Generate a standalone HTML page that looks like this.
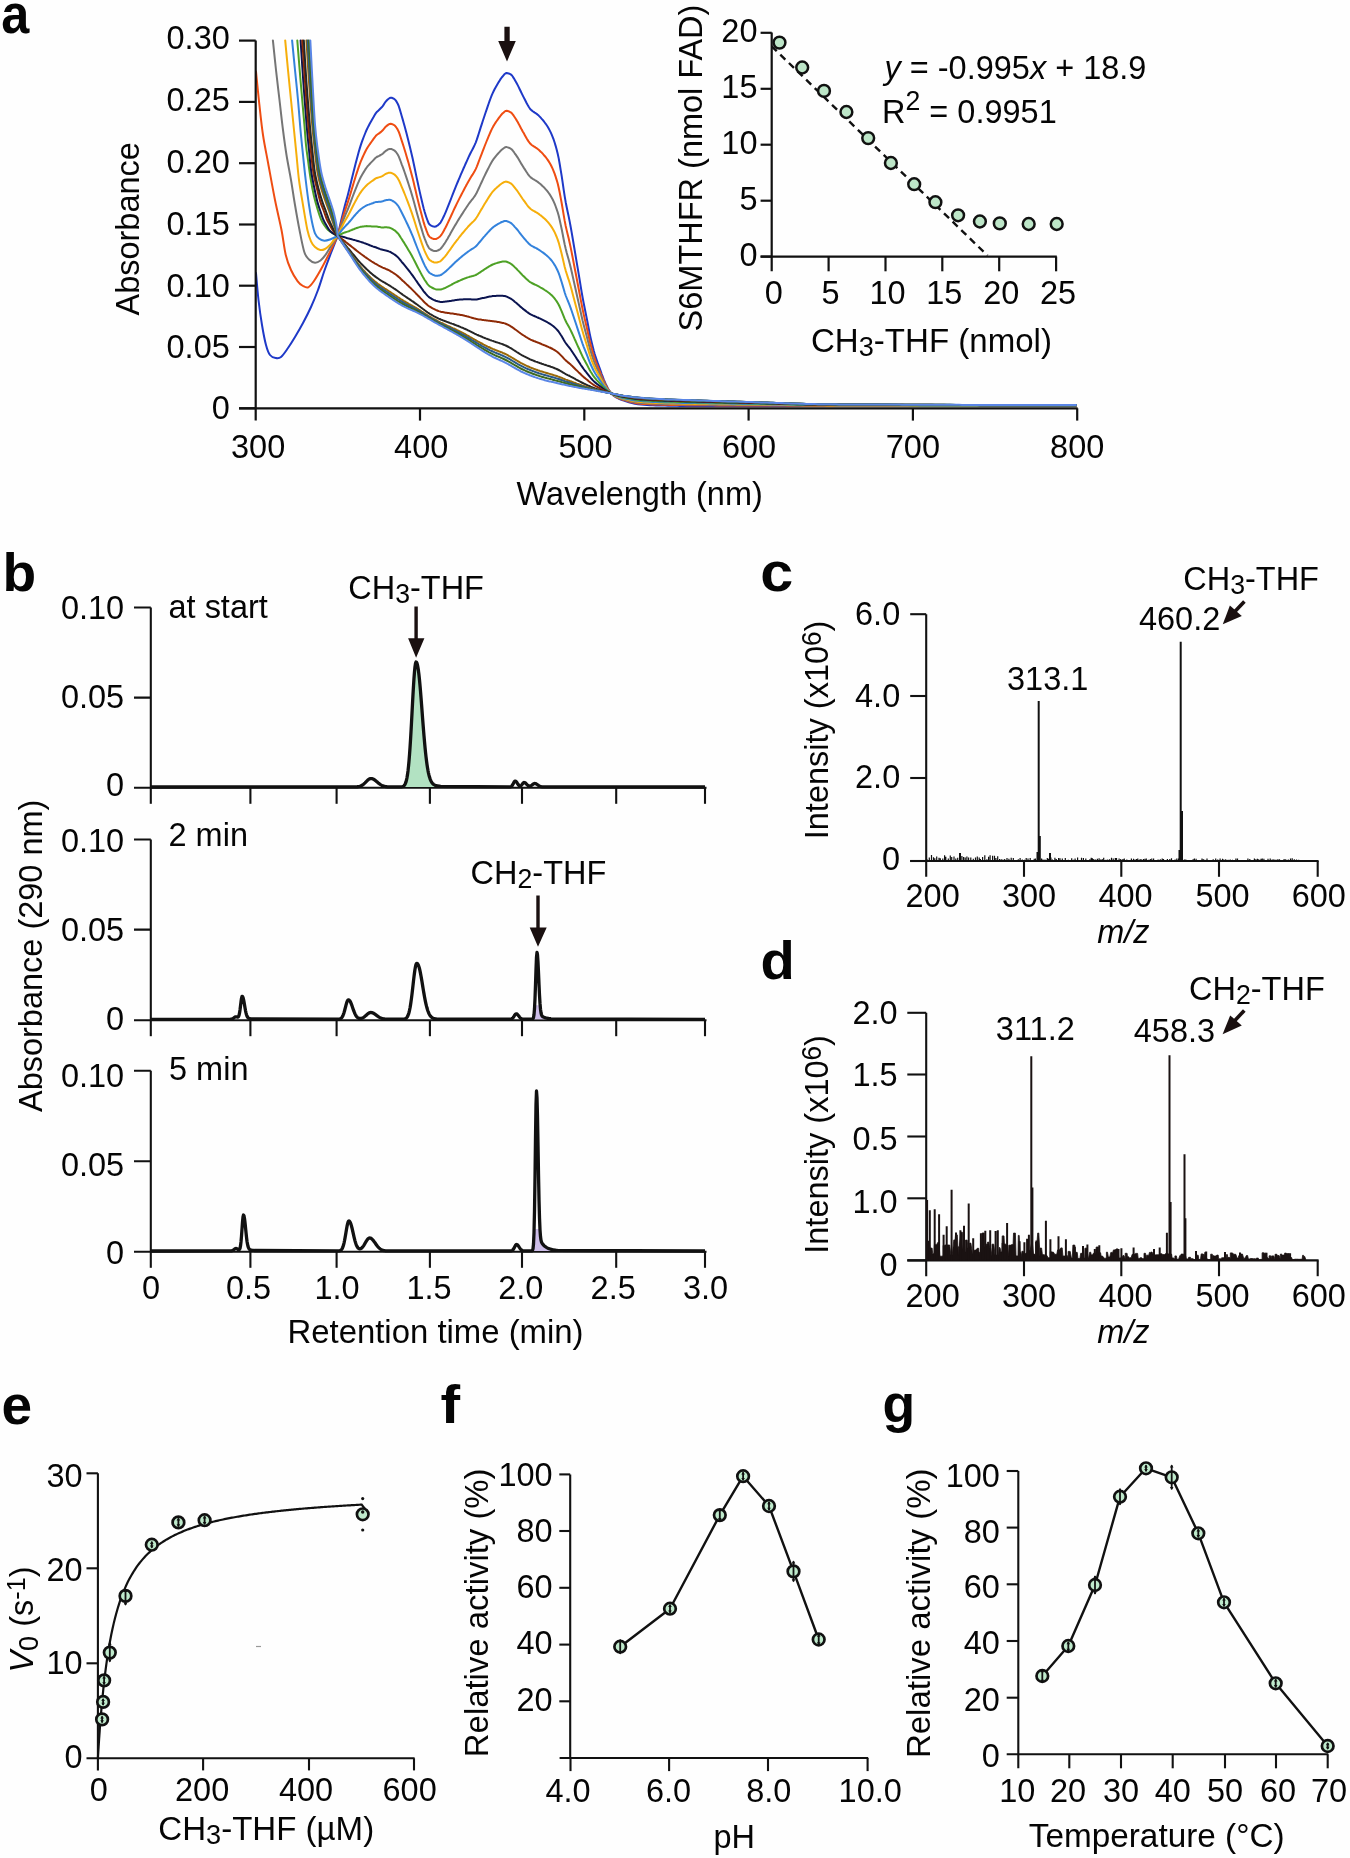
<!DOCTYPE html>
<html><head><meta charset="utf-8"><style>
html,body{margin:0;padding:0;background:#fff;}
svg{display:block;will-change:transform;}
text{font-family:"Liberation Sans",sans-serif;fill:#050505;}
</style></head><body>
<svg width="1350" height="1858" viewBox="0 0 1350 1858">
<rect width="1350" height="1858" fill="#fefefe"/>
<g fill="none" stroke-width="2" stroke-linejoin="round" stroke-linecap="round">
<path d="M256,273C256.42,277.5 257.5,291.33 258.5,300C259.5,308.67 260.75,317.5 262,325C263.25,332.5 264.67,340 266,345C267.33,350 268.38,352.83 270,355C271.62,357.17 273.87,357.67 275.7,358C277.53,358.33 278.95,358.67 281,357C283.05,355.33 285.67,351.33 288,348C290.33,344.67 292.5,341.17 295,337C297.5,332.83 300.33,328 303,323C305.67,318 308.5,312.5 311,307C313.5,301.5 315.78,296 318,290C320.22,284 322.13,277.17 324.3,271C326.47,264.83 328.77,258.83 331,253C333.23,247.17 336.58,238.83 337.7,236 L338.7,231.4 L339.7,226.9 L340.7,222.6 L341.7,218.3 L342.7,214.2 L343.7,210.2 L344.7,206.3 L345.7,202.6 L346.7,199.0 L347.7,195.4 L348.7,191.6 L349.7,187.6 L350.7,183.5 L351.7,179.3 L352.7,175.2 L353.7,171.2 L354.7,167.2 L355.7,163.2 L356.7,159.4 L357.7,155.7 L358.7,152.0 L359.7,148.6 L360.7,145.4 L361.7,142.4 L362.7,139.7 L363.7,137.0 L364.7,134.5 L365.7,132.0 L366.7,129.7 L367.7,127.6 L368.7,125.7 L369.7,123.8 L370.7,122.0 L371.7,120.2 L372.7,118.5 L373.7,116.8 L374.7,115.0 L375.7,113.4 L376.7,112.1 L377.7,111.2 L378.7,110.3 L379.7,109.3 L380.7,108.3 L381.7,107.3 L382.7,106.1 L383.7,104.6 L384.7,103.0 L385.7,101.6 L386.7,100.5 L387.7,99.5 L388.7,98.7 L389.7,98.0 L390.7,97.7 L391.7,97.8 L392.7,98.2 L393.7,98.7 L394.7,99.3 L395.7,100.4 L396.7,101.9 L397.7,103.7 L398.7,106.0 L399.7,109.1 L400.7,112.5 L401.7,116.0 L402.7,119.4 L403.7,122.9 L404.7,126.5 L405.7,130.3 L406.7,134.1 L407.7,138.0 L408.7,141.9 L409.7,146.0 L410.7,150.2 L411.7,154.4 L412.7,158.8 L413.7,163.5 L414.7,168.2 L415.7,173.1 L416.7,177.9 L417.7,182.5 L418.7,187.1 L419.7,191.6 L420.7,196.0 L421.7,200.2 L422.7,204.4 L423.7,208.4 L424.7,212.0 L425.7,215.2 L426.7,218.2 L427.7,221.0 L428.7,223.3 L429.7,224.6 L430.7,225.3 L431.7,225.9 L432.7,226.3 L433.7,226.6 L434.7,226.7 L435.7,226.5 L436.7,226.0 L437.7,225.4 L438.7,224.5 L439.7,223.6 L440.7,222.3 L441.7,220.6 L442.7,218.6 L443.7,216.5 L444.7,214.4 L445.7,212.1 L446.7,209.7 L447.7,207.2 L448.7,204.7 L449.7,202.1 L450.7,199.6 L451.7,197.0 L452.7,194.4 L453.7,191.8 L454.7,189.3 L455.7,186.9 L456.7,184.4 L457.7,182.0 L458.7,179.6 L459.7,177.3 L460.7,174.9 L461.7,172.6 L462.7,170.3 L463.7,168.0 L464.7,165.8 L465.7,163.5 L466.7,161.3 L467.7,159.1 L468.7,156.9 L469.7,154.8 L470.7,152.8 L471.7,150.9 L472.7,149.0 L473.7,147.0 L474.7,144.9 L475.7,142.6 L476.7,139.9 L477.7,136.9 L478.7,133.8 L479.7,130.6 L480.7,127.4 L481.7,124.4 L482.7,121.3 L483.7,118.3 L484.7,115.2 L485.7,112.2 L486.7,109.3 L487.7,106.4 L488.7,103.5 L489.7,100.7 L490.7,98.0 L491.7,95.4 L492.7,93.1 L493.7,91.0 L494.7,89.0 L495.7,87.2 L496.7,85.5 L497.7,83.8 L498.7,82.1 L499.7,80.5 L500.7,78.9 L501.7,77.5 L502.7,76.3 L503.7,75.1 L504.7,74.0 L505.7,73.3 L506.7,73.1 L507.7,73.3 L508.7,73.5 L509.7,73.9 L510.7,74.4 L511.7,75.2 L512.7,76.5 L513.7,78.1 L514.7,79.8 L515.7,81.5 L516.7,83.2 L517.7,85.1 L518.7,87.1 L519.7,89.2 L520.7,91.3 L521.7,93.4 L522.7,95.4 L523.7,97.4 L524.7,99.3 L525.7,101.3 L526.7,103.3 L527.7,105.1 L528.7,106.8 L529.7,108.3 L530.7,109.5 L531.7,110.4 L532.7,111.2 L533.7,111.9 L534.7,112.6 L535.7,113.2 L536.7,113.9 L537.7,114.7 L538.7,115.6 L539.7,116.6 L540.7,117.7 L541.7,118.8 L542.7,119.9 L543.7,121.2 L544.7,122.5 L545.7,123.8 L546.7,125.3 L547.7,126.8 L548.7,128.5 L549.7,130.4 L550.7,132.4 L551.7,134.6 L552.7,137.1 L553.7,139.7 L554.7,142.8 L555.7,146.1 L556.7,149.8 L557.7,153.8 L558.7,158.4 L559.7,164.0 L560.7,170.1 L561.7,176.2 L562.7,182.9 L563.7,189.8 L564.7,196.4 L565.7,202.2 L566.7,207.3 L567.7,212.0 L568.7,216.6 L569.7,221.6 L570.7,227.0 L571.7,232.6 L572.7,238.5 L573.7,244.5 L574.7,250.4 L575.7,256.3 L576.7,262.3 L577.7,268.2 L578.7,274.2 L579.7,280.2 L580.7,286.3 L581.7,292.3 L582.7,298.0 L583.7,303.3 L584.7,308.3 L585.7,313.2 L586.7,318.1 L587.7,323.2 L588.7,328.5 L589.7,333.6 L590.7,338.2 L591.7,342.5 L592.7,346.6 L593.7,350.5 L594.7,354.0 L595.7,357.2 L596.7,360.1 L597.7,362.9 L598.7,365.5 L599.7,368.3 L600.7,371.1 L601.7,374.0 L602.7,376.7 L603.7,379.3 L604.7,381.6 L605.7,383.9 L606.7,386.0 L607.7,388.0 L608.7,389.7 L609.7,391.2 L610.7,392.6 L611.7,393.8 L612.7,394.9 L613.7,395.8 L614.7,396.5 L615.7,397.1 L616.7,397.7 L617.7,398.2 L618.7,398.7 L619.7,399.1 L620.0,399.2 L623.0,400.4 L626.0,401.3 L629.0,402.2 L632.0,403.1 L635.0,403.8 L638.0,404.3 L641.0,404.6 L644.0,404.8 L647.0,405.0 L650.0,405.2 L653.0,405.3 L656.0,405.4 L659.0,405.5 L662.0,405.5 L665.0,405.6 L668.0,405.7 L671.0,405.7 L674.0,405.8 L677.0,405.8 L680.0,405.9 L683.0,405.9 L686.0,405.9 L689.0,406.0 L692.0,406.0 L695.0,406.0 L698.0,406.0 L701.0,406.0 L704.0,406.0 L707.0,406.0 L710.0,406.0 L713.0,406.0 L716.0,406.0 L719.0,406.0 L722.0,406.0 L725.0,406.0 L728.0,406.0 L731.0,406.0 L734.0,406.0 L737.0,406.0 L740.0,406.0 L743.0,406.0 L746.0,406.0 L749.0,406.0 L752.0,406.0 L755.0,406.0 L758.0,406.0 L761.0,406.0 L764.0,406.0 L767.0,406.0 L770.0,406.0 L773.0,406.0 L776.0,406.0 L779.0,406.0 L782.0,406.0 L785.0,406.0 L788.0,406.0 L791.0,406.0 L794.0,406.0 L797.0,406.0 L800.0,406.0 L803.0,406.0 L806.0,406.0 L809.0,406.0 L812.0,406.0 L815.0,406.0 L818.0,406.0 L821.0,406.0 L824.0,406.0 L827.0,406.0 L830.0,406.0 L833.0,406.0 L836.0,406.0 L839.0,406.0 L842.0,406.0 L845.0,406.0 L848.0,406.0 L851.0,406.0 L854.0,406.0 L857.0,406.0 L860.0,406.0 L863.0,406.0 L866.0,406.0 L869.0,406.0 L872.0,406.0 L875.0,406.0 L878.0,406.0 L881.0,406.0 L884.0,406.0 L887.0,406.0 L890.0,406.0 L893.0,406.0 L896.0,406.0 L899.0,406.0 L902.0,406.0 L905.0,406.0 L908.0,406.0 L911.0,406.0 L914.0,406.0 L917.0,406.0 L920.0,406.0 L923.0,406.0 L926.0,406.0 L929.0,406.0 L932.0,406.0 L935.0,406.0 L938.0,406.0 L941.0,406.0 L944.0,406.0 L947.0,406.0 L950.0,406.0 L953.0,406.0 L956.0,406.0 L959.0,406.0 L962.0,406.0 L965.0,406.0 L968.0,406.0 L971.0,406.0 L974.0,406.0 L977.0,406.0 L980.0,406.0 L983.0,406.0 L986.0,406.0 L989.0,406.0 L992.0,406.0 L995.0,406.0 L998.0,406.0 L1001.0,406.0 L1004.0,406.0 L1007.0,406.0 L1010.0,406.0 L1013.0,406.0 L1016.0,406.0 L1019.0,406.0 L1022.0,406.0 L1025.0,406.0 L1028.0,406.0 L1031.0,406.0 L1034.0,406.0 L1037.0,406.0 L1040.0,406.0 L1043.0,406.0 L1046.0,406.0 L1049.0,406.0 L1052.0,406.0 L1055.0,406.0 L1058.0,406.0 L1061.0,406.0 L1064.0,406.0 L1067.0,406.0 L1070.0,406.0 L1073.0,406.0 L1076.0,406.0" stroke="#1e39c8"/>
<path d="M256,71.5C256.55,76.92 258.13,93.42 259.3,104C260.47,114.58 261.53,125.17 263,135C264.47,144.83 266.1,152.17 268.1,163C270.1,173.83 272.77,188.83 275,200C277.23,211.17 279.72,220.88 281.5,230C283.28,239.12 284.12,248.03 285.7,254.7C287.28,261.37 289,265.57 291,270C293,274.43 295.7,278.63 297.7,281.3C299.7,283.97 301.23,285 303,286C304.77,287 306.47,288.13 308.3,287.3C310.13,286.47 311.77,284.22 314,281C316.23,277.78 319.03,272.83 321.7,268C324.37,263.17 327.33,257.33 330,252C332.67,246.67 336.42,238.67 337.7,236 L338.7,232.2 L339.7,228.5 L340.7,224.9 L341.7,221.4 L342.7,218.0 L343.7,214.7 L344.7,211.6 L345.7,208.6 L346.7,205.6 L347.7,202.6 L348.7,199.5 L349.7,196.3 L350.7,192.9 L351.7,189.4 L352.7,186.1 L353.7,182.8 L354.7,179.5 L355.7,176.2 L356.7,173.1 L357.7,170.1 L358.7,167.1 L359.7,164.3 L360.7,161.7 L361.7,159.3 L362.7,157.0 L363.7,154.9 L364.7,152.8 L365.7,150.8 L366.7,148.9 L367.7,147.3 L368.7,145.8 L369.7,144.3 L370.7,142.9 L371.7,141.5 L372.7,140.1 L373.7,138.7 L374.7,137.3 L375.7,136.0 L376.7,135.0 L377.7,134.3 L378.7,133.6 L379.7,132.9 L380.7,132.1 L381.7,131.3 L382.7,130.3 L383.7,129.1 L384.7,127.9 L385.7,126.7 L386.7,125.9 L387.7,125.1 L388.7,124.4 L389.7,124.0 L390.7,123.8 L391.7,124.0 L392.7,124.4 L393.7,124.9 L394.7,125.5 L395.7,126.6 L396.7,128.0 L397.7,129.6 L398.7,131.7 L399.7,134.4 L400.7,137.5 L401.7,140.6 L402.7,143.6 L403.7,146.7 L404.7,150.0 L405.7,153.3 L406.7,156.7 L407.7,160.1 L408.7,163.6 L409.7,167.2 L410.7,170.9 L411.7,174.7 L412.7,178.6 L413.7,182.6 L414.7,186.9 L415.7,191.1 L416.7,195.4 L417.7,199.5 L418.7,203.5 L419.7,207.5 L420.7,211.3 L421.7,215.1 L422.7,218.8 L423.7,222.4 L424.7,225.6 L425.7,228.4 L426.7,231.2 L427.7,233.7 L428.7,235.7 L429.7,237.0 L430.7,237.6 L431.7,238.2 L432.7,238.6 L433.7,239.0 L434.7,239.1 L435.7,239.1 L436.7,238.7 L437.7,238.2 L438.7,237.5 L439.7,236.8 L440.7,235.7 L441.7,234.3 L442.7,232.7 L443.7,230.9 L444.7,229.1 L445.7,227.2 L446.7,225.2 L447.7,223.1 L448.7,221.0 L449.7,218.8 L450.7,216.7 L451.7,214.5 L452.7,212.3 L453.7,210.1 L454.7,208.0 L455.7,206.0 L456.7,203.9 L457.7,201.9 L458.7,199.9 L459.7,197.9 L460.7,196.0 L461.7,194.0 L462.7,192.1 L463.7,190.2 L464.7,188.3 L465.7,186.4 L466.7,184.6 L467.7,182.7 L468.7,180.9 L469.7,179.2 L470.7,177.5 L471.7,175.9 L472.7,174.4 L473.7,172.8 L474.7,171.0 L475.7,169.1 L476.7,166.8 L477.7,164.3 L478.7,161.7 L479.7,159.0 L480.7,156.3 L481.7,153.8 L482.7,151.2 L483.7,148.6 L484.7,146.0 L485.7,143.5 L486.7,141.0 L487.7,138.6 L488.7,136.2 L489.7,133.8 L490.7,131.5 L491.7,129.4 L492.7,127.4 L493.7,125.6 L494.7,124.0 L495.7,122.4 L496.7,121.0 L497.7,119.6 L498.7,118.2 L499.7,116.8 L500.7,115.5 L501.7,114.3 L502.7,113.3 L503.7,112.4 L504.7,111.5 L505.7,110.9 L506.7,110.8 L507.7,111.0 L508.7,111.4 L509.7,111.8 L510.7,112.3 L511.7,113.1 L512.7,114.3 L513.7,115.7 L514.7,117.2 L515.7,118.8 L516.7,120.4 L517.7,122.1 L518.7,123.9 L519.7,125.8 L520.7,127.7 L521.7,129.6 L522.7,131.4 L523.7,133.1 L524.7,134.9 L525.7,136.7 L526.7,138.5 L527.7,140.1 L528.7,141.7 L529.7,143.0 L530.7,144.1 L531.7,145.0 L532.7,145.7 L533.7,146.3 L534.7,146.9 L535.7,147.6 L536.7,148.2 L537.7,149.0 L538.7,149.8 L539.7,150.7 L540.7,151.7 L541.7,152.6 L542.7,153.7 L543.7,154.8 L544.7,156.0 L545.7,157.2 L546.7,158.5 L547.7,159.9 L548.7,161.4 L549.7,163.0 L550.7,164.8 L551.7,166.8 L552.7,168.9 L553.7,171.3 L554.7,173.9 L555.7,176.9 L556.7,180.1 L557.7,183.6 L558.7,187.7 L559.7,192.5 L560.7,197.9 L561.7,203.3 L562.7,209.1 L563.7,215.1 L564.7,220.9 L565.7,226.0 L566.7,230.4 L567.7,234.5 L568.7,238.6 L569.7,242.9 L570.7,247.6 L571.7,252.6 L572.7,257.8 L573.7,263.0 L574.7,268.2 L575.7,273.3 L576.7,278.5 L577.7,283.7 L578.7,289.0 L579.7,294.2 L580.7,299.6 L581.7,304.8 L582.7,309.8 L583.7,314.4 L584.7,318.7 L585.7,323.0 L586.7,327.3 L587.7,331.8 L588.7,336.4 L589.7,340.9 L590.7,344.9 L591.7,348.7 L592.7,352.3 L593.7,355.6 L594.7,358.7 L595.7,361.6 L596.7,364.1 L597.7,366.5 L598.7,368.9 L599.7,371.3 L600.7,373.8 L601.7,376.3 L602.7,378.7 L603.7,380.9 L604.7,383.0 L605.7,385.0 L606.7,386.9 L607.7,388.6 L608.7,390.1 L609.7,391.4 L610.7,392.7 L611.7,393.8 L612.7,394.7 L613.7,395.5 L614.7,396.2 L615.7,396.7 L616.7,397.3 L617.7,397.7 L618.7,398.2 L619.7,398.6 L620.0,398.7 L623.0,399.7 L626.0,400.6 L629.0,401.5 L632.0,402.2 L635.0,402.9 L638.0,403.4 L641.0,403.7 L644.0,403.9 L647.0,404.1 L650.0,404.3 L653.0,404.4 L656.0,404.5 L659.0,404.6 L662.0,404.7 L665.0,404.8 L668.0,404.8 L671.0,404.9 L674.0,405.0 L677.0,405.0 L680.0,405.1 L683.0,405.1 L686.0,405.2 L689.0,405.2 L692.0,405.2 L695.0,405.3 L698.0,405.3 L701.0,405.3 L704.0,405.3 L707.0,405.3 L710.0,405.3 L713.0,405.3 L716.0,405.4 L719.0,405.4 L722.0,405.4 L725.0,405.4 L728.0,405.4 L731.0,405.4 L734.0,405.4 L737.0,405.4 L740.0,405.4 L743.0,405.5 L746.0,405.5 L749.0,405.5 L752.0,405.5 L755.0,405.5 L758.0,405.5 L761.0,405.5 L764.0,405.5 L767.0,405.6 L770.0,405.6 L773.0,405.6 L776.0,405.6 L779.0,405.6 L782.0,405.6 L785.0,405.6 L788.0,405.7 L791.0,405.7 L794.0,405.7 L797.0,405.7 L800.0,405.7 L803.0,405.7 L806.0,405.7 L809.0,405.7 L812.0,405.7 L815.0,405.8 L818.0,405.8 L821.0,405.8 L824.0,405.8 L827.0,405.8 L830.0,405.8 L833.0,405.8 L836.0,405.8 L839.0,405.8 L842.0,405.8 L845.0,405.8 L848.0,405.8 L851.0,405.8 L854.0,405.8 L857.0,405.8 L860.0,405.8 L863.0,405.8 L866.0,405.8 L869.0,405.8 L872.0,405.8 L875.0,405.8 L878.0,405.8 L881.0,405.8 L884.0,405.8 L887.0,405.8 L890.0,405.8 L893.0,405.8 L896.0,405.8 L899.0,405.8 L902.0,405.8 L905.0,405.8 L908.0,405.8 L911.0,405.8 L914.0,405.8 L917.0,405.8 L920.0,405.8 L923.0,405.8 L926.0,405.8 L929.0,405.8 L932.0,405.8 L935.0,405.8 L938.0,405.8 L941.0,405.8 L944.0,405.8 L947.0,405.8 L950.0,405.8 L953.0,405.8 L956.0,405.8 L959.0,405.9 L962.0,405.9 L965.0,405.9 L968.0,405.9 L971.0,405.9 L974.0,405.9 L977.0,405.9 L980.0,405.9 L983.0,405.9 L986.0,405.9 L989.0,405.9 L992.0,405.9 L995.0,405.9 L998.0,405.9 L1001.0,405.9 L1004.0,405.9 L1007.0,405.9 L1010.0,405.9 L1013.0,405.9 L1016.0,405.9 L1019.0,405.9 L1022.0,405.9 L1025.0,405.9 L1028.0,405.9 L1031.0,405.9 L1034.0,405.9 L1037.0,405.9 L1040.0,405.9 L1043.0,405.9 L1046.0,405.9 L1049.0,405.9 L1052.0,405.9 L1055.0,405.9 L1058.0,405.9 L1061.0,405.9 L1064.0,405.9 L1067.0,405.9 L1070.0,405.9 L1073.0,405.9 L1076.0,405.9" stroke="#ef4d12"/>
<path d="M272.9,40.4C273.42,45.33 274.9,60.07 276,70C277.1,79.93 278.33,90 279.5,100C280.67,110 281.83,120.83 283,130C284.17,139.17 285.17,146.67 286.5,155C287.83,163.33 289.58,171.67 291,180C292.42,188.33 293.58,196.67 295,205C296.42,213.33 297.95,222.17 299.5,230C301.05,237.83 302.72,247.08 304.3,252C305.88,256.92 307.22,257.72 309,259.5C310.78,261.28 313.08,262.53 315,262.7C316.92,262.87 318.72,261.83 320.5,260.5C322.28,259.17 323.95,257.12 325.7,254.7C327.45,252.28 329,249.12 331,246C333,242.88 336.58,237.67 337.7,236 L338.7,233.0 L339.7,230.0 L340.7,227.2 L341.7,224.4 L342.7,221.7 L343.7,219.1 L344.7,216.6 L345.7,214.2 L346.7,211.9 L347.7,209.6 L348.7,207.2 L349.7,204.6 L350.7,201.9 L351.7,199.2 L352.7,196.5 L353.7,193.9 L354.7,191.3 L355.7,188.8 L356.7,186.3 L357.7,183.9 L358.7,181.6 L359.7,179.4 L360.7,177.3 L361.7,175.5 L362.7,173.7 L363.7,172.1 L364.7,170.5 L365.7,168.9 L366.7,167.5 L367.7,166.2 L368.7,165.1 L369.7,164.0 L370.7,162.9 L371.7,161.9 L372.7,160.9 L373.7,159.8 L374.7,158.7 L375.7,157.7 L376.7,157.0 L377.7,156.5 L378.7,156.1 L379.7,155.5 L380.7,155.0 L381.7,154.4 L382.7,153.7 L383.7,152.8 L384.7,151.8 L385.7,150.9 L386.7,150.3 L387.7,149.7 L388.7,149.2 L389.7,148.9 L390.7,148.9 L391.7,149.1 L392.7,149.6 L393.7,150.1 L394.7,150.7 L395.7,151.7 L396.7,153.0 L397.7,154.5 L398.7,156.4 L399.7,158.8 L400.7,161.5 L401.7,164.3 L402.7,166.9 L403.7,169.7 L404.7,172.5 L405.7,175.4 L406.7,178.4 L407.7,181.4 L408.7,184.5 L409.7,187.6 L410.7,190.8 L411.7,194.1 L412.7,197.5 L413.7,201.1 L414.7,204.8 L415.7,208.5 L416.7,212.2 L417.7,215.7 L418.7,219.3 L419.7,222.7 L420.7,226.1 L421.7,229.4 L422.7,232.7 L423.7,235.9 L424.7,238.7 L425.7,241.2 L426.7,243.6 L427.7,245.8 L428.7,247.6 L429.7,248.8 L430.7,249.5 L431.7,250.0 L432.7,250.5 L433.7,250.9 L434.7,251.1 L435.7,251.1 L436.7,250.9 L437.7,250.5 L438.7,250.0 L439.7,249.5 L440.7,248.7 L441.7,247.5 L442.7,246.2 L443.7,244.7 L444.7,243.3 L445.7,241.8 L446.7,240.1 L447.7,238.4 L448.7,236.6 L449.7,234.9 L450.7,233.1 L451.7,231.3 L452.7,229.5 L453.7,227.7 L454.7,226.0 L455.7,224.4 L456.7,222.7 L457.7,221.0 L458.7,219.4 L459.7,217.8 L460.7,216.2 L461.7,214.6 L462.7,213.1 L463.7,211.5 L464.7,210.0 L465.7,208.5 L466.7,207.0 L467.7,205.5 L468.7,204.0 L469.7,202.6 L470.7,201.3 L471.7,200.0 L472.7,198.8 L473.7,197.5 L474.7,196.1 L475.7,194.5 L476.7,192.7 L477.7,190.6 L478.7,188.5 L479.7,186.3 L480.7,184.1 L481.7,182.0 L482.7,179.9 L483.7,177.7 L484.7,175.6 L485.7,173.5 L486.7,171.5 L487.7,169.5 L488.7,167.6 L489.7,165.6 L490.7,163.7 L491.7,162.0 L492.7,160.3 L493.7,158.9 L494.7,157.6 L495.7,156.3 L496.7,155.1 L497.7,154.0 L498.7,152.9 L499.7,151.8 L500.7,150.7 L501.7,149.8 L502.7,149.0 L503.7,148.2 L504.7,147.5 L505.7,147.1 L506.7,147.1 L507.7,147.4 L508.7,147.7 L509.7,148.2 L510.7,148.7 L511.7,149.4 L512.7,150.5 L513.7,151.8 L514.7,153.3 L515.7,154.7 L516.7,156.1 L517.7,157.6 L518.7,159.3 L519.7,161.0 L520.7,162.7 L521.7,164.4 L522.7,166.0 L523.7,167.6 L524.7,169.1 L525.7,170.7 L526.7,172.3 L527.7,173.8 L528.7,175.2 L529.7,176.4 L530.7,177.4 L531.7,178.1 L532.7,178.8 L533.7,179.4 L534.7,180.0 L535.7,180.6 L536.7,181.2 L537.7,181.9 L538.7,182.7 L539.7,183.5 L540.7,184.3 L541.7,185.2 L542.7,186.2 L543.7,187.1 L544.7,188.2 L545.7,189.3 L546.7,190.4 L547.7,191.6 L548.7,193.0 L549.7,194.4 L550.7,196.0 L551.7,197.7 L552.7,199.5 L553.7,201.6 L554.7,203.9 L555.7,206.5 L556.7,209.3 L557.7,212.3 L558.7,215.8 L559.7,220.0 L560.7,224.6 L561.7,229.3 L562.7,234.3 L563.7,239.5 L564.7,244.5 L565.7,248.8 L566.7,252.7 L567.7,256.2 L568.7,259.7 L569.7,263.5 L570.7,267.5 L571.7,271.8 L572.7,276.3 L573.7,280.8 L574.7,285.2 L575.7,289.7 L576.7,294.2 L577.7,298.7 L578.7,303.1 L579.7,307.7 L580.7,312.3 L581.7,316.8 L582.7,321.1 L583.7,325.0 L584.7,328.8 L585.7,332.5 L586.7,336.2 L587.7,340.0 L588.7,344.0 L589.7,347.9 L590.7,351.4 L591.7,354.6 L592.7,357.7 L593.7,360.6 L594.7,363.3 L595.7,365.7 L596.7,367.9 L597.7,370.0 L598.7,372.1 L599.7,374.1 L600.7,376.3 L601.7,378.5 L602.7,380.6 L603.7,382.5 L604.7,384.3 L605.7,386.1 L606.7,387.7 L607.7,389.2 L608.7,390.5 L609.7,391.7 L610.7,392.8 L611.7,393.7 L612.7,394.6 L613.7,395.3 L614.7,395.9 L615.7,396.4 L616.7,396.9 L617.7,397.3 L618.7,397.7 L619.7,398.1 L620.0,398.2 L623.0,399.2 L626.0,400.0 L629.0,400.8 L632.0,401.5 L635.0,402.1 L638.0,402.6 L641.0,402.9 L644.0,403.1 L647.0,403.3 L650.0,403.5 L653.0,403.6 L656.0,403.7 L659.0,403.8 L662.0,403.9 L665.0,404.0 L668.0,404.1 L671.0,404.1 L674.0,404.2 L677.0,404.3 L680.0,404.3 L683.0,404.4 L686.0,404.4 L689.0,404.5 L692.0,404.5 L695.0,404.5 L698.0,404.6 L701.0,404.6 L704.0,404.6 L707.0,404.7 L710.0,404.7 L713.0,404.7 L716.0,404.7 L719.0,404.8 L722.0,404.8 L725.0,404.8 L728.0,404.8 L731.0,404.8 L734.0,404.9 L737.0,404.9 L740.0,404.9 L743.0,404.9 L746.0,405.0 L749.0,405.0 L752.0,405.0 L755.0,405.0 L758.0,405.0 L761.0,405.1 L764.0,405.1 L767.0,405.1 L770.0,405.2 L773.0,405.2 L776.0,405.2 L779.0,405.2 L782.0,405.3 L785.0,405.3 L788.0,405.3 L791.0,405.3 L794.0,405.4 L797.0,405.4 L800.0,405.4 L803.0,405.4 L806.0,405.5 L809.0,405.5 L812.0,405.5 L815.0,405.5 L818.0,405.5 L821.0,405.5 L824.0,405.6 L827.0,405.6 L830.0,405.6 L833.0,405.6 L836.0,405.6 L839.0,405.6 L842.0,405.6 L845.0,405.6 L848.0,405.6 L851.0,405.6 L854.0,405.6 L857.0,405.6 L860.0,405.6 L863.0,405.6 L866.0,405.6 L869.0,405.6 L872.0,405.6 L875.0,405.6 L878.0,405.6 L881.0,405.6 L884.0,405.6 L887.0,405.6 L890.0,405.6 L893.0,405.6 L896.0,405.7 L899.0,405.7 L902.0,405.7 L905.0,405.7 L908.0,405.7 L911.0,405.7 L914.0,405.7 L917.0,405.7 L920.0,405.7 L923.0,405.7 L926.0,405.7 L929.0,405.7 L932.0,405.7 L935.0,405.7 L938.0,405.7 L941.0,405.7 L944.0,405.7 L947.0,405.7 L950.0,405.7 L953.0,405.7 L956.0,405.7 L959.0,405.7 L962.0,405.7 L965.0,405.7 L968.0,405.7 L971.0,405.7 L974.0,405.7 L977.0,405.7 L980.0,405.7 L983.0,405.7 L986.0,405.7 L989.0,405.7 L992.0,405.7 L995.0,405.7 L998.0,405.7 L1001.0,405.7 L1004.0,405.7 L1007.0,405.7 L1010.0,405.7 L1013.0,405.7 L1016.0,405.7 L1019.0,405.7 L1022.0,405.7 L1025.0,405.7 L1028.0,405.7 L1031.0,405.7 L1034.0,405.7 L1037.0,405.7 L1040.0,405.7 L1043.0,405.7 L1046.0,405.7 L1049.0,405.7 L1052.0,405.7 L1055.0,405.7 L1058.0,405.7 L1061.0,405.7 L1064.0,405.7 L1067.0,405.7 L1070.0,405.7 L1073.0,405.7 L1076.0,405.7" stroke="#757575"/>
<path d="M285.2,40.4C285.67,45.33 287.03,60.07 288,70C288.97,79.93 290,90 291,100C292,110 293.08,120.83 294,130C294.92,139.17 295.67,146.67 296.5,155C297.33,163.33 297.92,171.67 299,180C300.08,188.33 301.6,196.67 303,205C304.4,213.33 306.07,223.95 307.4,230C308.73,236.05 309.73,238.47 311,241.3C312.27,244.13 313.45,245.55 315,247C316.55,248.45 318.63,249.67 320.3,250C321.97,250.33 323.43,249.78 325,249C326.57,248.22 328.2,246.8 329.7,245.3C331.2,243.8 332.67,241.55 334,240C335.33,238.45 337.08,236.67 337.7,236 L338.7,233.7 L339.7,231.4 L340.7,229.3 L341.7,227.2 L342.7,225.2 L343.7,223.2 L344.7,221.4 L345.7,219.6 L346.7,218.0 L347.7,216.2 L348.7,214.4 L349.7,212.5 L350.7,210.5 L351.7,208.5 L352.7,206.5 L353.7,204.5 L354.7,202.6 L355.7,200.7 L356.7,198.9 L357.7,197.1 L358.7,195.4 L359.7,193.7 L360.7,192.3 L361.7,190.9 L362.7,189.6 L363.7,188.4 L364.7,187.3 L365.7,186.2 L366.7,185.2 L367.7,184.3 L368.7,183.5 L369.7,182.8 L370.7,182.0 L371.7,181.3 L372.7,180.6 L373.7,179.9 L374.7,179.1 L375.7,178.4 L376.7,178.0 L377.7,177.7 L378.7,177.4 L379.7,177.1 L380.7,176.8 L381.7,176.4 L382.7,175.9 L383.7,175.2 L384.7,174.5 L385.7,173.9 L386.7,173.5 L387.7,173.1 L388.7,172.8 L389.7,172.7 L390.7,172.7 L391.7,173.1 L392.7,173.5 L393.7,174.1 L394.7,174.7 L395.7,175.7 L396.7,176.9 L397.7,178.2 L398.7,179.9 L399.7,182.0 L400.7,184.4 L401.7,186.8 L402.7,189.1 L403.7,191.5 L404.7,194.0 L405.7,196.5 L406.7,199.1 L407.7,201.7 L408.7,204.3 L409.7,207.0 L410.7,209.8 L411.7,212.7 L412.7,215.6 L413.7,218.6 L414.7,221.8 L415.7,225.0 L416.7,228.2 L417.7,231.3 L418.7,234.3 L419.7,237.3 L420.7,240.2 L421.7,243.1 L422.7,245.9 L423.7,248.7 L424.7,251.1 L425.7,253.3 L426.7,255.4 L427.7,257.4 L428.7,259.0 L429.7,260.1 L430.7,260.7 L431.7,261.3 L432.7,261.8 L433.7,262.2 L434.7,262.5 L435.7,262.6 L436.7,262.5 L437.7,262.2 L438.7,261.9 L439.7,261.6 L440.7,261.0 L441.7,260.1 L442.7,259.0 L443.7,257.9 L444.7,256.8 L445.7,255.6 L446.7,254.3 L447.7,252.9 L448.7,251.5 L449.7,250.2 L450.7,248.8 L451.7,247.3 L452.7,245.9 L453.7,244.5 L454.7,243.2 L455.7,241.9 L456.7,240.5 L457.7,239.3 L458.7,238.0 L459.7,236.7 L460.7,235.5 L461.7,234.2 L462.7,233.0 L463.7,231.8 L464.7,230.6 L465.7,229.4 L466.7,228.3 L467.7,227.2 L468.7,226.0 L469.7,225.0 L470.7,223.9 L471.7,223.0 L472.7,222.1 L473.7,221.1 L474.7,220.0 L475.7,218.8 L476.7,217.3 L477.7,215.7 L478.7,214.0 L479.7,212.3 L480.7,210.5 L481.7,208.9 L482.7,207.2 L483.7,205.5 L484.7,203.8 L485.7,202.2 L486.7,200.6 L487.7,199.0 L488.7,197.4 L489.7,195.9 L490.7,194.4 L491.7,193.0 L492.7,191.7 L493.7,190.6 L494.7,189.5 L495.7,188.6 L496.7,187.6 L497.7,186.8 L498.7,185.9 L499.7,185.0 L500.7,184.2 L501.7,183.5 L502.7,182.9 L503.7,182.3 L504.7,181.9 L505.7,181.6 L506.7,181.7 L507.7,182.0 L508.7,182.4 L509.7,182.8 L510.7,183.3 L511.7,184.1 L512.7,185.1 L513.7,186.3 L514.7,187.6 L515.7,188.9 L516.7,190.1 L517.7,191.5 L518.7,193.0 L519.7,194.5 L520.7,196.0 L521.7,197.5 L522.7,199.0 L523.7,200.3 L524.7,201.7 L525.7,203.1 L526.7,204.5 L527.7,205.8 L528.7,207.0 L529.7,208.1 L530.7,209.0 L531.7,209.7 L532.7,210.4 L533.7,210.9 L534.7,211.5 L535.7,212.0 L536.7,212.6 L537.7,213.2 L538.7,213.9 L539.7,214.7 L540.7,215.4 L541.7,216.2 L542.7,217.1 L543.7,217.9 L544.7,218.8 L545.7,219.8 L546.7,220.8 L547.7,221.9 L548.7,223.0 L549.7,224.3 L550.7,225.6 L551.7,227.1 L552.7,228.7 L553.7,230.5 L554.7,232.4 L555.7,234.6 L556.7,237.0 L557.7,239.6 L558.7,242.6 L559.7,246.2 L560.7,250.1 L561.7,254.0 L562.7,258.2 L563.7,262.6 L564.7,266.9 L565.7,270.6 L566.7,273.8 L567.7,276.9 L568.7,279.8 L569.7,283.0 L570.7,286.5 L571.7,290.1 L572.7,293.9 L573.7,297.7 L574.7,301.5 L575.7,305.3 L576.7,309.0 L577.7,312.8 L578.7,316.7 L579.7,320.5 L580.7,324.4 L581.7,328.2 L582.7,331.8 L583.7,335.2 L584.7,338.4 L585.7,341.5 L586.7,344.6 L587.7,347.9 L588.7,351.3 L589.7,354.6 L590.7,357.5 L591.7,360.3 L592.7,362.9 L593.7,365.4 L594.7,367.6 L595.7,369.7 L596.7,371.6 L597.7,373.4 L598.7,375.1 L599.7,376.9 L600.7,378.7 L601.7,380.6 L602.7,382.4 L603.7,384.1 L604.7,385.6 L605.7,387.1 L606.7,388.5 L607.7,389.8 L608.7,390.9 L609.7,391.9 L610.7,392.8 L611.7,393.7 L612.7,394.5 L613.7,395.1 L614.7,395.6 L615.7,396.1 L616.7,396.5 L617.7,396.9 L618.7,397.3 L619.7,397.6 L620.0,397.7 L623.0,398.6 L626.0,399.4 L629.0,400.1 L632.0,400.7 L635.0,401.3 L638.0,401.8 L641.0,402.1 L644.0,402.3 L647.0,402.5 L650.0,402.7 L653.0,402.8 L656.0,402.9 L659.0,403.1 L662.0,403.1 L665.0,403.2 L668.0,403.3 L671.0,403.4 L674.0,403.5 L677.0,403.5 L680.0,403.6 L683.0,403.7 L686.0,403.7 L689.0,403.8 L692.0,403.8 L695.0,403.9 L698.0,403.9 L701.0,404.0 L704.0,404.0 L707.0,404.0 L710.0,404.1 L713.0,404.1 L716.0,404.1 L719.0,404.2 L722.0,404.2 L725.0,404.2 L728.0,404.3 L731.0,404.3 L734.0,404.3 L737.0,404.4 L740.0,404.4 L743.0,404.4 L746.0,404.5 L749.0,404.5 L752.0,404.5 L755.0,404.6 L758.0,404.6 L761.0,404.6 L764.0,404.7 L767.0,404.7 L770.0,404.8 L773.0,404.8 L776.0,404.8 L779.0,404.9 L782.0,404.9 L785.0,405.0 L788.0,405.0 L791.0,405.0 L794.0,405.1 L797.0,405.1 L800.0,405.1 L803.0,405.2 L806.0,405.2 L809.0,405.2 L812.0,405.3 L815.0,405.3 L818.0,405.3 L821.0,405.3 L824.0,405.3 L827.0,405.4 L830.0,405.4 L833.0,405.4 L836.0,405.4 L839.0,405.4 L842.0,405.4 L845.0,405.4 L848.0,405.4 L851.0,405.4 L854.0,405.4 L857.0,405.4 L860.0,405.4 L863.0,405.4 L866.0,405.4 L869.0,405.4 L872.0,405.4 L875.0,405.5 L878.0,405.5 L881.0,405.5 L884.0,405.5 L887.0,405.5 L890.0,405.5 L893.0,405.5 L896.0,405.5 L899.0,405.5 L902.0,405.5 L905.0,405.5 L908.0,405.5 L911.0,405.5 L914.0,405.5 L917.0,405.5 L920.0,405.5 L923.0,405.5 L926.0,405.5 L929.0,405.5 L932.0,405.5 L935.0,405.5 L938.0,405.5 L941.0,405.6 L944.0,405.6 L947.0,405.6 L950.0,405.6 L953.0,405.6 L956.0,405.6 L959.0,405.6 L962.0,405.6 L965.0,405.6 L968.0,405.6 L971.0,405.6 L974.0,405.6 L977.0,405.6 L980.0,405.6 L983.0,405.6 L986.0,405.6 L989.0,405.6 L992.0,405.6 L995.0,405.6 L998.0,405.6 L1001.0,405.6 L1004.0,405.6 L1007.0,405.6 L1010.0,405.6 L1013.0,405.6 L1016.0,405.6 L1019.0,405.6 L1022.0,405.6 L1025.0,405.6 L1028.0,405.6 L1031.0,405.6 L1034.0,405.6 L1037.0,405.6 L1040.0,405.6 L1043.0,405.6 L1046.0,405.6 L1049.0,405.6 L1052.0,405.6 L1055.0,405.6 L1058.0,405.6 L1061.0,405.6 L1064.0,405.6 L1067.0,405.6 L1070.0,405.6 L1073.0,405.6 L1076.0,405.6" stroke="#f6ae0a"/>
<path d="M292.1,40.4C292.58,45.33 294.02,60.07 295,70C295.98,79.93 297.08,90 298,100C298.92,110 299.67,120.83 300.5,130C301.33,139.17 302.13,146.67 303,155C303.87,163.33 304.7,171.67 305.7,180C306.7,188.33 307.95,198 309,205C310.05,212 311,217.28 312,222C313,226.72 313.83,230.55 315,233.3C316.17,236.05 317.45,237.27 319,238.5C320.55,239.73 322.47,240.53 324.3,240.7C326.13,240.87 327.77,240.28 330,239.5C332.23,238.72 336.42,236.58 337.7,236 L338.7,234.5 L339.7,233.1 L340.7,231.7 L341.7,230.4 L342.7,229.2 L343.7,228.0 L344.7,226.9 L345.7,225.8 L346.7,224.8 L347.7,223.8 L348.7,222.7 L349.7,221.5 L350.7,220.3 L351.7,219.1 L352.7,217.8 L353.7,216.7 L354.7,215.5 L355.7,214.3 L356.7,213.2 L357.7,212.2 L358.7,211.1 L359.7,210.2 L360.7,209.3 L361.7,208.5 L362.7,207.8 L363.7,207.1 L364.7,206.5 L365.7,205.9 L366.7,205.4 L367.7,204.9 L368.7,204.6 L369.7,204.2 L370.7,203.9 L371.7,203.5 L372.7,203.2 L373.7,202.8 L374.7,202.4 L375.7,202.1 L376.7,201.9 L377.7,201.9 L378.7,201.8 L379.7,201.8 L380.7,201.7 L381.7,201.5 L382.7,201.3 L383.7,200.9 L384.7,200.5 L385.7,200.2 L386.7,200.0 L387.7,199.9 L388.7,199.8 L389.7,199.8 L390.7,200.0 L391.7,200.4 L392.7,201.0 L393.7,201.5 L394.7,202.2 L395.7,203.1 L396.7,204.1 L397.7,205.3 L398.7,206.8 L399.7,208.6 L400.7,210.5 L401.7,212.5 L402.7,214.5 L403.7,216.5 L404.7,218.5 L405.7,220.6 L406.7,222.7 L407.7,224.8 L408.7,227.0 L409.7,229.2 L410.7,231.5 L411.7,233.8 L412.7,236.2 L413.7,238.7 L414.7,241.3 L415.7,243.9 L416.7,246.5 L417.7,249.0 L418.7,251.5 L419.7,253.9 L420.7,256.3 L421.7,258.7 L422.7,261.0 L423.7,263.3 L424.7,265.4 L425.7,267.2 L426.7,269.0 L427.7,270.6 L428.7,272.0 L429.7,273.0 L430.7,273.6 L431.7,274.2 L432.7,274.7 L433.7,275.1 L434.7,275.5 L435.7,275.7 L436.7,275.7 L437.7,275.7 L438.7,275.5 L439.7,275.4 L440.7,275.0 L441.7,274.5 L442.7,273.8 L443.7,273.0 L444.7,272.2 L445.7,271.4 L446.7,270.5 L447.7,269.6 L448.7,268.6 L449.7,267.6 L450.7,266.7 L451.7,265.7 L452.7,264.7 L453.7,263.7 L454.7,262.8 L455.7,261.8 L456.7,260.9 L457.7,260.1 L458.7,259.2 L459.7,258.3 L460.7,257.5 L461.7,256.6 L462.7,255.8 L463.7,255.0 L464.7,254.2 L465.7,253.4 L466.7,252.7 L467.7,251.9 L468.7,251.2 L469.7,250.5 L470.7,249.8 L471.7,249.2 L472.7,248.6 L473.7,248.0 L474.7,247.3 L475.7,246.5 L476.7,245.5 L477.7,244.4 L478.7,243.2 L479.7,242.0 L480.7,240.8 L481.7,239.6 L482.7,238.4 L483.7,237.2 L484.7,236.1 L485.7,234.9 L486.7,233.8 L487.7,232.7 L488.7,231.6 L489.7,230.5 L490.7,229.4 L491.7,228.5 L492.7,227.6 L493.7,226.8 L494.7,226.1 L495.7,225.4 L496.7,224.8 L497.7,224.2 L498.7,223.6 L499.7,223.1 L500.7,222.5 L501.7,222.0 L502.7,221.7 L503.7,221.3 L504.7,221.1 L505.7,221.0 L506.7,221.1 L507.7,221.5 L508.7,221.9 L509.7,222.4 L510.7,222.9 L511.7,223.6 L512.7,224.6 L513.7,225.6 L514.7,226.8 L515.7,227.9 L516.7,229.0 L517.7,230.2 L518.7,231.5 L519.7,232.8 L520.7,234.1 L521.7,235.4 L522.7,236.6 L523.7,237.8 L524.7,239.0 L525.7,240.1 L526.7,241.3 L527.7,242.4 L528.7,243.5 L529.7,244.4 L530.7,245.2 L531.7,245.9 L532.7,246.4 L533.7,247.0 L534.7,247.5 L535.7,247.9 L536.7,248.5 L537.7,249.0 L538.7,249.7 L539.7,250.3 L540.7,251.0 L541.7,251.7 L542.7,252.4 L543.7,253.1 L544.7,253.9 L545.7,254.7 L546.7,255.5 L547.7,256.4 L548.7,257.4 L549.7,258.4 L550.7,259.5 L551.7,260.7 L552.7,262.0 L553.7,263.5 L554.7,265.1 L555.7,266.8 L556.7,268.7 L557.7,270.8 L558.7,273.2 L559.7,276.0 L560.7,279.1 L561.7,282.3 L562.7,285.6 L563.7,289.1 L564.7,292.5 L565.7,295.5 L566.7,298.0 L567.7,300.5 L568.7,302.8 L569.7,305.4 L570.7,308.1 L571.7,311.0 L572.7,314.0 L573.7,317.0 L574.7,320.0 L575.7,323.0 L576.7,326.0 L577.7,329.1 L578.7,332.1 L579.7,335.1 L580.7,338.2 L581.7,341.2 L582.7,344.1 L583.7,346.8 L584.7,349.3 L585.7,351.8 L586.7,354.3 L587.7,356.9 L588.7,359.6 L589.7,362.2 L590.7,364.5 L591.7,366.7 L592.7,368.8 L593.7,370.8 L594.7,372.6 L595.7,374.3 L596.7,375.8 L597.7,377.2 L598.7,378.6 L599.7,380.0 L600.7,381.5 L601.7,383.0 L602.7,384.4 L603.7,385.8 L604.7,387.0 L605.7,388.2 L606.7,389.4 L607.7,390.4 L608.7,391.4 L609.7,392.2 L610.7,392.9 L611.7,393.7 L612.7,394.3 L613.7,394.8 L614.7,395.3 L615.7,395.7 L616.7,396.1 L617.7,396.4 L618.7,396.8 L619.7,397.1 L620.0,397.2 L623.0,398.0 L626.0,398.7 L629.0,399.3 L632.0,399.9 L635.0,400.4 L638.0,400.8 L641.0,401.1 L644.0,401.4 L647.0,401.6 L650.0,401.8 L653.0,401.9 L656.0,402.1 L659.0,402.2 L662.0,402.3 L665.0,402.4 L668.0,402.5 L671.0,402.6 L674.0,402.6 L677.0,402.7 L680.0,402.8 L683.0,402.9 L686.0,402.9 L689.0,403.0 L692.0,403.0 L695.0,403.1 L698.0,403.2 L701.0,403.2 L704.0,403.3 L707.0,403.3 L710.0,403.4 L713.0,403.4 L716.0,403.5 L719.0,403.5 L722.0,403.5 L725.0,403.6 L728.0,403.6 L731.0,403.7 L734.0,403.7 L737.0,403.8 L740.0,403.8 L743.0,403.9 L746.0,403.9 L749.0,403.9 L752.0,404.0 L755.0,404.0 L758.0,404.1 L761.0,404.1 L764.0,404.2 L767.0,404.2 L770.0,404.3 L773.0,404.4 L776.0,404.4 L779.0,404.5 L782.0,404.5 L785.0,404.6 L788.0,404.6 L791.0,404.7 L794.0,404.7 L797.0,404.8 L800.0,404.8 L803.0,404.9 L806.0,404.9 L809.0,405.0 L812.0,405.0 L815.0,405.0 L818.0,405.1 L821.0,405.1 L824.0,405.1 L827.0,405.1 L830.0,405.1 L833.0,405.1 L836.0,405.2 L839.0,405.2 L842.0,405.2 L845.0,405.2 L848.0,405.2 L851.0,405.2 L854.0,405.2 L857.0,405.2 L860.0,405.2 L863.0,405.2 L866.0,405.2 L869.0,405.2 L872.0,405.2 L875.0,405.3 L878.0,405.3 L881.0,405.3 L884.0,405.3 L887.0,405.3 L890.0,405.3 L893.0,405.3 L896.0,405.3 L899.0,405.3 L902.0,405.3 L905.0,405.3 L908.0,405.3 L911.0,405.3 L914.0,405.3 L917.0,405.3 L920.0,405.4 L923.0,405.4 L926.0,405.4 L929.0,405.4 L932.0,405.4 L935.0,405.4 L938.0,405.4 L941.0,405.4 L944.0,405.4 L947.0,405.4 L950.0,405.4 L953.0,405.4 L956.0,405.4 L959.0,405.4 L962.0,405.4 L965.0,405.4 L968.0,405.4 L971.0,405.4 L974.0,405.4 L977.0,405.4 L980.0,405.4 L983.0,405.4 L986.0,405.4 L989.0,405.4 L992.0,405.5 L995.0,405.5 L998.0,405.5 L1001.0,405.5 L1004.0,405.5 L1007.0,405.5 L1010.0,405.5 L1013.0,405.5 L1016.0,405.5 L1019.0,405.5 L1022.0,405.5 L1025.0,405.5 L1028.0,405.5 L1031.0,405.5 L1034.0,405.5 L1037.0,405.5 L1040.0,405.5 L1043.0,405.5 L1046.0,405.5 L1049.0,405.5 L1052.0,405.5 L1055.0,405.5 L1058.0,405.5 L1061.0,405.5 L1064.0,405.5 L1067.0,405.5 L1070.0,405.5 L1073.0,405.5 L1076.0,405.5" stroke="#3382dc"/>
<path d="M297.3,40.4C297.83,47 299.32,65.95 300.5,80C301.68,94.05 303.48,113.87 304.4,124.7C305.32,135.53 305.4,139.08 306,145C306.6,150.92 307.25,154.7 308,160.2C308.75,165.7 309.52,172.08 310.5,178C311.48,183.92 312.73,190.53 313.9,195.7C315.07,200.87 316.32,205.07 317.5,209C318.68,212.93 319.83,216.55 321,219.3C322.17,222.05 323.32,223.72 324.5,225.5C325.68,227.28 326.68,228.67 328.1,230C329.52,231.33 331.4,232.5 333,233.5C334.6,234.5 336.92,235.58 337.7,236 L338.7,235.4 L339.7,234.8 L340.7,234.3 L341.7,233.8 L342.7,233.3 L343.7,232.9 L344.7,232.5 L345.7,232.2 L346.7,231.9 L347.7,231.6 L348.7,231.3 L349.7,230.8 L350.7,230.4 L351.7,230.0 L352.7,229.5 L353.7,229.2 L354.7,228.8 L355.7,228.4 L356.7,228.0 L357.7,227.7 L358.7,227.4 L359.7,227.1 L360.7,226.8 L361.7,226.7 L362.7,226.5 L363.7,226.4 L364.7,226.3 L365.7,226.2 L366.7,226.1 L367.7,226.2 L368.7,226.2 L369.7,226.3 L370.7,226.3 L371.7,226.4 L372.7,226.4 L373.7,226.4 L374.7,226.4 L375.7,226.4 L376.7,226.6 L377.7,226.8 L378.7,227.0 L379.7,227.1 L380.7,227.3 L381.7,227.4 L382.7,227.4 L383.7,227.4 L384.7,227.3 L385.7,227.2 L386.7,227.3 L387.7,227.4 L388.7,227.6 L389.7,227.8 L390.7,228.1 L391.7,228.6 L392.7,229.2 L393.7,229.8 L394.7,230.4 L395.7,231.2 L396.7,232.2 L397.7,233.2 L398.7,234.4 L399.7,235.9 L400.7,237.5 L401.7,239.0 L402.7,240.6 L403.7,242.1 L404.7,243.7 L405.7,245.4 L406.7,247.0 L407.7,248.7 L408.7,250.4 L409.7,252.1 L410.7,253.8 L411.7,255.6 L412.7,257.4 L413.7,259.4 L414.7,261.3 L415.7,263.3 L416.7,265.3 L417.7,267.2 L418.7,269.1 L419.7,271.0 L420.7,272.9 L421.7,274.8 L422.7,276.6 L423.7,278.3 L424.7,280.0 L425.7,281.4 L426.7,282.9 L427.7,284.3 L428.7,285.4 L429.7,286.3 L430.7,286.9 L431.7,287.5 L432.7,288.0 L433.7,288.5 L434.7,288.9 L435.7,289.2 L436.7,289.4 L437.7,289.5 L438.7,289.5 L439.7,289.6 L440.7,289.5 L441.7,289.2 L442.7,288.9 L443.7,288.5 L444.7,288.1 L445.7,287.7 L446.7,287.2 L447.7,286.7 L448.7,286.1 L449.7,285.6 L450.7,285.1 L451.7,284.5 L452.7,284.0 L453.7,283.4 L454.7,282.9 L455.7,282.4 L456.7,282.0 L457.7,281.5 L458.7,281.0 L459.7,280.6 L460.7,280.1 L461.7,279.7 L462.7,279.3 L463.7,278.9 L464.7,278.5 L465.7,278.1 L466.7,277.7 L467.7,277.4 L468.7,277.1 L469.7,276.7 L470.7,276.5 L471.7,276.2 L472.7,276.0 L473.7,275.7 L474.7,275.4 L475.7,275.0 L476.7,274.5 L477.7,273.9 L478.7,273.2 L479.7,272.6 L480.7,271.9 L481.7,271.2 L482.7,270.6 L483.7,269.9 L484.7,269.2 L485.7,268.6 L486.7,267.9 L487.7,267.3 L488.7,266.7 L489.7,266.1 L490.7,265.5 L491.7,265.0 L492.7,264.5 L493.7,264.1 L494.7,263.7 L495.7,263.4 L496.7,263.1 L497.7,262.8 L498.7,262.5 L499.7,262.2 L500.7,261.9 L501.7,261.7 L502.7,261.6 L503.7,261.5 L504.7,261.4 L505.7,261.5 L506.7,261.8 L507.7,262.2 L508.7,262.7 L509.7,263.2 L510.7,263.7 L511.7,264.4 L512.7,265.2 L513.7,266.1 L514.7,267.1 L515.7,268.1 L516.7,269.0 L517.7,270.1 L518.7,271.1 L519.7,272.2 L520.7,273.3 L521.7,274.3 L522.7,275.4 L523.7,276.3 L524.7,277.3 L525.7,278.3 L526.7,279.2 L527.7,280.1 L528.7,281.0 L529.7,281.8 L530.7,282.4 L531.7,283.0 L532.7,283.5 L533.7,284.0 L534.7,284.5 L535.7,284.9 L536.7,285.4 L537.7,285.9 L538.7,286.4 L539.7,287.0 L540.7,287.6 L541.7,288.1 L542.7,288.7 L543.7,289.3 L544.7,290.0 L545.7,290.6 L546.7,291.3 L547.7,292.0 L548.7,292.7 L549.7,293.5 L550.7,294.4 L551.7,295.3 L552.7,296.3 L553.7,297.4 L554.7,298.6 L555.7,300.0 L556.7,301.4 L557.7,303.0 L558.7,304.7 L559.7,306.8 L560.7,309.1 L561.7,311.4 L562.7,313.9 L563.7,316.4 L564.7,318.9 L565.7,321.0 L566.7,323.0 L567.7,324.7 L568.7,326.5 L569.7,328.4 L570.7,330.4 L571.7,332.5 L572.7,334.7 L573.7,336.9 L574.7,339.2 L575.7,341.3 L576.7,343.6 L577.7,345.8 L578.7,348.0 L579.7,350.2 L580.7,352.5 L581.7,354.7 L582.7,356.8 L583.7,358.7 L584.7,360.6 L585.7,362.4 L586.7,364.2 L587.7,366.1 L588.7,368.1 L589.7,370.0 L590.7,371.7 L591.7,373.3 L592.7,374.9 L593.7,376.3 L594.7,377.7 L595.7,378.9 L596.7,380.1 L597.7,381.1 L598.7,382.2 L599.7,383.3 L600.7,384.4 L601.7,385.5 L602.7,386.6 L603.7,387.6 L604.7,388.5 L605.7,389.4 L606.7,390.3 L607.7,391.1 L608.7,391.8 L609.7,392.4 L610.7,393.1 L611.7,393.6 L612.7,394.1 L613.7,394.6 L614.7,394.9 L615.7,395.3 L616.7,395.6 L617.7,395.9 L618.7,396.2 L619.7,396.5 L620.0,396.6 L623.0,397.3 L626.0,397.9 L629.0,398.5 L632.0,399.0 L635.0,399.5 L638.0,399.9 L641.0,400.2 L644.0,400.4 L647.0,400.6 L650.0,400.8 L653.0,401.0 L656.0,401.1 L659.0,401.3 L662.0,401.4 L665.0,401.5 L668.0,401.6 L671.0,401.7 L674.0,401.8 L677.0,401.9 L680.0,401.9 L683.0,402.0 L686.0,402.1 L689.0,402.2 L692.0,402.2 L695.0,402.3 L698.0,402.4 L701.0,402.4 L704.0,402.5 L707.0,402.6 L710.0,402.6 L713.0,402.7 L716.0,402.8 L719.0,402.8 L722.0,402.9 L725.0,402.9 L728.0,403.0 L731.0,403.0 L734.0,403.1 L737.0,403.2 L740.0,403.2 L743.0,403.3 L746.0,403.3 L749.0,403.4 L752.0,403.4 L755.0,403.5 L758.0,403.6 L761.0,403.6 L764.0,403.7 L767.0,403.8 L770.0,403.8 L773.0,403.9 L776.0,404.0 L779.0,404.0 L782.0,404.1 L785.0,404.2 L788.0,404.3 L791.0,404.3 L794.0,404.4 L797.0,404.5 L800.0,404.5 L803.0,404.6 L806.0,404.6 L809.0,404.7 L812.0,404.7 L815.0,404.8 L818.0,404.8 L821.0,404.8 L824.0,404.9 L827.0,404.9 L830.0,404.9 L833.0,404.9 L836.0,404.9 L839.0,404.9 L842.0,404.9 L845.0,405.0 L848.0,405.0 L851.0,405.0 L854.0,405.0 L857.0,405.0 L860.0,405.0 L863.0,405.0 L866.0,405.0 L869.0,405.0 L872.0,405.0 L875.0,405.1 L878.0,405.1 L881.0,405.1 L884.0,405.1 L887.0,405.1 L890.0,405.1 L893.0,405.1 L896.0,405.1 L899.0,405.1 L902.0,405.1 L905.0,405.1 L908.0,405.1 L911.0,405.2 L914.0,405.2 L917.0,405.2 L920.0,405.2 L923.0,405.2 L926.0,405.2 L929.0,405.2 L932.0,405.2 L935.0,405.2 L938.0,405.2 L941.0,405.2 L944.0,405.2 L947.0,405.2 L950.0,405.2 L953.0,405.2 L956.0,405.2 L959.0,405.3 L962.0,405.3 L965.0,405.3 L968.0,405.3 L971.0,405.3 L974.0,405.3 L977.0,405.3 L980.0,405.3 L983.0,405.3 L986.0,405.3 L989.0,405.3 L992.0,405.3 L995.0,405.3 L998.0,405.3 L1001.0,405.3 L1004.0,405.3 L1007.0,405.3 L1010.0,405.3 L1013.0,405.3 L1016.0,405.3 L1019.0,405.3 L1022.0,405.3 L1025.0,405.3 L1028.0,405.3 L1031.0,405.3 L1034.0,405.3 L1037.0,405.3 L1040.0,405.3 L1043.0,405.3 L1046.0,405.3 L1049.0,405.3 L1052.0,405.3 L1055.0,405.3 L1058.0,405.3 L1061.0,405.3 L1064.0,405.3 L1067.0,405.3 L1070.0,405.3 L1073.0,405.3 L1076.0,405.3" stroke="#4da125"/>
<path d="M300.6,40.4C301.03,47 302.2,65.95 303.2,80C304.2,94.05 305.63,113.03 306.6,124.7C307.57,136.37 308.22,142.12 309,150C309.78,157.88 310.42,165.67 311.3,172C312.18,178.33 313.3,183.07 314.3,188C315.3,192.93 316.3,197.77 317.3,201.6C318.3,205.43 319.32,208.05 320.3,211C321.28,213.95 322.12,216.8 323.2,219.3C324.28,221.8 325.62,224.02 326.8,226C327.98,227.98 328.48,229.53 330.3,231.2C332.12,232.87 336.47,235.2 337.7,236 L338.7,236.1 L339.7,236.2 L340.7,236.4 L341.7,236.6 L342.7,236.8 L343.7,237.1 L344.7,237.3 L345.7,237.6 L346.7,238.0 L347.7,238.3 L348.7,238.6 L349.7,238.8 L350.7,239.1 L351.7,239.3 L352.7,239.6 L353.7,239.9 L354.7,240.1 L355.7,240.4 L356.7,240.7 L357.7,241.0 L358.7,241.3 L359.7,241.6 L360.7,241.9 L361.7,242.2 L362.7,242.5 L363.7,242.9 L364.7,243.2 L365.7,243.6 L366.7,244.0 L367.7,244.4 L368.7,244.8 L369.7,245.2 L370.7,245.6 L371.7,246.0 L372.7,246.4 L373.7,246.7 L374.7,247.0 L375.7,247.3 L376.7,247.7 L377.7,248.1 L378.7,248.5 L379.7,248.9 L380.7,249.2 L381.7,249.6 L382.7,249.8 L383.7,250.1 L384.7,250.2 L385.7,250.4 L386.7,250.7 L387.7,251.0 L388.7,251.4 L389.7,251.7 L390.7,252.2 L391.7,252.8 L392.7,253.4 L393.7,254.0 L394.7,254.6 L395.7,255.4 L396.7,256.2 L397.7,257.1 L398.7,258.1 L399.7,259.3 L400.7,260.5 L401.7,261.8 L402.7,263.0 L403.7,264.2 L404.7,265.4 L405.7,266.6 L406.7,267.9 L407.7,269.1 L408.7,270.4 L409.7,271.7 L410.7,273.0 L411.7,274.3 L412.7,275.7 L413.7,277.1 L414.7,278.5 L415.7,280.0 L416.7,281.4 L417.7,282.9 L418.7,284.3 L419.7,285.7 L420.7,287.1 L421.7,288.5 L422.7,289.9 L423.7,291.3 L424.7,292.5 L425.7,293.7 L426.7,294.8 L427.7,295.9 L428.7,296.9 L429.7,297.6 L430.7,298.2 L431.7,298.8 L432.7,299.4 L433.7,299.9 L434.7,300.3 L435.7,300.7 L436.7,301.0 L437.7,301.3 L438.7,301.5 L439.7,301.8 L440.7,301.9 L441.7,301.9 L442.7,301.9 L443.7,301.8 L444.7,301.7 L445.7,301.6 L446.7,301.5 L447.7,301.3 L448.7,301.2 L449.7,301.0 L450.7,300.9 L451.7,300.7 L452.7,300.5 L453.7,300.4 L454.7,300.2 L455.7,300.1 L456.7,300.0 L457.7,299.8 L458.7,299.7 L459.7,299.6 L460.7,299.5 L461.7,299.5 L462.7,299.4 L463.7,299.3 L464.7,299.3 L465.7,299.3 L466.7,299.2 L467.7,299.2 L468.7,299.2 L469.7,299.2 L470.7,299.3 L471.7,299.4 L472.7,299.4 L473.7,299.5 L474.7,299.5 L475.7,299.5 L476.7,299.4 L477.7,299.2 L478.7,299.0 L479.7,298.8 L480.7,298.5 L481.7,298.3 L482.7,298.1 L483.7,297.9 L484.7,297.7 L485.7,297.5 L486.7,297.2 L487.7,297.0 L488.7,296.8 L489.7,296.6 L490.7,296.4 L491.7,296.3 L492.7,296.1 L493.7,296.0 L494.7,295.9 L495.7,295.9 L496.7,295.8 L497.7,295.8 L498.7,295.8 L499.7,295.7 L500.7,295.7 L501.7,295.7 L502.7,295.8 L503.7,295.9 L504.7,296.0 L505.7,296.3 L506.7,296.6 L507.7,297.1 L508.7,297.6 L509.7,298.1 L510.7,298.6 L511.7,299.3 L512.7,300.0 L513.7,300.8 L514.7,301.7 L515.7,302.5 L516.7,303.3 L517.7,304.2 L518.7,305.1 L519.7,306.0 L520.7,306.9 L521.7,307.7 L522.7,308.6 L523.7,309.4 L524.7,310.1 L525.7,310.9 L526.7,311.7 L527.7,312.4 L528.7,313.2 L529.7,313.8 L530.7,314.4 L531.7,314.9 L532.7,315.4 L533.7,315.8 L534.7,316.2 L535.7,316.6 L536.7,317.1 L537.7,317.5 L538.7,318.0 L539.7,318.4 L540.7,318.9 L541.7,319.4 L542.7,319.9 L543.7,320.4 L544.7,320.9 L545.7,321.4 L546.7,321.9 L547.7,322.5 L548.7,323.1 L549.7,323.7 L550.7,324.3 L551.7,325.0 L552.7,325.7 L553.7,326.5 L554.7,327.4 L555.7,328.4 L556.7,329.4 L557.7,330.5 L558.7,331.7 L559.7,333.2 L560.7,334.8 L561.7,336.3 L562.7,338.0 L563.7,339.8 L564.7,341.5 L565.7,343.0 L566.7,344.3 L567.7,345.6 L568.7,346.8 L569.7,348.1 L570.7,349.5 L571.7,351.0 L572.7,352.5 L573.7,354.0 L574.7,355.5 L575.7,357.0 L576.7,358.6 L577.7,360.1 L578.7,361.6 L579.7,363.1 L580.7,364.7 L581.7,366.2 L582.7,367.6 L583.7,369.0 L584.7,370.3 L585.7,371.5 L586.7,372.8 L587.7,374.1 L588.7,375.4 L589.7,376.7 L590.7,377.9 L591.7,379.0 L592.7,380.1 L593.7,381.1 L594.7,382.1 L595.7,382.9 L596.7,383.7 L597.7,384.5 L598.7,385.3 L599.7,386.0 L600.7,386.8 L601.7,387.6 L602.7,388.4 L603.7,389.1 L604.7,389.8 L605.7,390.4 L606.7,391.1 L607.7,391.7 L608.7,392.2 L609.7,392.7 L610.7,393.1 L611.7,393.6 L612.7,394.0 L613.7,394.4 L614.7,394.7 L615.7,395.0 L616.7,395.3 L617.7,395.5 L618.7,395.8 L619.7,396.0 L620.0,396.1 L623.0,396.8 L626.0,397.3 L629.0,397.8 L632.0,398.3 L635.0,398.7 L638.0,399.1 L641.0,399.4 L644.0,399.6 L647.0,399.8 L650.0,400.0 L653.0,400.2 L656.0,400.3 L659.0,400.5 L662.0,400.6 L665.0,400.7 L668.0,400.8 L671.0,400.9 L674.0,401.0 L677.0,401.1 L680.0,401.2 L683.0,401.3 L686.0,401.4 L689.0,401.5 L692.0,401.6 L695.0,401.6 L698.0,401.7 L701.0,401.8 L704.0,401.9 L707.0,401.9 L710.0,402.0 L713.0,402.1 L716.0,402.2 L719.0,402.2 L722.0,402.3 L725.0,402.4 L728.0,402.4 L731.0,402.5 L734.0,402.6 L737.0,402.6 L740.0,402.7 L743.0,402.8 L746.0,402.8 L749.0,402.9 L752.0,403.0 L755.0,403.0 L758.0,403.1 L761.0,403.2 L764.0,403.3 L767.0,403.4 L770.0,403.4 L773.0,403.5 L776.0,403.6 L779.0,403.7 L782.0,403.8 L785.0,403.9 L788.0,403.9 L791.0,404.0 L794.0,404.1 L797.0,404.2 L800.0,404.2 L803.0,404.3 L806.0,404.4 L809.0,404.4 L812.0,404.5 L815.0,404.5 L818.0,404.6 L821.0,404.6 L824.0,404.6 L827.0,404.7 L830.0,404.7 L833.0,404.7 L836.0,404.7 L839.0,404.7 L842.0,404.7 L845.0,404.8 L848.0,404.8 L851.0,404.8 L854.0,404.8 L857.0,404.8 L860.0,404.8 L863.0,404.8 L866.0,404.8 L869.0,404.9 L872.0,404.9 L875.0,404.9 L878.0,404.9 L881.0,404.9 L884.0,404.9 L887.0,404.9 L890.0,404.9 L893.0,404.9 L896.0,404.9 L899.0,405.0 L902.0,405.0 L905.0,405.0 L908.0,405.0 L911.0,405.0 L914.0,405.0 L917.0,405.0 L920.0,405.0 L923.0,405.0 L926.0,405.0 L929.0,405.0 L932.0,405.1 L935.0,405.1 L938.0,405.1 L941.0,405.1 L944.0,405.1 L947.0,405.1 L950.0,405.1 L953.0,405.1 L956.0,405.1 L959.0,405.1 L962.0,405.1 L965.0,405.1 L968.0,405.1 L971.0,405.1 L974.0,405.1 L977.0,405.1 L980.0,405.2 L983.0,405.2 L986.0,405.2 L989.0,405.2 L992.0,405.2 L995.0,405.2 L998.0,405.2 L1001.0,405.2 L1004.0,405.2 L1007.0,405.2 L1010.0,405.2 L1013.0,405.2 L1016.0,405.2 L1019.0,405.2 L1022.0,405.2 L1025.0,405.2 L1028.0,405.2 L1031.0,405.2 L1034.0,405.2 L1037.0,405.2 L1040.0,405.2 L1043.0,405.2 L1046.0,405.2 L1049.0,405.2 L1052.0,405.2 L1055.0,405.2 L1058.0,405.2 L1061.0,405.2 L1064.0,405.2 L1067.0,405.2 L1070.0,405.2 L1073.0,405.2 L1076.0,405.2" stroke="#0b1450"/>
<path d="M302.3,40.4C302.73,47 303.9,65.95 304.9,80C305.9,94.05 307.32,113.03 308.3,124.7C309.28,136.37 309.97,142.12 310.8,150C311.63,157.88 312.3,165.67 313.3,172C314.3,178.33 315.63,183.07 316.8,188C317.97,192.93 319.13,197.77 320.3,201.6C321.47,205.43 322.72,208.05 323.8,211C324.88,213.95 325.72,216.8 326.8,219.3C327.88,221.8 329.22,224.05 330.3,226C331.38,227.95 332.07,229.33 333.3,231C334.53,232.67 336.97,235.17 337.7,236 L338.7,236.7 L339.7,237.4 L340.7,238.1 L341.7,238.9 L342.7,239.6 L343.7,240.4 L344.7,241.1 L345.7,242.0 L346.7,242.8 L347.7,243.6 L348.7,244.4 L349.7,245.1 L350.7,245.9 L351.7,246.7 L352.7,247.5 L353.7,248.3 L354.7,249.1 L355.7,249.9 L356.7,250.7 L357.7,251.5 L358.7,252.3 L359.7,253.0 L360.7,253.8 L361.7,254.5 L362.7,255.2 L363.7,255.9 L364.7,256.7 L365.7,257.4 L366.7,258.1 L367.7,258.8 L368.7,259.5 L369.7,260.2 L370.7,260.8 L371.7,261.5 L372.7,262.1 L373.7,262.7 L374.7,263.3 L375.7,263.8 L376.7,264.4 L377.7,265.0 L378.7,265.6 L379.7,266.1 L380.7,266.6 L381.7,267.1 L382.7,267.6 L383.7,268.0 L384.7,268.4 L385.7,268.8 L386.7,269.3 L387.7,269.7 L388.7,270.2 L389.7,270.7 L390.7,271.3 L391.7,271.9 L392.7,272.5 L393.7,273.2 L394.7,273.8 L395.7,274.5 L396.7,275.3 L397.7,276.1 L398.7,276.9 L399.7,277.8 L400.7,278.8 L401.7,279.7 L402.7,280.7 L403.7,281.6 L404.7,282.5 L405.7,283.4 L406.7,284.4 L407.7,285.3 L408.7,286.2 L409.7,287.2 L410.7,288.1 L411.7,289.1 L412.7,290.1 L413.7,291.1 L414.7,292.1 L415.7,293.2 L416.7,294.2 L417.7,295.3 L418.7,296.3 L419.7,297.3 L420.7,298.4 L421.7,299.4 L422.7,300.4 L423.7,301.5 L424.7,302.5 L425.7,303.4 L426.7,304.3 L427.7,305.2 L428.7,306.0 L429.7,306.6 L430.7,307.2 L431.7,307.8 L432.7,308.4 L433.7,308.9 L434.7,309.4 L435.7,309.9 L436.7,310.3 L437.7,310.7 L438.7,311.1 L439.7,311.4 L440.7,311.7 L441.7,311.9 L442.7,312.1 L443.7,312.3 L444.7,312.5 L445.7,312.7 L446.7,312.8 L447.7,313.0 L448.7,313.1 L449.7,313.2 L450.7,313.4 L451.7,313.5 L452.7,313.6 L453.7,313.7 L454.7,313.9 L455.7,314.0 L456.7,314.2 L457.7,314.4 L458.7,314.5 L459.7,314.7 L460.7,314.9 L461.7,315.1 L462.7,315.3 L463.7,315.5 L464.7,315.8 L465.7,316.0 L466.7,316.3 L467.7,316.5 L468.7,316.8 L469.7,317.1 L470.7,317.4 L471.7,317.7 L472.7,318.0 L473.7,318.3 L474.7,318.6 L475.7,318.8 L476.7,319.1 L477.7,319.2 L478.7,319.4 L479.7,319.5 L480.7,319.6 L481.7,319.8 L482.7,319.9 L483.7,320.1 L484.7,320.2 L485.7,320.3 L486.7,320.4 L487.7,320.6 L488.7,320.7 L489.7,320.8 L490.7,320.9 L491.7,321.0 L492.7,321.2 L493.7,321.3 L494.7,321.5 L495.7,321.6 L496.7,321.8 L497.7,322.0 L498.7,322.1 L499.7,322.3 L500.7,322.5 L501.7,322.7 L502.7,322.9 L503.7,323.1 L504.7,323.4 L505.7,323.8 L506.7,324.2 L507.7,324.7 L508.7,325.2 L509.7,325.7 L510.7,326.3 L511.7,326.9 L512.7,327.6 L513.7,328.3 L514.7,329.1 L515.7,329.8 L516.7,330.5 L517.7,331.2 L518.7,332.0 L519.7,332.7 L520.7,333.5 L521.7,334.2 L522.7,334.9 L523.7,335.5 L524.7,336.1 L525.7,336.8 L526.7,337.4 L527.7,338.0 L528.7,338.6 L529.7,339.2 L530.7,339.7 L531.7,340.1 L532.7,340.5 L533.7,341.0 L534.7,341.3 L535.7,341.7 L536.7,342.1 L537.7,342.5 L538.7,342.9 L539.7,343.3 L540.7,343.7 L541.7,344.2 L542.7,344.6 L543.7,345.0 L544.7,345.4 L545.7,345.8 L546.7,346.2 L547.7,346.6 L548.7,347.1 L549.7,347.5 L550.7,348.0 L551.7,348.5 L552.7,349.0 L553.7,349.6 L554.7,350.2 L555.7,350.8 L556.7,351.5 L557.7,352.3 L558.7,353.1 L559.7,354.1 L560.7,355.1 L561.7,356.1 L562.7,357.2 L563.7,358.3 L564.7,359.4 L565.7,360.4 L566.7,361.2 L567.7,362.1 L568.7,362.9 L569.7,363.7 L570.7,364.6 L571.7,365.6 L572.7,366.5 L573.7,367.5 L574.7,368.5 L575.7,369.5 L576.7,370.4 L577.7,371.4 L578.7,372.4 L579.7,373.3 L580.7,374.3 L581.7,375.3 L582.7,376.2 L583.7,377.1 L584.7,377.9 L585.7,378.7 L586.7,379.5 L587.7,380.3 L588.7,381.2 L589.7,382.0 L590.7,382.8 L591.7,383.5 L592.7,384.2 L593.7,384.9 L594.7,385.5 L595.7,386.1 L596.7,386.7 L597.7,387.2 L598.7,387.7 L599.7,388.2 L600.7,388.8 L601.7,389.3 L602.7,389.8 L603.7,390.3 L604.7,390.8 L605.7,391.3 L606.7,391.7 L607.7,392.1 L608.7,392.5 L609.7,392.9 L610.7,393.2 L611.7,393.6 L612.7,393.9 L613.7,394.2 L614.7,394.4 L615.7,394.7 L616.7,395.0 L617.7,395.2 L618.7,395.4 L619.7,395.7 L620.0,395.7 L623.0,396.3 L626.0,396.8 L629.0,397.3 L632.0,397.7 L635.0,398.1 L638.0,398.4 L641.0,398.7 L644.0,399.0 L647.0,399.2 L650.0,399.4 L653.0,399.6 L656.0,399.7 L659.0,399.9 L662.0,400.0 L665.0,400.1 L668.0,400.2 L671.0,400.3 L674.0,400.5 L677.0,400.6 L680.0,400.6 L683.0,400.7 L686.0,400.8 L689.0,400.9 L692.0,401.0 L695.0,401.1 L698.0,401.2 L701.0,401.3 L704.0,401.4 L707.0,401.4 L710.0,401.5 L713.0,401.6 L716.0,401.7 L719.0,401.8 L722.0,401.8 L725.0,401.9 L728.0,402.0 L731.0,402.1 L734.0,402.1 L737.0,402.2 L740.0,402.3 L743.0,402.4 L746.0,402.4 L749.0,402.5 L752.0,402.6 L755.0,402.7 L758.0,402.8 L761.0,402.8 L764.0,402.9 L767.0,403.0 L770.0,403.1 L773.0,403.2 L776.0,403.3 L779.0,403.4 L782.0,403.5 L785.0,403.6 L788.0,403.7 L791.0,403.8 L794.0,403.9 L797.0,403.9 L800.0,404.0 L803.0,404.1 L806.0,404.2 L809.0,404.2 L812.0,404.3 L815.0,404.4 L818.0,404.4 L821.0,404.4 L824.0,404.5 L827.0,404.5 L830.0,404.5 L833.0,404.5 L836.0,404.6 L839.0,404.6 L842.0,404.6 L845.0,404.6 L848.0,404.6 L851.0,404.6 L854.0,404.6 L857.0,404.7 L860.0,404.7 L863.0,404.7 L866.0,404.7 L869.0,404.7 L872.0,404.7 L875.0,404.7 L878.0,404.8 L881.0,404.8 L884.0,404.8 L887.0,404.8 L890.0,404.8 L893.0,404.8 L896.0,404.8 L899.0,404.8 L902.0,404.8 L905.0,404.9 L908.0,404.9 L911.0,404.9 L914.0,404.9 L917.0,404.9 L920.0,404.9 L923.0,404.9 L926.0,404.9 L929.0,404.9 L932.0,404.9 L935.0,404.9 L938.0,405.0 L941.0,405.0 L944.0,405.0 L947.0,405.0 L950.0,405.0 L953.0,405.0 L956.0,405.0 L959.0,405.0 L962.0,405.0 L965.0,405.0 L968.0,405.0 L971.0,405.0 L974.0,405.0 L977.0,405.0 L980.0,405.0 L983.0,405.1 L986.0,405.1 L989.0,405.1 L992.0,405.1 L995.0,405.1 L998.0,405.1 L1001.0,405.1 L1004.0,405.1 L1007.0,405.1 L1010.0,405.1 L1013.0,405.1 L1016.0,405.1 L1019.0,405.1 L1022.0,405.1 L1025.0,405.1 L1028.0,405.1 L1031.0,405.1 L1034.0,405.1 L1037.0,405.1 L1040.0,405.1 L1043.0,405.1 L1046.0,405.1 L1049.0,405.1 L1052.0,405.1 L1055.0,405.1 L1058.0,405.1 L1061.0,405.1 L1064.0,405.1 L1067.0,405.1 L1070.0,405.1 L1073.0,405.1 L1076.0,405.1" stroke="#8e2a06"/>
<path d="M303.8,40.4C304.22,47 305.3,65.95 306.3,80C307.3,94.05 308.8,113.03 309.8,124.7C310.8,136.37 311.47,142.12 312.3,150C313.13,157.88 313.8,165.67 314.8,172C315.8,178.33 317.05,183.07 318.3,188C319.55,192.93 321.05,197.77 322.3,201.6C323.55,205.43 324.72,208.05 325.8,211C326.88,213.95 327.8,216.8 328.8,219.3C329.8,221.8 330.88,224.05 331.8,226C332.72,227.95 333.32,229.33 334.3,231C335.28,232.67 337.13,235.17 337.7,236 L338.7,237.1 L339.7,238.3 L340.7,239.5 L341.7,240.6 L342.7,241.8 L343.7,243.0 L344.7,244.2 L345.7,245.4 L346.7,246.6 L347.7,247.8 L348.7,248.9 L349.7,250.1 L350.7,251.3 L351.7,252.6 L352.7,253.8 L353.7,255.0 L354.7,256.2 L355.7,257.5 L356.7,258.6 L357.7,259.8 L358.7,261.0 L359.7,262.1 L360.7,263.2 L361.7,264.2 L362.7,265.2 L363.7,266.3 L364.7,267.2 L365.7,268.2 L366.7,269.2 L367.7,270.1 L368.7,271.1 L369.7,272.0 L370.7,272.9 L371.7,273.7 L372.7,274.6 L373.7,275.4 L374.7,276.1 L375.7,276.9 L376.7,277.6 L377.7,278.3 L378.7,279.0 L379.7,279.7 L380.7,280.4 L381.7,281.0 L382.7,281.6 L383.7,282.2 L384.7,282.7 L385.7,283.3 L386.7,283.9 L387.7,284.5 L388.7,285.1 L389.7,285.7 L390.7,286.3 L391.7,287.0 L392.7,287.6 L393.7,288.3 L394.7,288.9 L395.7,289.6 L396.7,290.3 L397.7,291.0 L398.7,291.7 L399.7,292.5 L400.7,293.2 L401.7,293.9 L402.7,294.7 L403.7,295.4 L404.7,296.0 L405.7,296.7 L406.7,297.4 L407.7,298.1 L408.7,298.7 L409.7,299.4 L410.7,300.1 L411.7,300.8 L412.7,301.4 L413.7,302.1 L414.7,302.9 L415.7,303.6 L416.7,304.3 L417.7,305.0 L418.7,305.8 L419.7,306.5 L420.7,307.3 L421.7,308.0 L422.7,308.8 L423.7,309.5 L424.7,310.3 L425.7,311.0 L426.7,311.7 L427.7,312.5 L428.7,313.1 L429.7,313.8 L430.7,314.3 L431.7,314.9 L432.7,315.5 L433.7,316.1 L434.7,316.6 L435.7,317.1 L436.7,317.6 L437.7,318.1 L438.7,318.6 L439.7,319.0 L440.7,319.5 L441.7,319.9 L442.7,320.3 L443.7,320.6 L444.7,321.0 L445.7,321.4 L446.7,321.8 L447.7,322.1 L448.7,322.5 L449.7,322.9 L450.7,323.2 L451.7,323.6 L452.7,323.9 L453.7,324.3 L454.7,324.7 L455.7,325.1 L456.7,325.5 L457.7,325.8 L458.7,326.2 L459.7,326.6 L460.7,327.1 L461.7,327.5 L462.7,327.9 L463.7,328.3 L464.7,328.8 L465.7,329.2 L466.7,329.7 L467.7,330.2 L468.7,330.6 L469.7,331.1 L470.7,331.6 L471.7,332.1 L472.7,332.6 L473.7,333.2 L474.7,333.7 L475.7,334.1 L476.7,334.6 L477.7,335.0 L478.7,335.5 L479.7,335.9 L480.7,336.3 L481.7,336.7 L482.7,337.2 L483.7,337.6 L484.7,338.0 L485.7,338.4 L486.7,338.7 L487.7,339.1 L488.7,339.5 L489.7,339.9 L490.7,340.2 L491.7,340.6 L492.7,340.9 L493.7,341.3 L494.7,341.6 L495.7,342.0 L496.7,342.3 L497.7,342.6 L498.7,342.9 L499.7,343.3 L500.7,343.6 L501.7,343.9 L502.7,344.3 L503.7,344.7 L504.7,345.1 L505.7,345.5 L506.7,346.0 L507.7,346.5 L508.7,347.0 L509.7,347.6 L510.7,348.1 L511.7,348.7 L512.7,349.4 L513.7,350.0 L514.7,350.7 L515.7,351.3 L516.7,352.0 L517.7,352.6 L518.7,353.2 L519.7,353.9 L520.7,354.5 L521.7,355.1 L522.7,355.6 L523.7,356.2 L524.7,356.7 L525.7,357.2 L526.7,357.7 L527.7,358.2 L528.7,358.7 L529.7,359.2 L530.7,359.6 L531.7,360.0 L532.7,360.4 L533.7,360.8 L534.7,361.2 L535.7,361.6 L536.7,361.9 L537.7,362.3 L538.7,362.6 L539.7,363.0 L540.7,363.3 L541.7,363.7 L542.7,364.0 L543.7,364.4 L544.7,364.7 L545.7,365.0 L546.7,365.4 L547.7,365.7 L548.7,366.0 L549.7,366.3 L550.7,366.7 L551.7,367.0 L552.7,367.4 L553.7,367.8 L554.7,368.2 L555.7,368.6 L556.7,369.0 L557.7,369.5 L558.7,370.0 L559.7,370.5 L560.7,371.1 L561.7,371.7 L562.7,372.3 L563.7,372.9 L564.7,373.5 L565.7,374.1 L566.7,374.6 L567.7,375.1 L568.7,375.5 L569.7,376.0 L570.7,376.6 L571.7,377.1 L572.7,377.6 L573.7,378.2 L574.7,378.7 L575.7,379.3 L576.7,379.8 L577.7,380.3 L578.7,380.9 L579.7,381.4 L580.7,382.0 L581.7,382.5 L582.7,383.0 L583.7,383.5 L584.7,383.9 L585.7,384.4 L586.7,384.8 L587.7,385.3 L588.7,385.8 L589.7,386.2 L590.7,386.7 L591.7,387.1 L592.7,387.5 L593.7,387.9 L594.7,388.3 L595.7,388.6 L596.7,389.0 L597.7,389.3 L598.7,389.6 L599.7,389.9 L600.7,390.3 L601.7,390.6 L602.7,391.0 L603.7,391.3 L604.7,391.6 L605.7,391.9 L606.7,392.2 L607.7,392.5 L608.7,392.8 L609.7,393.0 L610.7,393.3 L611.7,393.5 L612.7,393.8 L613.7,394.0 L614.7,394.3 L615.7,394.5 L616.7,394.7 L617.7,394.9 L618.7,395.2 L619.7,395.4 L620.0,395.4 L623.0,396.0 L626.0,396.4 L629.0,396.9 L632.0,397.2 L635.0,397.6 L638.0,397.9 L641.0,398.2 L644.0,398.5 L647.0,398.7 L650.0,398.9 L653.0,399.1 L656.0,399.2 L659.0,399.4 L662.0,399.5 L665.0,399.6 L668.0,399.8 L671.0,399.9 L674.0,400.0 L677.0,400.1 L680.0,400.2 L683.0,400.3 L686.0,400.4 L689.0,400.5 L692.0,400.6 L695.0,400.7 L698.0,400.8 L701.0,400.9 L704.0,401.0 L707.0,401.0 L710.0,401.1 L713.0,401.2 L716.0,401.3 L719.0,401.4 L722.0,401.5 L725.0,401.6 L728.0,401.6 L731.0,401.7 L734.0,401.8 L737.0,401.9 L740.0,402.0 L743.0,402.0 L746.0,402.1 L749.0,402.2 L752.0,402.3 L755.0,402.4 L758.0,402.5 L761.0,402.6 L764.0,402.7 L767.0,402.8 L770.0,402.9 L773.0,403.0 L776.0,403.1 L779.0,403.2 L782.0,403.3 L785.0,403.4 L788.0,403.5 L791.0,403.6 L794.0,403.7 L797.0,403.8 L800.0,403.8 L803.0,403.9 L806.0,404.0 L809.0,404.1 L812.0,404.1 L815.0,404.2 L818.0,404.3 L821.0,404.3 L824.0,404.3 L827.0,404.4 L830.0,404.4 L833.0,404.4 L836.0,404.4 L839.0,404.5 L842.0,404.5 L845.0,404.5 L848.0,404.5 L851.0,404.5 L854.0,404.5 L857.0,404.5 L860.0,404.6 L863.0,404.6 L866.0,404.6 L869.0,404.6 L872.0,404.6 L875.0,404.6 L878.0,404.6 L881.0,404.7 L884.0,404.7 L887.0,404.7 L890.0,404.7 L893.0,404.7 L896.0,404.7 L899.0,404.7 L902.0,404.7 L905.0,404.8 L908.0,404.8 L911.0,404.8 L914.0,404.8 L917.0,404.8 L920.0,404.8 L923.0,404.8 L926.0,404.8 L929.0,404.8 L932.0,404.8 L935.0,404.9 L938.0,404.9 L941.0,404.9 L944.0,404.9 L947.0,404.9 L950.0,404.9 L953.0,404.9 L956.0,404.9 L959.0,404.9 L962.0,404.9 L965.0,404.9 L968.0,404.9 L971.0,404.9 L974.0,405.0 L977.0,405.0 L980.0,405.0 L983.0,405.0 L986.0,405.0 L989.0,405.0 L992.0,405.0 L995.0,405.0 L998.0,405.0 L1001.0,405.0 L1004.0,405.0 L1007.0,405.0 L1010.0,405.0 L1013.0,405.0 L1016.0,405.0 L1019.0,405.0 L1022.0,405.0 L1025.0,405.0 L1028.0,405.0 L1031.0,405.0 L1034.0,405.0 L1037.0,405.0 L1040.0,405.0 L1043.0,405.0 L1046.0,405.1 L1049.0,405.1 L1052.0,405.1 L1055.0,405.1 L1058.0,405.1 L1061.0,405.1 L1064.0,405.1 L1067.0,405.1 L1070.0,405.1 L1073.0,405.1 L1076.0,405.1" stroke="#262626"/>
<path d="M306.46,40.4C306.86,47 307.92,65.95 308.88,80C309.84,94.05 311.22,113.03 312.2,124.7C313.18,136.37 313.89,142.12 314.76,150C315.63,157.88 316.38,165.67 317.44,172C318.5,178.33 319.75,183.07 321.12,188C322.49,192.93 324.34,197.77 325.66,201.6C326.98,205.43 328.03,208.05 329.06,211C330.09,213.95 331.02,216.8 331.86,219.3C332.7,221.8 333.46,224.05 334.12,226C334.78,227.95 335.24,229.33 335.84,231C336.44,232.67 337.39,235.17 337.7,236 L338.7,237.3 L339.7,238.7 L340.7,240.0 L341.7,241.3 L342.7,242.7 L343.7,244.0 L344.7,245.4 L345.7,246.7 L346.7,248.1 L347.7,249.4 L348.7,250.8 L349.7,252.1 L350.7,253.5 L351.7,254.9 L352.7,256.3 L353.7,257.7 L354.7,259.1 L355.7,260.5 L356.7,261.8 L357.7,263.2 L358.7,264.5 L359.7,265.7 L360.7,266.9 L361.7,268.1 L362.7,269.3 L363.7,270.4 L364.7,271.5 L365.7,272.6 L366.7,273.6 L367.7,274.7 L368.7,275.7 L369.7,276.7 L370.7,277.7 L371.7,278.6 L372.7,279.6 L373.7,280.4 L374.7,281.3 L375.7,282.1 L376.7,282.9 L377.7,283.7 L378.7,284.4 L379.7,285.1 L380.7,285.8 L381.7,286.5 L382.7,287.2 L383.7,287.8 L384.7,288.5 L385.7,289.1 L386.7,289.7 L387.7,290.4 L388.7,291.0 L389.7,291.7 L390.7,292.3 L391.7,293.0 L392.7,293.7 L393.7,294.3 L394.7,295.0 L395.7,295.7 L396.7,296.3 L397.7,297.0 L398.7,297.6 L399.7,298.3 L400.7,299.0 L401.7,299.6 L402.7,300.2 L403.7,300.9 L404.7,301.5 L405.7,302.0 L406.7,302.6 L407.7,303.2 L408.7,303.8 L409.7,304.3 L410.7,304.9 L411.7,305.4 L412.7,306.0 L413.7,306.6 L414.7,307.2 L415.7,307.7 L416.7,308.3 L417.7,308.9 L418.7,309.6 L419.7,310.2 L420.7,310.8 L421.7,311.5 L422.7,312.1 L423.7,312.8 L424.7,313.4 L425.7,314.1 L426.7,314.7 L427.7,315.4 L428.7,316.0 L429.7,316.6 L430.7,317.2 L431.7,317.8 L432.7,318.3 L433.7,318.9 L434.7,319.5 L435.7,320.0 L436.7,320.5 L437.7,321.0 L438.7,321.6 L439.7,322.1 L440.7,322.6 L441.7,323.0 L442.7,323.5 L443.7,324.0 L444.7,324.4 L445.7,324.9 L446.7,325.4 L447.7,325.8 L448.7,326.3 L449.7,326.7 L450.7,327.2 L451.7,327.6 L452.7,328.1 L453.7,328.5 L454.7,329.0 L455.7,329.5 L456.7,330.0 L457.7,330.4 L458.7,330.9 L459.7,331.4 L460.7,331.9 L461.7,332.4 L462.7,332.9 L463.7,333.4 L464.7,334.0 L465.7,334.5 L466.7,335.1 L467.7,335.6 L468.7,336.2 L469.7,336.8 L470.7,337.3 L471.7,337.9 L472.7,338.5 L473.7,339.1 L474.7,339.7 L475.7,340.2 L476.7,340.8 L477.7,341.4 L478.7,341.9 L479.7,342.4 L480.7,343.0 L481.7,343.5 L482.7,344.0 L483.7,344.6 L484.7,345.1 L485.7,345.6 L486.7,346.1 L487.7,346.6 L488.7,347.0 L489.7,347.5 L490.7,348.0 L491.7,348.4 L492.7,348.9 L493.7,349.3 L494.7,349.7 L495.7,350.1 L496.7,350.5 L497.7,350.9 L498.7,351.3 L499.7,351.6 L500.7,352.0 L501.7,352.4 L502.7,352.8 L503.7,353.3 L504.7,353.7 L505.7,354.2 L506.7,354.7 L507.7,355.2 L508.7,355.8 L509.7,356.3 L510.7,356.9 L511.7,357.5 L512.7,358.1 L513.7,358.7 L514.7,359.3 L515.7,359.9 L516.7,360.5 L517.7,361.1 L518.7,361.7 L519.7,362.3 L520.7,362.9 L521.7,363.4 L522.7,363.9 L523.7,364.4 L524.7,364.9 L525.7,365.4 L526.7,365.8 L527.7,366.3 L528.7,366.7 L529.7,367.2 L530.7,367.6 L531.7,368.0 L532.7,368.4 L533.7,368.8 L534.7,369.1 L535.7,369.5 L536.7,369.8 L537.7,370.2 L538.7,370.5 L539.7,370.9 L540.7,371.2 L541.7,371.5 L542.7,371.8 L543.7,372.1 L544.7,372.4 L545.7,372.7 L546.7,373.0 L547.7,373.3 L548.7,373.6 L549.7,373.9 L550.7,374.2 L551.7,374.5 L552.7,374.8 L553.7,375.1 L554.7,375.4 L555.7,375.7 L556.7,376.0 L557.7,376.4 L558.7,376.7 L559.7,377.1 L560.7,377.5 L561.7,377.9 L562.7,378.3 L563.7,378.8 L564.7,379.2 L565.7,379.6 L566.7,379.9 L567.7,380.3 L568.7,380.6 L569.7,381.0 L570.7,381.3 L571.7,381.7 L572.7,382.1 L573.7,382.5 L574.7,382.8 L575.7,383.2 L576.7,383.6 L577.7,383.9 L578.7,384.3 L579.7,384.7 L580.7,385.0 L581.7,385.4 L582.7,385.7 L583.7,386.0 L584.7,386.3 L585.7,386.7 L586.7,387.0 L587.7,387.3 L588.7,387.6 L589.7,387.9 L590.7,388.2 L591.7,388.5 L592.7,388.8 L593.7,389.1 L594.7,389.4 L595.7,389.6 L596.7,389.9 L597.7,390.1 L598.7,390.4 L599.7,390.6 L600.7,390.9 L601.7,391.2 L602.7,391.4 L603.7,391.7 L604.7,391.9 L605.7,392.1 L606.7,392.4 L607.7,392.6 L608.7,392.8 L609.7,393.1 L610.7,393.3 L611.7,393.5 L612.7,393.8 L613.7,394.0 L614.7,394.2 L615.7,394.4 L616.7,394.6 L617.7,394.8 L618.7,395.0 L619.7,395.2 L620.0,395.3 L623.0,395.8 L626.0,396.3 L629.0,396.7 L632.0,397.1 L635.0,397.4 L638.0,397.7 L641.0,398.0 L644.0,398.3 L647.0,398.5 L650.0,398.7 L653.0,398.9 L656.0,399.0 L659.0,399.2 L662.0,399.3 L665.0,399.5 L668.0,399.6 L671.0,399.7 L674.0,399.8 L677.0,399.9 L680.0,400.0 L683.0,400.1 L686.0,400.2 L689.0,400.3 L692.0,400.4 L695.0,400.5 L698.0,400.6 L701.0,400.7 L704.0,400.8 L707.0,400.9 L710.0,401.0 L713.0,401.1 L716.0,401.2 L719.0,401.3 L722.0,401.3 L725.0,401.4 L728.0,401.5 L731.0,401.6 L734.0,401.7 L737.0,401.8 L740.0,401.8 L743.0,401.9 L746.0,402.0 L749.0,402.1 L752.0,402.2 L755.0,402.3 L758.0,402.4 L761.0,402.5 L764.0,402.6 L767.0,402.7 L770.0,402.8 L773.0,402.9 L776.0,403.0 L779.0,403.1 L782.0,403.2 L785.0,403.3 L788.0,403.4 L791.0,403.5 L794.0,403.6 L797.0,403.7 L800.0,403.8 L803.0,403.9 L806.0,403.9 L809.0,404.0 L812.0,404.1 L815.0,404.2 L818.0,404.2 L821.0,404.3 L824.0,404.3 L827.0,404.3 L830.0,404.4 L833.0,404.4 L836.0,404.4 L839.0,404.4 L842.0,404.4 L845.0,404.4 L848.0,404.5 L851.0,404.5 L854.0,404.5 L857.0,404.5 L860.0,404.5 L863.0,404.5 L866.0,404.5 L869.0,404.6 L872.0,404.6 L875.0,404.6 L878.0,404.6 L881.0,404.6 L884.0,404.6 L887.0,404.6 L890.0,404.7 L893.0,404.7 L896.0,404.7 L899.0,404.7 L902.0,404.7 L905.0,404.7 L908.0,404.7 L911.0,404.7 L914.0,404.7 L917.0,404.8 L920.0,404.8 L923.0,404.8 L926.0,404.8 L929.0,404.8 L932.0,404.8 L935.0,404.8 L938.0,404.8 L941.0,404.8 L944.0,404.8 L947.0,404.9 L950.0,404.9 L953.0,404.9 L956.0,404.9 L959.0,404.9 L962.0,404.9 L965.0,404.9 L968.0,404.9 L971.0,404.9 L974.0,404.9 L977.0,404.9 L980.0,404.9 L983.0,404.9 L986.0,404.9 L989.0,405.0 L992.0,405.0 L995.0,405.0 L998.0,405.0 L1001.0,405.0 L1004.0,405.0 L1007.0,405.0 L1010.0,405.0 L1013.0,405.0 L1016.0,405.0 L1019.0,405.0 L1022.0,405.0 L1025.0,405.0 L1028.0,405.0 L1031.0,405.0 L1034.0,405.0 L1037.0,405.0 L1040.0,405.0 L1043.0,405.0 L1046.0,405.0 L1049.0,405.0 L1052.0,405.0 L1055.0,405.0 L1058.0,405.0 L1061.0,405.0 L1064.0,405.0 L1067.0,405.0 L1070.0,405.0 L1073.0,405.0 L1076.0,405.0" stroke="#9a6a08"/>
<path d="M307.66,40.4C308.05,47 309.08,65.95 309.98,80C310.88,94.05 312.12,113.03 313.08,124.7C314.03,136.37 314.79,142.12 315.71,150C316.63,157.88 317.48,165.67 318.62,172C319.75,178.33 321.1,183.07 322.52,188C323.94,192.93 325.8,197.77 327.11,201.6C328.42,205.43 329.41,208.05 330.38,211C331.36,213.95 332.18,216.8 332.94,219.3C333.69,221.8 334.34,224.05 334.9,226C335.45,227.95 335.8,229.33 336.26,231C336.73,232.67 337.46,235.17 337.7,236 L338.7,237.4 L339.7,238.8 L340.7,240.2 L341.7,241.6 L342.7,243.0 L343.7,244.4 L344.7,245.8 L345.7,247.2 L346.7,248.6 L347.7,250.0 L348.7,251.4 L349.7,252.8 L350.7,254.2 L351.7,255.7 L352.7,257.1 L353.7,258.6 L354.7,260.0 L355.7,261.5 L356.7,262.9 L357.7,264.3 L358.7,265.6 L359.7,266.9 L360.7,268.2 L361.7,269.4 L362.7,270.6 L363.7,271.8 L364.7,272.9 L365.7,274.0 L366.7,275.1 L367.7,276.2 L368.7,277.3 L369.7,278.3 L370.7,279.3 L371.7,280.3 L372.7,281.2 L373.7,282.1 L374.7,283.0 L375.7,283.8 L376.7,284.7 L377.7,285.4 L378.7,286.2 L379.7,287.0 L380.7,287.7 L381.7,288.4 L382.7,289.1 L383.7,289.7 L384.7,290.4 L385.7,291.0 L386.7,291.7 L387.7,292.4 L388.7,293.0 L389.7,293.7 L390.7,294.4 L391.7,295.0 L392.7,295.7 L393.7,296.4 L394.7,297.0 L395.7,297.7 L396.7,298.3 L397.7,299.0 L398.7,299.6 L399.7,300.3 L400.7,300.9 L401.7,301.5 L402.7,302.1 L403.7,302.7 L404.7,303.3 L405.7,303.8 L406.7,304.4 L407.7,304.9 L408.7,305.4 L409.7,305.9 L410.7,306.5 L411.7,307.0 L412.7,307.5 L413.7,308.0 L414.7,308.6 L415.7,309.1 L416.7,309.7 L417.7,310.2 L418.7,310.8 L419.7,311.4 L420.7,312.0 L421.7,312.6 L422.7,313.2 L423.7,313.8 L424.7,314.5 L425.7,315.1 L426.7,315.7 L427.7,316.3 L428.7,317.0 L429.7,317.6 L430.7,318.1 L431.7,318.7 L432.7,319.3 L433.7,319.9 L434.7,320.4 L435.7,321.0 L436.7,321.5 L437.7,322.0 L438.7,322.6 L439.7,323.1 L440.7,323.6 L441.7,324.1 L442.7,324.6 L443.7,325.1 L444.7,325.6 L445.7,326.1 L446.7,326.5 L447.7,327.0 L448.7,327.5 L449.7,328.0 L450.7,328.5 L451.7,329.0 L452.7,329.5 L453.7,330.0 L454.7,330.5 L455.7,331.0 L456.7,331.5 L457.7,332.0 L458.7,332.5 L459.7,333.0 L460.7,333.5 L461.7,334.1 L462.7,334.6 L463.7,335.2 L464.7,335.7 L465.7,336.3 L466.7,336.9 L467.7,337.5 L468.7,338.0 L469.7,338.6 L470.7,339.2 L471.7,339.9 L472.7,340.5 L473.7,341.1 L474.7,341.7 L475.7,342.3 L476.7,342.9 L477.7,343.5 L478.7,344.1 L479.7,344.6 L480.7,345.2 L481.7,345.8 L482.7,346.3 L483.7,346.9 L484.7,347.4 L485.7,348.0 L486.7,348.5 L487.7,349.0 L488.7,349.6 L489.7,350.1 L490.7,350.5 L491.7,351.0 L492.7,351.5 L493.7,351.9 L494.7,352.4 L495.7,352.8 L496.7,353.2 L497.7,353.6 L498.7,354.0 L499.7,354.4 L500.7,354.8 L501.7,355.3 L502.7,355.7 L503.7,356.1 L504.7,356.6 L505.7,357.1 L506.7,357.6 L507.7,358.1 L508.7,358.7 L509.7,359.2 L510.7,359.8 L511.7,360.4 L512.7,361.0 L513.7,361.6 L514.7,362.2 L515.7,362.8 L516.7,363.4 L517.7,364.0 L518.7,364.6 L519.7,365.1 L520.7,365.7 L521.7,366.2 L522.7,366.7 L523.7,367.2 L524.7,367.6 L525.7,368.1 L526.7,368.5 L527.7,369.0 L528.7,369.4 L529.7,369.8 L530.7,370.2 L531.7,370.6 L532.7,371.0 L533.7,371.4 L534.7,371.8 L535.7,372.1 L536.7,372.5 L537.7,372.8 L538.7,373.2 L539.7,373.5 L540.7,373.8 L541.7,374.1 L542.7,374.4 L543.7,374.7 L544.7,375.0 L545.7,375.3 L546.7,375.6 L547.7,375.8 L548.7,376.1 L549.7,376.4 L550.7,376.7 L551.7,376.9 L552.7,377.2 L553.7,377.5 L554.7,377.8 L555.7,378.1 L556.7,378.4 L557.7,378.7 L558.7,379.0 L559.7,379.3 L560.7,379.7 L561.7,380.0 L562.7,380.4 L563.7,380.7 L564.7,381.1 L565.7,381.4 L566.7,381.7 L567.7,382.0 L568.7,382.3 L569.7,382.6 L570.7,382.9 L571.7,383.2 L572.7,383.6 L573.7,383.9 L574.7,384.2 L575.7,384.5 L576.7,384.8 L577.7,385.1 L578.7,385.4 L579.7,385.7 L580.7,386.0 L581.7,386.3 L582.7,386.6 L583.7,386.9 L584.7,387.2 L585.7,387.4 L586.7,387.7 L587.7,387.9 L588.7,388.2 L589.7,388.5 L590.7,388.7 L591.7,389.0 L592.7,389.2 L593.7,389.5 L594.7,389.7 L595.7,390.0 L596.7,390.2 L597.7,390.4 L598.7,390.6 L599.7,390.9 L600.7,391.1 L601.7,391.3 L602.7,391.6 L603.7,391.8 L604.7,392.0 L605.7,392.2 L606.7,392.5 L607.7,392.7 L608.7,392.9 L609.7,393.1 L610.7,393.3 L611.7,393.5 L612.7,393.7 L613.7,394.0 L614.7,394.2 L615.7,394.4 L616.7,394.6 L617.7,394.8 L618.7,395.0 L619.7,395.2 L620.0,395.3 L623.0,395.8 L626.0,396.2 L629.0,396.6 L632.0,397.0 L635.0,397.3 L638.0,397.7 L641.0,398.0 L644.0,398.2 L647.0,398.4 L650.0,398.6 L653.0,398.8 L656.0,399.0 L659.0,399.1 L662.0,399.3 L665.0,399.4 L668.0,399.5 L671.0,399.6 L674.0,399.7 L677.0,399.9 L680.0,400.0 L683.0,400.1 L686.0,400.2 L689.0,400.3 L692.0,400.3 L695.0,400.4 L698.0,400.5 L701.0,400.6 L704.0,400.7 L707.0,400.8 L710.0,400.9 L713.0,401.0 L716.0,401.1 L719.0,401.2 L722.0,401.3 L725.0,401.4 L728.0,401.5 L731.0,401.5 L734.0,401.6 L737.0,401.7 L740.0,401.8 L743.0,401.9 L746.0,402.0 L749.0,402.1 L752.0,402.1 L755.0,402.2 L758.0,402.3 L761.0,402.4 L764.0,402.5 L767.0,402.6 L770.0,402.7 L773.0,402.8 L776.0,402.9 L779.0,403.1 L782.0,403.2 L785.0,403.3 L788.0,403.4 L791.0,403.5 L794.0,403.6 L797.0,403.7 L800.0,403.8 L803.0,403.8 L806.0,403.9 L809.0,404.0 L812.0,404.1 L815.0,404.1 L818.0,404.2 L821.0,404.2 L824.0,404.3 L827.0,404.3 L830.0,404.3 L833.0,404.4 L836.0,404.4 L839.0,404.4 L842.0,404.4 L845.0,404.4 L848.0,404.4 L851.0,404.5 L854.0,404.5 L857.0,404.5 L860.0,404.5 L863.0,404.5 L866.0,404.5 L869.0,404.5 L872.0,404.6 L875.0,404.6 L878.0,404.6 L881.0,404.6 L884.0,404.6 L887.0,404.6 L890.0,404.6 L893.0,404.7 L896.0,404.7 L899.0,404.7 L902.0,404.7 L905.0,404.7 L908.0,404.7 L911.0,404.7 L914.0,404.7 L917.0,404.7 L920.0,404.8 L923.0,404.8 L926.0,404.8 L929.0,404.8 L932.0,404.8 L935.0,404.8 L938.0,404.8 L941.0,404.8 L944.0,404.8 L947.0,404.8 L950.0,404.8 L953.0,404.9 L956.0,404.9 L959.0,404.9 L962.0,404.9 L965.0,404.9 L968.0,404.9 L971.0,404.9 L974.0,404.9 L977.0,404.9 L980.0,404.9 L983.0,404.9 L986.0,404.9 L989.0,404.9 L992.0,404.9 L995.0,405.0 L998.0,405.0 L1001.0,405.0 L1004.0,405.0 L1007.0,405.0 L1010.0,405.0 L1013.0,405.0 L1016.0,405.0 L1019.0,405.0 L1022.0,405.0 L1025.0,405.0 L1028.0,405.0 L1031.0,405.0 L1034.0,405.0 L1037.0,405.0 L1040.0,405.0 L1043.0,405.0 L1046.0,405.0 L1049.0,405.0 L1052.0,405.0 L1055.0,405.0 L1058.0,405.0 L1061.0,405.0 L1064.0,405.0 L1067.0,405.0 L1070.0,405.0 L1073.0,405.0 L1076.0,405.0" stroke="#2a5a8a"/>
<path d="M308.86,40.4C309.23,47 310.23,65.95 311.08,80C311.93,94.05 313.02,113.03 313.95,124.7C314.88,136.37 315.69,142.12 316.66,150C317.63,157.88 318.58,165.67 319.79,172C321,178.33 322.46,183.07 323.92,188C325.38,192.93 327.26,197.77 328.56,201.6C329.86,205.43 330.8,208.05 331.71,211C332.62,213.95 333.35,216.8 334.01,219.3C334.67,221.8 335.22,224.05 335.67,226C336.12,227.95 336.35,229.33 336.69,231C337.03,232.67 337.53,235.17 337.7,236 L338.7,237.5 L339.7,238.9 L340.7,240.4 L341.7,241.8 L342.7,243.3 L343.7,244.7 L344.7,246.2 L345.7,247.6 L346.7,249.1 L347.7,250.5 L348.7,252.0 L349.7,253.5 L350.7,255.0 L351.7,256.5 L352.7,258.0 L353.7,259.5 L354.7,261.0 L355.7,262.5 L356.7,263.9 L357.7,265.4 L358.7,266.8 L359.7,268.1 L360.7,269.4 L361.7,270.7 L362.7,271.9 L363.7,273.1 L364.7,274.3 L365.7,275.5 L366.7,276.6 L367.7,277.7 L368.7,278.8 L369.7,279.9 L370.7,280.9 L371.7,281.9 L372.7,282.9 L373.7,283.8 L374.7,284.7 L375.7,285.6 L376.7,286.4 L377.7,287.2 L378.7,288.0 L379.7,288.8 L380.7,289.5 L381.7,290.2 L382.7,290.9 L383.7,291.6 L384.7,292.3 L385.7,293.0 L386.7,293.6 L387.7,294.3 L388.7,295.0 L389.7,295.7 L390.7,296.4 L391.7,297.0 L392.7,297.7 L393.7,298.4 L394.7,299.0 L395.7,299.7 L396.7,300.3 L397.7,301.0 L398.7,301.6 L399.7,302.2 L400.7,302.8 L401.7,303.4 L402.7,304.0 L403.7,304.5 L404.7,305.1 L405.7,305.6 L406.7,306.1 L407.7,306.6 L408.7,307.1 L409.7,307.6 L410.7,308.1 L411.7,308.5 L412.7,309.0 L413.7,309.5 L414.7,310.0 L415.7,310.5 L416.7,311.0 L417.7,311.5 L418.7,312.1 L419.7,312.6 L420.7,313.2 L421.7,313.8 L422.7,314.3 L423.7,314.9 L424.7,315.5 L425.7,316.1 L426.7,316.7 L427.7,317.3 L428.7,317.9 L429.7,318.5 L430.7,319.1 L431.7,319.7 L432.7,320.2 L433.7,320.8 L434.7,321.4 L435.7,321.9 L436.7,322.5 L437.7,323.0 L438.7,323.6 L439.7,324.1 L440.7,324.6 L441.7,325.1 L442.7,325.7 L443.7,326.2 L444.7,326.7 L445.7,327.2 L446.7,327.7 L447.7,328.2 L448.7,328.8 L449.7,329.3 L450.7,329.8 L451.7,330.3 L452.7,330.8 L453.7,331.4 L454.7,331.9 L455.7,332.4 L456.7,333.0 L457.7,333.5 L458.7,334.0 L459.7,334.6 L460.7,335.1 L461.7,335.7 L462.7,336.3 L463.7,336.9 L464.7,337.5 L465.7,338.0 L466.7,338.7 L467.7,339.3 L468.7,339.9 L469.7,340.5 L470.7,341.1 L471.7,341.8 L472.7,342.4 L473.7,343.1 L474.7,343.7 L475.7,344.3 L476.7,345.0 L477.7,345.6 L478.7,346.2 L479.7,346.8 L480.7,347.4 L481.7,348.0 L482.7,348.6 L483.7,349.2 L484.7,349.8 L485.7,350.4 L486.7,351.0 L487.7,351.5 L488.7,352.1 L489.7,352.6 L490.7,353.1 L491.7,353.6 L492.7,354.1 L493.7,354.6 L494.7,355.1 L495.7,355.5 L496.7,356.0 L497.7,356.4 L498.7,356.8 L499.7,357.2 L500.7,357.7 L501.7,358.1 L502.7,358.5 L503.7,359.0 L504.7,359.5 L505.7,360.0 L506.7,360.5 L507.7,361.0 L508.7,361.6 L509.7,362.1 L510.7,362.7 L511.7,363.3 L512.7,363.9 L513.7,364.5 L514.7,365.1 L515.7,365.7 L516.7,366.2 L517.7,366.8 L518.7,367.4 L519.7,367.9 L520.7,368.5 L521.7,369.0 L522.7,369.5 L523.7,369.9 L524.7,370.4 L525.7,370.8 L526.7,371.3 L527.7,371.7 L528.7,372.1 L529.7,372.5 L530.7,372.9 L531.7,373.3 L532.7,373.7 L533.7,374.0 L534.7,374.4 L535.7,374.8 L536.7,375.1 L537.7,375.4 L538.7,375.8 L539.7,376.1 L540.7,376.4 L541.7,376.7 L542.7,377.0 L543.7,377.3 L544.7,377.6 L545.7,377.9 L546.7,378.1 L547.7,378.4 L548.7,378.6 L549.7,378.9 L550.7,379.1 L551.7,379.4 L552.7,379.7 L553.7,379.9 L554.7,380.2 L555.7,380.4 L556.7,380.7 L557.7,381.0 L558.7,381.2 L559.7,381.5 L560.7,381.8 L561.7,382.1 L562.7,382.4 L563.7,382.7 L564.7,382.9 L565.7,383.2 L566.7,383.5 L567.7,383.7 L568.7,384.0 L569.7,384.3 L570.7,384.5 L571.7,384.8 L572.7,385.0 L573.7,385.3 L574.7,385.6 L575.7,385.8 L576.7,386.1 L577.7,386.3 L578.7,386.6 L579.7,386.8 L580.7,387.0 L581.7,387.3 L582.7,387.5 L583.7,387.7 L584.7,388.0 L585.7,388.2 L586.7,388.4 L587.7,388.6 L588.7,388.8 L589.7,389.0 L590.7,389.2 L591.7,389.5 L592.7,389.7 L593.7,389.9 L594.7,390.1 L595.7,390.3 L596.7,390.5 L597.7,390.7 L598.7,390.9 L599.7,391.1 L600.7,391.3 L601.7,391.5 L602.7,391.7 L603.7,391.9 L604.7,392.1 L605.7,392.3 L606.7,392.5 L607.7,392.7 L608.7,392.9 L609.7,393.1 L610.7,393.3 L611.7,393.5 L612.7,393.7 L613.7,393.9 L614.7,394.2 L615.7,394.4 L616.7,394.6 L617.7,394.8 L618.7,395.0 L619.7,395.2 L620.0,395.2 L623.0,395.8 L626.0,396.2 L629.0,396.6 L632.0,396.9 L635.0,397.3 L638.0,397.6 L641.0,397.9 L644.0,398.1 L647.0,398.4 L650.0,398.6 L653.0,398.7 L656.0,398.9 L659.0,399.1 L662.0,399.2 L665.0,399.3 L668.0,399.5 L671.0,399.6 L674.0,399.7 L677.0,399.8 L680.0,399.9 L683.0,400.0 L686.0,400.1 L689.0,400.2 L692.0,400.3 L695.0,400.4 L698.0,400.5 L701.0,400.6 L704.0,400.7 L707.0,400.8 L710.0,400.9 L713.0,401.0 L716.0,401.1 L719.0,401.2 L722.0,401.2 L725.0,401.3 L728.0,401.4 L731.0,401.5 L734.0,401.6 L737.0,401.7 L740.0,401.8 L743.0,401.8 L746.0,401.9 L749.0,402.0 L752.0,402.1 L755.0,402.2 L758.0,402.3 L761.0,402.4 L764.0,402.5 L767.0,402.6 L770.0,402.7 L773.0,402.8 L776.0,402.9 L779.0,403.0 L782.0,403.1 L785.0,403.2 L788.0,403.3 L791.0,403.4 L794.0,403.5 L797.0,403.6 L800.0,403.7 L803.0,403.8 L806.0,403.9 L809.0,404.0 L812.0,404.1 L815.0,404.1 L818.0,404.2 L821.0,404.2 L824.0,404.3 L827.0,404.3 L830.0,404.3 L833.0,404.3 L836.0,404.4 L839.0,404.4 L842.0,404.4 L845.0,404.4 L848.0,404.4 L851.0,404.4 L854.0,404.5 L857.0,404.5 L860.0,404.5 L863.0,404.5 L866.0,404.5 L869.0,404.5 L872.0,404.5 L875.0,404.6 L878.0,404.6 L881.0,404.6 L884.0,404.6 L887.0,404.6 L890.0,404.6 L893.0,404.6 L896.0,404.6 L899.0,404.7 L902.0,404.7 L905.0,404.7 L908.0,404.7 L911.0,404.7 L914.0,404.7 L917.0,404.7 L920.0,404.7 L923.0,404.8 L926.0,404.8 L929.0,404.8 L932.0,404.8 L935.0,404.8 L938.0,404.8 L941.0,404.8 L944.0,404.8 L947.0,404.8 L950.0,404.8 L953.0,404.8 L956.0,404.9 L959.0,404.9 L962.0,404.9 L965.0,404.9 L968.0,404.9 L971.0,404.9 L974.0,404.9 L977.0,404.9 L980.0,404.9 L983.0,404.9 L986.0,404.9 L989.0,404.9 L992.0,404.9 L995.0,404.9 L998.0,404.9 L1001.0,404.9 L1004.0,405.0 L1007.0,405.0 L1010.0,405.0 L1013.0,405.0 L1016.0,405.0 L1019.0,405.0 L1022.0,405.0 L1025.0,405.0 L1028.0,405.0 L1031.0,405.0 L1034.0,405.0 L1037.0,405.0 L1040.0,405.0 L1043.0,405.0 L1046.0,405.0 L1049.0,405.0 L1052.0,405.0 L1055.0,405.0 L1058.0,405.0 L1061.0,405.0 L1064.0,405.0 L1067.0,405.0 L1070.0,405.0 L1073.0,405.0 L1076.0,405.0" stroke="#3e6a22"/>
<path d="M310.3,40.4C310.65,47 311.62,65.95 312.4,80C313.18,94.05 314.1,113.03 315,124.7C315.9,136.37 316.77,142.12 317.8,150C318.83,157.88 319.9,165.67 321.2,172C322.5,178.33 324.08,183.07 325.6,188C327.12,192.93 329.02,197.77 330.3,201.6C331.58,205.43 332.47,208.05 333.3,211C334.13,213.95 334.75,216.8 335.3,219.3C335.85,221.8 336.28,224.05 336.6,226C336.92,227.95 337.02,229.33 337.2,231C337.38,232.67 337.62,235.17 337.7,236 L338.7,237.5 L339.7,239.0 L340.7,240.5 L341.7,242.1 L342.7,243.6 L343.7,245.1 L344.7,246.6 L345.7,248.1 L346.7,249.6 L347.7,251.1 L348.7,252.6 L349.7,254.1 L350.7,255.7 L351.7,257.2 L352.7,258.8 L353.7,260.4 L354.7,261.9 L355.7,263.5 L356.7,265.0 L357.7,266.5 L358.7,267.9 L359.7,269.3 L360.7,270.7 L361.7,272.0 L362.7,273.3 L363.7,274.5 L364.7,275.7 L365.7,276.9 L366.7,278.1 L367.7,279.2 L368.7,280.4 L369.7,281.5 L370.7,282.5 L371.7,283.5 L372.7,284.5 L373.7,285.5 L374.7,286.4 L375.7,287.3 L376.7,288.2 L377.7,289.0 L378.7,289.8 L379.7,290.6 L380.7,291.3 L381.7,292.1 L382.7,292.8 L383.7,293.5 L384.7,294.2 L385.7,294.9 L386.7,295.6 L387.7,296.3 L388.7,297.0 L389.7,297.7 L390.7,298.4 L391.7,299.0 L392.7,299.7 L393.7,300.4 L394.7,301.0 L395.7,301.7 L396.7,302.3 L397.7,303.0 L398.7,303.6 L399.7,304.2 L400.7,304.7 L401.7,305.3 L402.7,305.8 L403.7,306.4 L404.7,306.9 L405.7,307.4 L406.7,307.8 L407.7,308.3 L408.7,308.8 L409.7,309.2 L410.7,309.7 L411.7,310.1 L412.7,310.5 L413.7,311.0 L414.7,311.4 L415.7,311.9 L416.7,312.4 L417.7,312.8 L418.7,313.3 L419.7,313.8 L420.7,314.4 L421.7,314.9 L422.7,315.4 L423.7,316.0 L424.7,316.6 L425.7,317.1 L426.7,317.7 L427.7,318.3 L428.7,318.9 L429.7,319.4 L430.7,320.0 L431.7,320.6 L432.7,321.2 L433.7,321.8 L434.7,322.3 L435.7,322.9 L436.7,323.4 L437.7,324.0 L438.7,324.6 L439.7,325.1 L440.7,325.7 L441.7,326.2 L442.7,326.7 L443.7,327.3 L444.7,327.8 L445.7,328.4 L446.7,328.9 L447.7,329.5 L448.7,330.0 L449.7,330.6 L450.7,331.1 L451.7,331.7 L452.7,332.2 L453.7,332.8 L454.7,333.3 L455.7,333.9 L456.7,334.5 L457.7,335.0 L458.7,335.6 L459.7,336.2 L460.7,336.8 L461.7,337.4 L462.7,338.0 L463.7,338.6 L464.7,339.2 L465.7,339.8 L466.7,340.4 L467.7,341.1 L468.7,341.7 L469.7,342.4 L470.7,343.0 L471.7,343.7 L472.7,344.4 L473.7,345.0 L474.7,345.7 L475.7,346.4 L476.7,347.0 L477.7,347.7 L478.7,348.3 L479.7,349.0 L480.7,349.6 L481.7,350.3 L482.7,350.9 L483.7,351.6 L484.7,352.2 L485.7,352.8 L486.7,353.4 L487.7,354.0 L488.7,354.6 L489.7,355.1 L490.7,355.7 L491.7,356.2 L492.7,356.8 L493.7,357.3 L494.7,357.8 L495.7,358.2 L496.7,358.7 L497.7,359.1 L498.7,359.6 L499.7,360.0 L500.7,360.5 L501.7,360.9 L502.7,361.4 L503.7,361.9 L504.7,362.4 L505.7,362.9 L506.7,363.4 L507.7,363.9 L508.7,364.5 L509.7,365.0 L510.7,365.6 L511.7,366.2 L512.7,366.8 L513.7,367.4 L514.7,368.0 L515.7,368.5 L516.7,369.1 L517.7,369.7 L518.7,370.2 L519.7,370.7 L520.7,371.3 L521.7,371.8 L522.7,372.2 L523.7,372.7 L524.7,373.1 L525.7,373.5 L526.7,374.0 L527.7,374.4 L528.7,374.8 L529.7,375.2 L530.7,375.6 L531.7,376.0 L532.7,376.3 L533.7,376.7 L534.7,377.1 L535.7,377.4 L536.7,377.7 L537.7,378.1 L538.7,378.4 L539.7,378.7 L540.7,379.0 L541.7,379.3 L542.7,379.6 L543.7,379.9 L544.7,380.2 L545.7,380.4 L546.7,380.7 L547.7,380.9 L548.7,381.2 L549.7,381.4 L550.7,381.6 L551.7,381.9 L552.7,382.1 L553.7,382.3 L554.7,382.6 L555.7,382.8 L556.7,383.0 L557.7,383.3 L558.7,383.5 L559.7,383.7 L560.7,383.9 L561.7,384.2 L562.7,384.4 L563.7,384.6 L564.7,384.8 L565.7,385.0 L566.7,385.3 L567.7,385.5 L568.7,385.7 L569.7,385.9 L570.7,386.1 L571.7,386.3 L572.7,386.5 L573.7,386.7 L574.7,386.9 L575.7,387.1 L576.7,387.3 L577.7,387.5 L578.7,387.7 L579.7,387.9 L580.7,388.1 L581.7,388.2 L582.7,388.4 L583.7,388.6 L584.7,388.8 L585.7,388.9 L586.7,389.1 L587.7,389.3 L588.7,389.4 L589.7,389.6 L590.7,389.8 L591.7,389.9 L592.7,390.1 L593.7,390.3 L594.7,390.4 L595.7,390.6 L596.7,390.8 L597.7,391.0 L598.7,391.2 L599.7,391.3 L600.7,391.5 L601.7,391.7 L602.7,391.9 L603.7,392.0 L604.7,392.2 L605.7,392.4 L606.7,392.6 L607.7,392.8 L608.7,392.9 L609.7,393.1 L610.7,393.3 L611.7,393.5 L612.7,393.7 L613.7,393.9 L614.7,394.1 L615.7,394.3 L616.7,394.5 L617.7,394.7 L618.7,394.9 L619.7,395.1 L620.0,395.2 L623.0,395.7 L626.0,396.1 L629.0,396.5 L632.0,396.9 L635.0,397.2 L638.0,397.5 L641.0,397.8 L644.0,398.1 L647.0,398.3 L650.0,398.5 L653.0,398.7 L656.0,398.8 L659.0,399.0 L662.0,399.1 L665.0,399.3 L668.0,399.4 L671.0,399.5 L674.0,399.6 L677.0,399.7 L680.0,399.8 L683.0,399.9 L686.0,400.0 L689.0,400.1 L692.0,400.2 L695.0,400.3 L698.0,400.4 L701.0,400.5 L704.0,400.6 L707.0,400.7 L710.0,400.8 L713.0,400.9 L716.0,401.0 L719.0,401.1 L722.0,401.2 L725.0,401.3 L728.0,401.4 L731.0,401.5 L734.0,401.5 L737.0,401.6 L740.0,401.7 L743.0,401.8 L746.0,401.9 L749.0,402.0 L752.0,402.1 L755.0,402.2 L758.0,402.3 L761.0,402.4 L764.0,402.5 L767.0,402.6 L770.0,402.7 L773.0,402.8 L776.0,402.9 L779.0,403.0 L782.0,403.1 L785.0,403.2 L788.0,403.3 L791.0,403.4 L794.0,403.5 L797.0,403.6 L800.0,403.7 L803.0,403.8 L806.0,403.9 L809.0,404.0 L812.0,404.0 L815.0,404.1 L818.0,404.2 L821.0,404.2 L824.0,404.2 L827.0,404.3 L830.0,404.3 L833.0,404.3 L836.0,404.3 L839.0,404.4 L842.0,404.4 L845.0,404.4 L848.0,404.4 L851.0,404.4 L854.0,404.4 L857.0,404.5 L860.0,404.5 L863.0,404.5 L866.0,404.5 L869.0,404.5 L872.0,404.5 L875.0,404.5 L878.0,404.6 L881.0,404.6 L884.0,404.6 L887.0,404.6 L890.0,404.6 L893.0,404.6 L896.0,404.6 L899.0,404.6 L902.0,404.7 L905.0,404.7 L908.0,404.7 L911.0,404.7 L914.0,404.7 L917.0,404.7 L920.0,404.7 L923.0,404.7 L926.0,404.8 L929.0,404.8 L932.0,404.8 L935.0,404.8 L938.0,404.8 L941.0,404.8 L944.0,404.8 L947.0,404.8 L950.0,404.8 L953.0,404.8 L956.0,404.8 L959.0,404.8 L962.0,404.9 L965.0,404.9 L968.0,404.9 L971.0,404.9 L974.0,404.9 L977.0,404.9 L980.0,404.9 L983.0,404.9 L986.0,404.9 L989.0,404.9 L992.0,404.9 L995.0,404.9 L998.0,404.9 L1001.0,404.9 L1004.0,404.9 L1007.0,404.9 L1010.0,405.0 L1013.0,405.0 L1016.0,405.0 L1019.0,405.0 L1022.0,405.0 L1025.0,405.0 L1028.0,405.0 L1031.0,405.0 L1034.0,405.0 L1037.0,405.0 L1040.0,405.0 L1043.0,405.0 L1046.0,405.0 L1049.0,405.0 L1052.0,405.0 L1055.0,405.0 L1058.0,405.0 L1061.0,405.0 L1064.0,405.0 L1067.0,405.0 L1070.0,405.0 L1073.0,405.0 L1076.0,405.0" stroke="#5a86e6"/>
</g>
<g stroke="#111" stroke-width="2.2" fill="none">
<path d="M255.7,40.4 V420.6 M239,408.3 H1077.6"/>
<path d="M239,408.3 H255.7"/>
<path d="M239,347.0 H255.7"/>
<path d="M239,285.7 H255.7"/>
<path d="M239,224.5 H255.7"/>
<path d="M239,163.2 H255.7"/>
<path d="M239,101.9 H255.7"/>
<path d="M239,40.6 H255.7"/>
<path d="M420.0,408.3 V420.6"/>
<path d="M584.3,408.3 V420.6"/>
<path d="M748.6,408.3 V420.6"/>
<path d="M912.9,408.3 V420.6"/>
<path d="M1077.2,408.3 V420.6"/>
</g>
<text transform="translate(229.8,419) scale(0.97,1)" font-size="33.5" text-anchor="end">0</text>
<text transform="translate(229.8,358.3) scale(0.97,1)" font-size="33.5" text-anchor="end">0.05</text>
<text transform="translate(229.8,296.6) scale(0.97,1)" font-size="33.5" text-anchor="end">0.10</text>
<text transform="translate(229.8,234.9) scale(0.97,1)" font-size="33.5" text-anchor="end">0.15</text>
<text transform="translate(229.8,173.2) scale(0.97,1)" font-size="33.5" text-anchor="end">0.20</text>
<text transform="translate(229.8,110.5) scale(0.97,1)" font-size="33.5" text-anchor="end">0.25</text>
<text transform="translate(229.8,48.7) scale(0.97,1)" font-size="33.5" text-anchor="end">0.30</text>
<text transform="translate(258.1,457.5) scale(0.97,1)" font-size="33.5" text-anchor="middle">300</text>
<text transform="translate(421.2,457.5) scale(0.97,1)" font-size="33.5" text-anchor="middle">400</text>
<text transform="translate(585.5,457.5) scale(0.97,1)" font-size="33.5" text-anchor="middle">500</text>
<text transform="translate(749,457.5) scale(0.97,1)" font-size="33.5" text-anchor="middle">600</text>
<text transform="translate(912.9,457.5) scale(0.97,1)" font-size="33.5" text-anchor="middle">700</text>
<text transform="translate(1077.2,457.5) scale(0.97,1)" font-size="33.5" text-anchor="middle">800</text>
<text transform="translate(639.7,504.5) scale(0.97,1)" font-size="33.5" text-anchor="middle">Wavelength (nm)</text>
<text transform="translate(139,228.8) rotate(-90) scale(0.97,1)" font-size="33.5" text-anchor="middle">Absorbance</text>
<path d="M504.4,26.8 H509.7 V41 H515.8 L507,61.4 L498.2,41 H504.4 Z" fill="#1a1010"/>
<text transform="translate(1.2,32.6) scale(0.9,1)" font-size="56" font-weight="bold">a</text>
<g stroke="#111" stroke-width="2.2" fill="none">
<path d="M771.7,32.5 V271.3 M760.6,256.6 H1056.8"/>
<path d="M760.6,256.6 H771.7"/>
<path d="M760.6,200.7 H771.7"/>
<path d="M760.6,144.7 H771.7"/>
<path d="M760.6,88.8 H771.7"/>
<path d="M760.6,32.8 H771.7"/>
<path d="M828.6,256.6 V271.3"/>
<path d="M885.5,256.6 V271.3"/>
<path d="M942.3,256.6 V271.3"/>
<path d="M999.2,256.6 V271.3"/>
<path d="M1056.1,256.6 V271.3"/>
</g>
<text transform="translate(757.5,265.6) scale(0.97,1)" font-size="33.5" text-anchor="end">0</text>
<text transform="translate(757.5,209.65) scale(0.97,1)" font-size="33.5" text-anchor="end">5</text>
<text transform="translate(757.5,153.7) scale(0.97,1)" font-size="33.5" text-anchor="end">10</text>
<text transform="translate(757.5,97.75) scale(0.97,1)" font-size="33.5" text-anchor="end">15</text>
<text transform="translate(757.5,41.8) scale(0.97,1)" font-size="33.5" text-anchor="end">20</text>
<text transform="translate(773.7,303.8) scale(0.97,1)" font-size="33.5" text-anchor="middle">0</text>
<text transform="translate(830.58,303.8) scale(0.97,1)" font-size="33.5" text-anchor="middle">5</text>
<text transform="translate(887.46,303.8) scale(0.97,1)" font-size="33.5" text-anchor="middle">10</text>
<text transform="translate(944.34,303.8) scale(0.97,1)" font-size="33.5" text-anchor="middle">15</text>
<text transform="translate(1001.22,303.8) scale(0.97,1)" font-size="33.5" text-anchor="middle">20</text>
<text transform="translate(1058.1,303.8) scale(0.97,1)" font-size="33.5" text-anchor="middle">25</text>
<path d="M771.7,46.3 L987.5,255.5" stroke="#111" stroke-width="2.4" stroke-dasharray="7,5" fill="none"/>
<circle cx="779.5" cy="42.6" r="5.9" fill="#bde6c8" stroke="#111" stroke-width="2.5"/>
<circle cx="802.2" cy="67.5" r="5.9" fill="#bde6c8" stroke="#111" stroke-width="2.5"/>
<circle cx="824" cy="90.9" r="5.9" fill="#bde6c8" stroke="#111" stroke-width="2.5"/>
<circle cx="846.4" cy="112" r="5.9" fill="#bde6c8" stroke="#111" stroke-width="2.5"/>
<circle cx="868.2" cy="138.1" r="5.9" fill="#bde6c8" stroke="#111" stroke-width="2.5"/>
<circle cx="890.9" cy="163" r="5.9" fill="#bde6c8" stroke="#111" stroke-width="2.5"/>
<circle cx="914.2" cy="184.2" r="5.9" fill="#bde6c8" stroke="#111" stroke-width="2.5"/>
<circle cx="935.4" cy="202.2" r="5.9" fill="#bde6c8" stroke="#111" stroke-width="2.5"/>
<circle cx="958.1" cy="215.3" r="5.9" fill="#bde6c8" stroke="#111" stroke-width="2.5"/>
<circle cx="979.9" cy="221.5" r="5.9" fill="#bde6c8" stroke="#111" stroke-width="2.5"/>
<circle cx="999.8" cy="223.4" r="5.9" fill="#bde6c8" stroke="#111" stroke-width="2.5"/>
<circle cx="1028.7" cy="224" r="5.9" fill="#bde6c8" stroke="#111" stroke-width="2.5"/>
<circle cx="1056.7" cy="224" r="5.9" fill="#bde6c8" stroke="#111" stroke-width="2.5"/>
<text transform="translate(811,352) scale(0.987,1)" font-size="33.5">CH<tspan font-size="27.5" dy="4">3</tspan><tspan dy="-4">-THF (nmol)</tspan></text>
<text transform="translate(702,168) rotate(-90) scale(0.97,1)" font-size="33.5" text-anchor="middle">S6MTHFR (nmol FAD)</text>
<text transform="translate(884.5,79.3) scale(0.97,1)" font-size="33.5"><tspan font-style="italic">y</tspan> = -0.995<tspan font-style="italic">x</tspan> + 18.9</text>
<text transform="translate(882,122.7) scale(0.97,1)" font-size="33.5">R<tspan font-size="27.5" dy="-13.1">2</tspan><tspan dy="13.1"> = 0.9951</tspan></text>
<text transform="translate(2.5,590.5) scale(1.03,1)" font-size="53.5" font-weight="bold">b</text>
<g stroke="#111" stroke-width="2.1" fill="none">
<path d="M150.8,607.5 V803.8"/>
<path d="M134,607.5 H150.8 M134,697.6 H150.8 M134,787.8 H706.5"/>
<path d="M250.4,787.8 V803.8"/>
<path d="M336.6,787.8 V803.8"/>
<path d="M429.9,787.8 V803.8"/>
<path d="M522.0,787.8 V803.8"/>
<path d="M616.2,787.8 V803.8"/>
<path d="M705.0,787.8 V803.8"/>
<path d="M150.8,839.5 V1036.2"/>
<path d="M134,839.5 H150.8 M134,929.6 H150.8 M134,1020.2 H706.5"/>
<path d="M250.4,1020.2 V1036.2"/>
<path d="M336.6,1020.2 V1036.2"/>
<path d="M429.9,1020.2 V1036.2"/>
<path d="M522.0,1020.2 V1036.2"/>
<path d="M616.2,1020.2 V1036.2"/>
<path d="M705.0,1020.2 V1036.2"/>
<path d="M150.8,1070.7 V1267.8"/>
<path d="M134,1070.7 H150.8 M134,1161.3 H150.8 M134,1251.8 H706.5"/>
<path d="M250.4,1251.8 V1267.8"/>
<path d="M336.6,1251.8 V1267.8"/>
<path d="M429.9,1251.8 V1267.8"/>
<path d="M522.0,1251.8 V1267.8"/>
<path d="M616.2,1251.8 V1267.8"/>
<path d="M705.0,1251.8 V1267.8"/>
</g>
<text transform="translate(124.2,619.3) scale(0.97,1)" font-size="33.5" text-anchor="end">0.10</text>
<text transform="translate(124.2,707.6) scale(0.97,1)" font-size="33.5" text-anchor="end">0.05</text>
<text transform="translate(124.2,795.6) scale(0.97,1)" font-size="33.5" text-anchor="end">0</text>
<text transform="translate(124.2,852.2) scale(0.97,1)" font-size="33.5" text-anchor="end">0.10</text>
<text transform="translate(124.2,941) scale(0.97,1)" font-size="33.5" text-anchor="end">0.05</text>
<text transform="translate(124.2,1029.7) scale(0.97,1)" font-size="33.5" text-anchor="end">0</text>
<text transform="translate(124.2,1087) scale(0.97,1)" font-size="33.5" text-anchor="end">0.10</text>
<text transform="translate(124.2,1176.1) scale(0.97,1)" font-size="33.5" text-anchor="end">0.05</text>
<text transform="translate(124.2,1264.1) scale(0.97,1)" font-size="33.5" text-anchor="end">0</text>
<text transform="translate(151,1299.2) scale(0.97,1)" font-size="33.5" text-anchor="middle">0</text>
<text transform="translate(248.5,1299.2) scale(0.97,1)" font-size="33.5" text-anchor="middle">0.5</text>
<text transform="translate(337,1299.2) scale(0.97,1)" font-size="33.5" text-anchor="middle">1.0</text>
<text transform="translate(429,1299.2) scale(0.97,1)" font-size="33.5" text-anchor="middle">1.5</text>
<text transform="translate(520.8,1299.2) scale(0.97,1)" font-size="33.5" text-anchor="middle">2.0</text>
<text transform="translate(613.2,1299.2) scale(0.97,1)" font-size="33.5" text-anchor="middle">2.5</text>
<text transform="translate(705.6,1299.2) scale(0.97,1)" font-size="33.5" text-anchor="middle">3.0</text>
<text transform="translate(435.5,1343.1) scale(0.982,1)" font-size="33.5" text-anchor="middle">Retention time (min)</text>
<text transform="translate(41.5,955.8) rotate(-90) scale(0.97,1)" font-size="33.5" text-anchor="middle">Absorbance (290 nm)</text>
<text transform="translate(168.5,617.5) scale(0.97,1)" font-size="33.5">at start</text>
<text transform="translate(168.5,846) scale(0.97,1)" font-size="33.5">2 min</text>
<text transform="translate(169,1079.5) scale(0.97,1)" font-size="33.5">5 min</text>
<path d="M404,787.0 L404.0,785.71 L404.5,785.13 L405.0,784.34 L405.5,783.27 L406.0,781.84 L406.5,779.98 L407.0,777.60 L407.5,774.61 L408.0,770.91 L408.5,766.44 L409.0,761.13 L409.5,754.96 L410.0,747.92 L410.5,740.09 L411.0,731.55 L411.5,722.47 L412.0,713.08 L412.5,703.63 L413.0,694.43 L413.5,685.80 L414.0,678.09 L414.5,671.61 L415.0,666.64 L415.5,663.40 L416.0,662.04 L416.5,662.25 L417.0,663.26 L417.5,665.08 L418.0,667.71 L418.5,671.10 L419.0,675.23 L419.5,680.02 L420.0,685.38 L420.5,691.21 L421.0,697.41 L421.5,703.85 L422.0,710.43 L422.5,717.03 L423.0,723.54 L423.5,729.88 L424.0,735.96 L424.5,741.72 L425.0,747.11 L425.5,752.09 L426.0,756.64 L426.5,760.76 L427.0,764.44 L427.5,767.71 L428.0,770.58 L428.5,773.07 L429.0,775.22 L429.5,777.06 L430.0,778.62 L430.5,779.94 L431.0,781.04 L431.5,781.96 L432.0,782.73 L432.5,783.35 L433.0,783.87 L433.5,784.29 L434.0,784.64 L434.5,784.93 L435.0,785.17 L435.5,785.36 L436.0,785.53 L436.5,785.66 L437.0,785.78 L437.5,785.88 L438.0,785.97 L438.5,786.05 L439.0,786.11 L439.5,786.17 L440.0,786.23 L440.5,786.28 L441.0,786.33 L441.5,786.37 L442.0,786.41 L442.5,786.44 L443.0,786.48 L443.5,786.51 L444.0,786.54 L444.5,786.57 L445.0,786.60 L445,787.0 Z" fill="#b2e2c2" stroke="none"/>
<path d="M151.0,787.00 L357.0,786.81 L357.5,786.76 L358.0,786.70 L358.5,786.61 L359.0,786.51 L359.5,786.38 L360.0,786.23 L360.5,786.05 L361.0,785.84 L361.5,785.59 L362.0,785.31 L362.5,784.99 L363.0,784.63 L363.5,784.23 L364.0,783.80 L364.5,783.34 L365.0,782.86 L365.5,782.35 L366.0,781.84 L366.5,781.33 L367.0,780.82 L367.5,780.34 L368.0,779.90 L368.5,779.50 L369.0,779.15 L369.5,778.87 L370.0,778.67 L370.5,778.54 L371.5,778.53 L372.0,778.62 L372.5,778.76 L373.0,778.96 L373.5,779.21 L374.0,779.50 L374.5,779.83 L375.0,780.19 L375.5,780.58 L376.0,780.99 L376.5,781.42 L377.0,781.84 L377.5,782.27 L378.0,782.70 L378.5,783.11 L379.0,783.51 L379.5,783.88 L380.0,784.24 L380.5,784.57 L381.0,784.88 L381.5,785.16 L382.0,785.42 L382.5,785.65 L383.0,785.85 L383.5,786.03 L384.0,786.19 L384.5,786.32 L385.0,786.44 L385.5,786.54 L386.0,786.63 L386.5,786.70 L387.0,786.76 L401.0,786.90 L401.5,786.84 L402.0,786.75 L402.5,786.61 L403.0,786.41 L403.5,786.12 L404.0,785.71 L404.5,785.13 L405.0,784.34 L405.5,783.27 L406.0,781.84 L406.5,779.98 L407.0,777.60 L407.5,774.61 L408.0,770.91 L408.5,766.44 L409.0,761.13 L409.5,754.96 L410.0,747.92 L410.5,740.09 L411.0,731.55 L411.5,722.47 L412.0,713.08 L412.5,703.63 L413.0,694.43 L413.5,685.80 L414.0,678.09 L414.5,671.61 L415.0,666.64 L415.5,663.40 L416.0,662.04 L416.5,662.25 L417.0,663.26 L417.5,665.08 L418.0,667.71 L418.5,671.10 L419.0,675.23 L419.5,680.02 L420.0,685.38 L420.5,691.21 L421.0,697.41 L421.5,703.85 L422.0,710.43 L422.5,717.03 L423.0,723.54 L423.5,729.88 L424.0,735.96 L424.5,741.72 L425.0,747.11 L425.5,752.09 L426.0,756.64 L426.5,760.76 L427.0,764.44 L427.5,767.71 L428.0,770.58 L428.5,773.07 L429.0,775.22 L429.5,777.06 L430.0,778.62 L430.5,779.94 L431.0,781.04 L431.5,781.96 L432.0,782.73 L432.5,783.35 L433.0,783.87 L433.5,784.29 L434.0,784.64 L434.5,784.93 L435.0,785.17 L435.5,785.36 L436.0,785.53 L436.5,785.66 L437.0,785.78 L437.5,785.88 L438.0,785.97 L438.5,786.05 L439.0,786.11 L439.5,786.17 L440.0,786.23 L440.5,786.28 L509.5,786.96 L510.0,786.91 L510.5,786.80 L511.0,786.61 L511.5,786.27 L512.0,785.76 L512.5,785.05 L513.0,784.16 L513.5,783.16 L514.0,782.20 L514.5,781.44 L515.0,781.04 L515.5,781.06 L516.0,781.38 L516.5,781.96 L517.0,782.70 L517.5,783.51 L518.0,784.29 L518.5,784.97 L519.0,785.50 L519.5,785.83 L520.0,785.95 L520.5,785.86 L521.0,785.56 L521.5,785.09 L522.0,784.49 L522.5,783.84 L523.0,783.23 L523.5,782.76 L524.0,782.52 L524.5,782.53 L525.0,782.72 L525.5,783.06 L526.0,783.52 L526.5,784.04 L527.0,784.57 L527.5,785.06 L528.0,785.49 L528.5,785.81 L529.0,786.03 L529.5,786.12 L530.0,786.10 L530.5,785.96 L531.0,785.72 L531.5,785.39 L532.0,785.01 L532.5,784.61 L533.0,784.21 L533.5,783.88 L534.0,783.63 L534.5,783.51 L535.0,783.52 L535.5,783.62 L536.0,783.81 L536.5,784.08 L537.0,784.39 L537.5,784.74 L538.0,785.09 L538.5,785.43 L539.0,785.75 L539.5,786.03 L540.0,786.26 L540.5,786.46 L541.0,786.61 L541.5,786.73 L542.0,786.82 L542.5,786.88 L705.0,787.00" stroke="#111" stroke-width="3.3" fill="none" stroke-linejoin="round"/>
<path d="M530,1019.3 L530.0,1019.30 L530.5,1019.30 L531.0,1019.30 L531.5,1019.29 L532.0,1019.26 L532.5,1019.13 L533.0,1018.71 L533.5,1017.51 L534.0,1014.63 L534.5,1008.76 L535.0,1005.30 L535.5,1005.30 L536.0,1005.30 L536.5,1005.30 L537.0,1005.30 L537.5,1005.30 L538.0,1005.30 L538.5,1005.30 L539.0,1005.30 L539.5,1005.30 L540.0,1005.30 L540.5,1009.22 L541.0,1012.75 L541.5,1014.75 L542.0,1015.83 L542.5,1016.44 L543.0,1016.82 L543.5,1017.09 L544.0,1017.31 L544.5,1017.50 L545.0,1017.68 L545.5,1017.83 L546.0,1017.97 L546.5,1018.10 L547.0,1018.21 L547.5,1018.32 L548.0,1018.41 L548,1019.3 Z" fill="#cdbde8" stroke="none"/>
<path d="M151.0,1019.30 L230.5,1019.24 L231.0,1019.19 L231.5,1019.10 L232.0,1018.96 L232.5,1018.76 L233.0,1018.49 L233.5,1018.16 L234.0,1017.78 L234.5,1017.41 L235.0,1017.09 L235.5,1016.87 L236.0,1016.79 L236.5,1016.84 L237.0,1016.98 L237.5,1017.11 L238.0,1017.05 L238.5,1016.57 L239.0,1015.38 L239.5,1013.22 L240.0,1010.02 L240.5,1006.02 L241.0,1001.83 L241.5,998.34 L242.0,996.45 L242.5,996.45 L243.0,997.47 L243.5,999.36 L244.0,1001.90 L244.5,1004.82 L245.0,1007.80 L245.5,1010.56 L246.0,1012.90 L246.5,1014.75 L247.0,1016.12 L247.5,1017.08 L248.0,1017.72 L248.5,1018.14 L249.0,1018.40 L249.5,1018.57 L250.0,1018.68 L250.5,1018.76 L251.0,1018.82 L338.5,1019.22 L339.0,1019.16 L339.5,1019.06 L340.0,1018.91 L340.5,1018.69 L341.0,1018.37 L341.5,1017.92 L342.0,1017.30 L342.5,1016.48 L343.0,1015.44 L343.5,1014.16 L344.0,1012.65 L344.5,1010.92 L345.0,1009.04 L345.5,1007.08 L346.0,1005.14 L346.5,1003.34 L347.0,1001.81 L347.5,1000.66 L348.0,999.97 L348.5,999.80 L349.0,999.97 L349.5,1000.39 L350.0,1001.07 L350.5,1001.98 L351.0,1003.09 L351.5,1004.37 L352.0,1005.76 L352.5,1007.22 L353.0,1008.69 L353.5,1010.12 L354.0,1011.48 L354.5,1012.74 L355.0,1013.87 L355.5,1014.86 L356.0,1015.72 L356.5,1016.44 L357.0,1017.04 L357.5,1017.51 L358.0,1017.87 L358.5,1018.15 L359.0,1018.33 L359.5,1018.45 L360.5,1018.49 L361.0,1018.43 L361.5,1018.32 L362.0,1018.16 L362.5,1017.95 L363.0,1017.70 L363.5,1017.41 L364.0,1017.07 L364.5,1016.70 L365.0,1016.30 L365.5,1015.87 L366.0,1015.42 L366.5,1014.97 L367.0,1014.52 L367.5,1014.08 L368.0,1013.68 L368.5,1013.32 L369.0,1013.01 L369.5,1012.77 L370.0,1012.60 L370.5,1012.51 L371.0,1012.50 L371.5,1012.55 L372.0,1012.65 L372.5,1012.81 L373.0,1013.02 L373.5,1013.27 L374.0,1013.55 L374.5,1013.87 L375.0,1014.22 L375.5,1014.58 L376.0,1014.95 L376.5,1015.32 L377.0,1015.70 L377.5,1016.06 L378.0,1016.41 L378.5,1016.75 L379.0,1017.06 L379.5,1017.35 L380.0,1017.62 L380.5,1017.86 L381.0,1018.08 L381.5,1018.27 L382.0,1018.44 L382.5,1018.59 L383.0,1018.72 L383.5,1018.83 L384.0,1018.92 L384.5,1018.99 L385.0,1019.06 L385.5,1019.11 L403.5,1019.18 L404.0,1019.11 L404.5,1019.00 L405.0,1018.85 L405.5,1018.63 L406.0,1018.31 L406.5,1017.88 L407.0,1017.29 L407.5,1016.50 L408.0,1015.47 L408.5,1014.15 L409.0,1012.49 L409.5,1010.45 L410.0,1008.01 L410.5,1005.13 L411.0,1001.83 L411.5,998.13 L412.0,994.08 L412.5,989.78 L413.0,985.33 L413.5,980.89 L414.0,976.61 L414.5,972.67 L415.0,969.24 L415.5,966.48 L416.0,964.53 L416.5,963.47 L417.0,963.33 L417.5,963.66 L418.0,964.36 L418.5,965.45 L419.0,966.92 L419.5,968.74 L420.0,970.89 L420.5,973.32 L421.0,975.99 L421.5,978.84 L422.0,981.81 L422.5,984.86 L423.0,987.91 L423.5,990.93 L424.0,993.87 L424.5,996.68 L425.0,999.34 L425.5,1001.83 L426.0,1004.11 L426.5,1006.20 L427.0,1008.08 L427.5,1009.76 L428.0,1011.23 L428.5,1012.53 L429.0,1013.64 L429.5,1014.60 L430.0,1015.41 L430.5,1016.10 L431.0,1016.67 L431.5,1017.15 L432.0,1017.54 L432.5,1017.86 L433.0,1018.12 L433.5,1018.33 L434.0,1018.50 L434.5,1018.63 L435.0,1018.74 L435.5,1018.83 L436.0,1018.90 L436.5,1018.96 L510.5,1019.21 L511.0,1019.11 L511.5,1018.95 L512.0,1018.69 L512.5,1018.31 L513.0,1017.77 L513.5,1017.09 L514.0,1016.30 L514.5,1015.47 L515.0,1014.71 L515.5,1014.13 L516.0,1013.83 L516.5,1013.84 L517.0,1014.07 L517.5,1014.50 L518.0,1015.06 L518.5,1015.70 L519.0,1016.36 L519.5,1017.00 L520.0,1017.57 L520.5,1018.05 L521.0,1018.43 L521.5,1018.72 L522.0,1018.93 L522.5,1019.07 L523.0,1019.16 L523.5,1019.22 L532.0,1019.26 L532.5,1019.13 L533.0,1018.71 L533.5,1017.51 L534.0,1014.63 L534.5,1008.76 L535.0,998.78 L535.5,984.87 L536.0,969.46 L536.5,957.08 L537.0,952.30 L537.5,954.82 L538.0,962.06 L538.5,972.64 L539.0,984.37 L539.5,995.08 L540.0,1003.47 L540.5,1009.22 L541.0,1012.75 L541.5,1014.75 L542.0,1015.83 L542.5,1016.44 L543.0,1016.82 L543.5,1017.09 L544.0,1017.31 L544.5,1017.50 L545.0,1017.68 L545.5,1017.83 L546.0,1017.97 L546.5,1018.10 L547.0,1018.21 L547.5,1018.32 L548.0,1018.41 L548.5,1018.49 L549.0,1018.57 L549.5,1018.64 L550.0,1018.70 L550.5,1018.76 L551.0,1018.81 L705.0,1019.30" stroke="#111" stroke-width="3.3" fill="none" stroke-linejoin="round"/>
<path d="M529,1251.0 L529.0,1251.00 L529.5,1251.00 L530.0,1251.00 L530.5,1251.00 L531.0,1251.00 L531.5,1250.97 L532.0,1250.86 L532.5,1250.38 L533.0,1248.73 L533.5,1243.97 L534.0,1232.73 L534.5,1229.00 L535.0,1229.00 L535.5,1229.00 L536.0,1229.00 L536.5,1229.00 L537.0,1229.00 L537.5,1229.00 L538.0,1229.00 L538.5,1229.00 L539.0,1229.00 L539.5,1229.00 L540.0,1229.82 L540.5,1236.58 L541.0,1240.15 L541.5,1242.04 L542.0,1243.13 L542.5,1243.88 L543.0,1244.49 L543.5,1245.02 L544.0,1245.50 L544.5,1245.94 L545.0,1246.34 L545.5,1246.72 L546.0,1247.06 L546.5,1247.37 L547.0,1247.66 L547.5,1247.93 L548.0,1248.18 L548.5,1248.40 L549.0,1248.61 L549.5,1248.80 L550.0,1248.98 L550,1251.0 Z" fill="#cdbde8" stroke="none"/>
<path d="M151.0,1251.00 L230.5,1250.94 L231.0,1250.89 L231.5,1250.80 L232.0,1250.66 L232.5,1250.46 L233.0,1250.19 L233.5,1249.86 L234.0,1249.48 L234.5,1249.11 L235.0,1248.79 L235.5,1248.58 L236.0,1248.50 L236.5,1248.58 L237.0,1248.79 L237.5,1249.10 L238.0,1249.44 L238.5,1249.72 L239.0,1249.79 L239.5,1249.43 L240.0,1248.30 L240.5,1245.93 L241.0,1241.91 L241.5,1236.14 L242.0,1229.14 L242.5,1222.16 L243.0,1216.94 L243.5,1215.00 L244.0,1215.87 L244.5,1218.45 L245.0,1222.45 L245.5,1227.33 L246.0,1232.45 L246.5,1237.19 L247.0,1241.17 L247.5,1244.22 L248.0,1246.39 L248.5,1247.83 L249.0,1248.74 L249.5,1249.30 L250.0,1249.64 L250.5,1249.86 L251.0,1250.00 L251.5,1250.12 L252.0,1250.21 L252.5,1250.28 L253.0,1250.35 L253.5,1250.42 L254.0,1250.47 L254.5,1250.52 L338.5,1250.93 L339.0,1250.87 L339.5,1250.78 L340.0,1250.63 L340.5,1250.40 L341.0,1250.06 L341.5,1249.57 L342.0,1248.87 L342.5,1247.92 L343.0,1246.66 L343.5,1245.06 L344.0,1243.10 L344.5,1240.77 L345.0,1238.11 L345.5,1235.22 L346.0,1232.20 L346.5,1229.22 L347.0,1226.45 L347.5,1224.10 L348.0,1222.32 L348.5,1221.27 L349.0,1221.01 L349.5,1221.27 L350.0,1221.91 L350.5,1222.95 L351.0,1224.35 L351.5,1226.06 L352.0,1228.03 L352.5,1230.17 L353.0,1232.41 L353.5,1234.66 L354.0,1236.85 L354.5,1238.93 L355.0,1240.85 L355.5,1242.57 L356.0,1244.08 L356.5,1245.37 L357.0,1246.43 L357.5,1247.28 L358.0,1247.93 L358.5,1248.40 L359.0,1248.70 L359.5,1248.85 L360.0,1248.86 L360.5,1248.75 L361.0,1248.51 L361.5,1248.16 L362.0,1247.72 L362.5,1247.17 L363.0,1246.54 L363.5,1245.84 L364.0,1245.06 L364.5,1244.24 L365.0,1243.39 L365.5,1242.53 L366.0,1241.68 L366.5,1240.86 L367.0,1240.10 L367.5,1239.43 L368.0,1238.86 L368.5,1238.43 L369.0,1238.13 L369.5,1237.99 L370.0,1238.00 L370.5,1238.12 L371.0,1238.34 L371.5,1238.67 L372.0,1239.08 L372.5,1239.57 L373.0,1240.13 L373.5,1240.75 L374.0,1241.42 L374.5,1242.11 L375.0,1242.82 L375.5,1243.54 L376.0,1244.25 L376.5,1244.94 L377.0,1245.61 L377.5,1246.24 L378.0,1246.83 L378.5,1247.38 L379.0,1247.89 L379.5,1248.34 L380.0,1248.75 L380.5,1249.11 L381.0,1249.42 L381.5,1249.70 L382.0,1249.93 L382.5,1250.13 L383.0,1250.30 L383.5,1250.44 L384.0,1250.56 L384.5,1250.65 L385.0,1250.73 L385.5,1250.79 L510.5,1250.94 L511.0,1250.87 L511.5,1250.75 L512.0,1250.54 L512.5,1250.21 L513.0,1249.71 L513.5,1249.04 L514.0,1248.21 L514.5,1247.25 L515.0,1246.28 L515.5,1245.41 L516.0,1244.79 L516.5,1244.51 L517.0,1244.58 L517.5,1244.91 L518.0,1245.44 L518.5,1246.13 L519.0,1246.90 L519.5,1247.68 L520.0,1248.42 L520.5,1249.07 L521.0,1249.62 L521.5,1250.05 L522.0,1250.37 L522.5,1250.60 L523.0,1250.75 L523.5,1250.86 L524.0,1250.92 L531.5,1250.97 L532.0,1250.86 L532.5,1250.38 L533.0,1248.73 L533.5,1243.97 L534.0,1232.73 L534.5,1211.10 L535.0,1177.75 L535.5,1137.94 L536.0,1104.30 L536.5,1091.00 L537.0,1097.79 L537.5,1117.05 L538.0,1144.50 L538.5,1173.79 L539.0,1199.23 L539.5,1217.91 L540.0,1229.82 L540.5,1236.58 L541.0,1240.15 L541.5,1242.04 L542.0,1243.13 L542.5,1243.88 L543.0,1244.49 L543.5,1245.02 L544.0,1245.50 L544.5,1245.94 L545.0,1246.34 L545.5,1246.72 L546.0,1247.06 L546.5,1247.37 L547.0,1247.66 L547.5,1247.93 L548.0,1248.18 L548.5,1248.40 L549.0,1248.61 L549.5,1248.80 L550.0,1248.98 L550.5,1249.14 L551.0,1249.29 L551.5,1249.42 L552.0,1249.55 L552.5,1249.67 L553.0,1249.77 L553.5,1249.87 L554.0,1249.96 L554.5,1250.04 L555.0,1250.12 L555.5,1250.19 L556.0,1250.26 L556.5,1250.32 L557.0,1250.37 L557.5,1250.42 L705.0,1251.00" stroke="#111" stroke-width="3.3" fill="none" stroke-linejoin="round"/>
<text transform="translate(348.2,598.8) scale(0.97,1)" font-size="33.5">CH<tspan font-size="27.5" dy="4">3</tspan><tspan dy="-4">-THF</tspan></text>
<path d="M414.4,606.4 H417.8 V638.2 H424.4 L416.1,657.8 L408.1,638.2 H414.4 Z" fill="#1a1010"/>
<text transform="translate(470.6,884.1) scale(0.97,1)" font-size="33.5">CH<tspan font-size="27.5" dy="4">2</tspan><tspan dy="-4">-THF</tspan></text>
<path d="M536.3,895.6 H539.7 V927.4 H546.7 L538,946.7 L529.7,927.4 H536.3 Z" fill="#1a1010"/>
<text transform="translate(760.3,590.8) scale(1.06,1)" font-size="56" font-weight="bold">c</text>
<g stroke="#111" stroke-width="2.1" fill="none">
<path d="M926.2,614.2 V876.8"/>
<path d="M910.2,614.2 H926.2"/>
<path d="M910.2,696.0 H926.2"/>
<path d="M910.2,778.0 H926.2"/>
<path d="M910.2,861.0 H926.2"/>
<path d="M910.2,861.0 H1318.6"/>
<path d="M1024.0,861.0 V876.8"/>
<path d="M1121.3,861.0 V876.8"/>
<path d="M1219.0,861.0 V876.8"/>
<path d="M1317.7,861.0 V876.8"/>
</g>
<text transform="translate(900.2,625) scale(0.97,1)" font-size="33.5" text-anchor="end">6.0</text>
<text transform="translate(900.2,706.5) scale(0.97,1)" font-size="33.5" text-anchor="end">4.0</text>
<text transform="translate(900.2,788.3) scale(0.97,1)" font-size="33.5" text-anchor="end">2.0</text>
<text transform="translate(900.2,869.5) scale(0.97,1)" font-size="33.5" text-anchor="end">0</text>
<text transform="translate(932.6,907) scale(0.97,1)" font-size="33.5" text-anchor="middle">200</text>
<text transform="translate(1029,907) scale(0.97,1)" font-size="33.5" text-anchor="middle">300</text>
<text transform="translate(1125.5,907) scale(0.97,1)" font-size="33.5" text-anchor="middle">400</text>
<text transform="translate(1222.5,907) scale(0.97,1)" font-size="33.5" text-anchor="middle">500</text>
<text transform="translate(1318.8,907) scale(0.97,1)" font-size="33.5" text-anchor="middle">600</text>
<text transform="translate(1123.3,943.3) scale(0.97,1)" font-size="33.5" text-anchor="middle" font-style="italic">m/z</text>
<text transform="translate(828,729.9) rotate(-90) scale(0.97,1)" font-size="33.5" text-anchor="middle">Intensity (x10<tspan font-size="27" dy="-7.5">6</tspan><tspan dy="7.5">)</tspan></text>
<path d="M927.0,860.5 V859.2M929.3,860.5 V857.5M931.5,860.5 V855.1M933.5,860.5 V857.2M934.8,860.5 V858.3M936.7,860.5 V856.4M939.0,860.5 V857.8M940.3,860.5 V858.2M942.8,860.5 V858.5M944.6,860.5 V855.3M945.8,860.5 V856.8M948.3,860.5 V858.5M950.3,860.5 V855.4M951.7,860.5 V857.1M954.0,860.5 V856.5M955.8,860.5 V858.6M957.7,860.5 V857.8M959.6,860.5 V857.9M961.9,860.5 V856.0M963.6,860.5 V856.9M965.2,860.5 V857.5M966.9,860.5 V856.5M968.6,860.5 V857.4M970.8,860.5 V857.6M973.3,860.5 V858.7M975.5,860.5 V857.6M977.3,860.5 V856.6M979.2,860.5 V857.6M980.4,860.5 V859.1M982.6,860.5 V857.1M984.8,860.5 V855.2M986.9,860.5 V859.3M988.6,860.5 V856.8M990.1,860.5 V855.2M992.6,860.5 V855.7M994.5,860.5 V855.7M995.9,860.5 V858.1M997.7,860.5 V856.2M999.6,860.5 V858.9M1001.3,860.5 V859.2M1002.9,860.5 V859.6M1004.7,860.5 V858.9M1007.0,860.5 V858.0M1008.9,860.5 V858.8M1011.2,860.5 V857.8M1013.3,860.5 V858.0M1015.8,860.5 V859.9M1018.3,860.5 V859.3M1020.1,860.5 V858.0M1022.3,860.5 V859.6M1024.5,860.5 V859.8M1026.2,860.5 V858.0M1028.0,860.5 V858.5M1030.2,860.5 V857.9M1032.5,860.5 V860.0M1034.2,860.5 V858.8M1035.5,860.5 V858.6M1037.6,860.5 V857.9M1040.1,860.5 V859.7M1041.6,860.5 V858.4M1043.0,860.5 V859.4M1045.0,860.5 V859.6M1047.3,860.5 V857.9M1048.5,860.5 V858.7M1050.9,860.5 V857.6M1052.4,860.5 V859.6M1054.9,860.5 V857.7M1056.3,860.5 V858.9M1058.6,860.5 V857.9M1060.0,860.5 V858.3M1062.3,860.5 V858.6M1063.7,860.5 V859.9M1065.3,860.5 V858.0M1066.6,860.5 V860.0M1068.3,860.5 V859.8M1069.7,860.5 V859.9M1071.7,860.5 V858.3M1073.5,860.5 V859.7M1075.1,860.5 V858.5M1077.6,860.5 V857.5M1079.2,860.5 V860.0M1081.5,860.5 V857.7M1083.4,860.5 V858.1M1085.8,860.5 V858.5M1088.2,860.5 V859.9M1089.8,860.5 V859.3M1091.2,860.5 V857.7M1092.4,860.5 V858.3M1093.7,860.5 V859.1M1095.5,860.5 V859.5M1097.4,860.5 V858.7M1099.1,860.5 V858.2M1100.5,860.5 V859.5M1102.2,860.5 V859.1M1103.7,860.5 V857.7M1106.0,860.5 V859.7M1107.7,860.5 V859.4M1109.6,860.5 V859.3M1111.5,860.5 V857.7M1113.2,860.5 V858.4M1115.3,860.5 V858.1M1116.5,860.5 V858.1M1119.1,860.5 V858.5M1120.7,860.5 V858.9M1122.9,860.5 V859.0M1124.3,860.5 V858.4M1126.8,860.5 V859.4M1128.8,860.5 V860.1M1131.4,860.5 V858.6M1133.5,860.5 V858.8M1135.0,860.5 V859.6M1136.5,860.5 V859.1M1137.8,860.5 V858.5M1139.7,860.5 V859.4M1141.0,860.5 V858.9M1143.4,860.5 V859.0M1144.9,860.5 V858.7M1146.3,860.5 V858.6M1148.3,860.5 V859.7M1150.3,860.5 V859.0M1151.8,860.5 V858.6M1153.6,860.5 V858.5M1156.0,860.5 V860.0M1158.1,860.5 V859.6M1160.3,860.5 V859.2M1162.2,860.5 V858.5M1163.5,860.5 V859.1M1165.1,860.5 V860.1M1167.4,860.5 V859.1M1169.8,860.5 V859.1M1171.5,860.5 V858.3M1172.9,860.5 V860.1M1175.1,860.5 V859.5M1176.8,860.5 V858.5M1178.5,860.5 V858.5M1180.6,860.5 V859.6M1181.8,860.5 V859.7M1184.4,860.5 V859.4M1185.8,860.5 V859.6M1188.3,860.5 V859.9M1190.6,860.5 V859.9M1193.1,860.5 V859.2M1194.4,860.5 V858.4M1196.1,860.5 V858.8M1198.0,860.5 V860.0M1199.4,860.5 V859.9M1200.8,860.5 V860.1M1202.0,860.5 V858.4M1203.4,860.5 V859.2M1204.7,860.5 V859.8M1207.0,860.5 V858.4M1208.9,860.5 V860.2M1211.5,860.5 V860.1M1213.2,860.5 V859.2M1215.7,860.5 V858.6M1217.7,860.5 V859.4M1220.1,860.5 V858.5M1222.5,860.5 V858.8M1223.8,860.5 V859.6M1225.7,860.5 V859.2M1228.1,860.5 V859.7M1230.2,860.5 V859.5M1232.5,860.5 V859.8M1234.4,860.5 V860.0M1235.9,860.5 V858.4M1237.5,860.5 V858.5M1239.4,860.5 V860.1M1241.8,860.5 V860.1M1244.1,860.5 V860.2M1246.3,860.5 V859.9M1247.9,860.5 V858.4M1249.8,860.5 V859.0M1252.1,860.5 V860.0M1254.4,860.5 V858.5M1255.8,860.5 V859.2M1257.4,860.5 V858.8M1258.7,860.5 V859.2M1261.0,860.5 V858.8M1262.3,860.5 V858.6M1263.9,860.5 V858.7M1265.8,860.5 V859.9M1268.0,860.5 V858.7M1270.2,860.5 V858.4M1271.7,860.5 V859.8M1273.1,860.5 V859.2M1274.9,860.5 V859.5M1276.7,860.5 V859.7M1277.9,860.5 V859.3M1279.5,860.5 V859.3M1282.0,860.5 V859.9M1284.1,860.5 V859.0M1285.7,860.5 V859.3M1288.3,860.5 V859.5M1290.5,860.5 V858.6M1292.2,860.5 V858.3M1294.3,860.5 V859.2M1296.5,860.5 V859.4M1298.7,860.5 V859.7" stroke="#111" stroke-width="1.2" fill="none"/>
<path d="M1038.7,860.5 V700.9 M1039.8,860.5 V836 M1180.7,860.5 V641.7 M1182.0,860.5 V811 M1037.5,860.5 V852 M1179.5,860.5 V850 M1050,860.5 V853 M960,860.5 V853" stroke="#111" stroke-width="2" fill="none"/>
<text transform="translate(1047.7,690.3) scale(0.97,1)" font-size="33.5" text-anchor="middle">313.1</text>
<text transform="translate(1179.6,630.4) scale(0.97,1)" font-size="33.5" text-anchor="middle">460.2</text>
<text transform="translate(1183.2,590) scale(0.97,1)" font-size="33.5">CH<tspan font-size="27.5" dy="4">3</tspan><tspan dy="-4">-THF</tspan></text>
<path d="M1244.4,601.5 L1233,613.5" stroke="#1a1010" stroke-width="3.6" fill="none"/>
<path d="M1222.8,624.3 L1229.9,605.4 L1241.8,616 Z" fill="#1a1010"/>
<text transform="translate(760.6,979.4) scale(1.05,1)" font-size="53.5" font-weight="bold">d</text>
<g stroke="#111" stroke-width="2.1" fill="none">
<path d="M926.2,1012.8 V1276.2"/>
<path d="M907.3,1012.8 H926.2"/>
<path d="M907.3,1074.5 H926.2"/>
<path d="M907.3,1136.5 H926.2"/>
<path d="M907.3,1198.3 H926.2"/>
<path d="M907.3,1260.4 H926.2"/>
<path d="M907.3,1260.4 H1318.6"/>
<path d="M1024.0,1260.4 V1276.2"/>
<path d="M1121.3,1260.4 V1276.2"/>
<path d="M1219.0,1260.4 V1276.2"/>
<path d="M1317.7,1260.4 V1276.2"/>
</g>
<text transform="translate(897.6,1023.6) scale(0.97,1)" font-size="33.5" text-anchor="end">2.0</text>
<text transform="translate(897.6,1086.4) scale(0.97,1)" font-size="33.5" text-anchor="end">1.5</text>
<text transform="translate(897.6,1149.8) scale(0.97,1)" font-size="33.5" text-anchor="end">0.5</text>
<text transform="translate(897.6,1213.1) scale(0.97,1)" font-size="33.5" text-anchor="end">1.0</text>
<text transform="translate(897.6,1275.7) scale(0.97,1)" font-size="33.5" text-anchor="end">0</text>
<text transform="translate(932.6,1307) scale(0.97,1)" font-size="33.5" text-anchor="middle">200</text>
<text transform="translate(1029,1307) scale(0.97,1)" font-size="33.5" text-anchor="middle">300</text>
<text transform="translate(1125.5,1307) scale(0.97,1)" font-size="33.5" text-anchor="middle">400</text>
<text transform="translate(1222.5,1307) scale(0.97,1)" font-size="33.5" text-anchor="middle">500</text>
<text transform="translate(1318.8,1307) scale(0.97,1)" font-size="33.5" text-anchor="middle">600</text>
<text transform="translate(1123.3,1343.3) scale(0.97,1)" font-size="33.5" text-anchor="middle" font-style="italic">m/z</text>
<text transform="translate(828,1144.4) rotate(-90) scale(0.97,1)" font-size="33.5" text-anchor="middle">Intensity (x10<tspan font-size="27" dy="-7.5">6</tspan><tspan dy="7.5">)</tspan></text>
<path d="M926.5,1260.2 L926.8,1241.1 L928.9,1241.1 L930.1,1248.1 L932.1,1248.1 L932.7,1253.7 L933.9,1253.7 L934.4,1244.7 L936.5,1244.7 L937.9,1242.3 L939.1,1242.3 L939.8,1256.2 L941.8,1256.2 L943.1,1256.0 L943.1,1245.4 L944.2,1245.4 L945.2,1245.0 L946.6,1245.0 L947.7,1245.0 L949.7,1245.0 L950.8,1254.6 L952.3,1254.6 L953.8,1239.9 L955.1,1239.9 L955.5,1234.9 L957.3,1234.9 L958.4,1256.0 L958.4,1246.8 L959.3,1246.8 L960.8,1232.2 L962.4,1232.2 L963.1,1251.8 L965.1,1251.8 L965.5,1240.1 L967.2,1240.1 L967.9,1248.2 L968.9,1248.2 L969.6,1243.1 L970.9,1243.1 L972.4,1253.8 L973.4,1253.8 L974.4,1250.1 L976.1,1250.1 L977.2,1248.3 L978.7,1248.3 L979.3,1256.0 L979.3,1252.4 L981.0,1252.4 L982.1,1233.0 L984.2,1233.0 L984.6,1246.6 L985.8,1246.6 L986.6,1243.9 L987.4,1243.9 L987.7,1242.0 L988.7,1242.0 L989.7,1247.9 L990.7,1247.9 L992.0,1256.0 L992.0,1244.2 L993.8,1244.2 L995.1,1256.0 L995.1,1255.1 L996.8,1255.1 L997.4,1254.5 L998.5,1254.5 L999.2,1247.6 L1000.0,1247.6 L1000.9,1252.0 L1001.9,1252.0 L1002.2,1235.9 L1004.0,1235.9 L1004.4,1243.7 L1005.2,1243.7 L1006.4,1245.0 L1007.5,1245.0 L1008.8,1256.5 L1008.8,1245.2 L1010.6,1245.2 L1011.8,1244.6 L1013.1,1244.6 L1013.5,1233.1 L1015.4,1233.1 L1016.0,1255.9 L1018.0,1255.9 L1018.3,1235.4 L1019.2,1235.4 L1020.0,1252.2 L1020.9,1252.2 L1021.9,1256.5 L1021.9,1251.3 L1023.3,1251.3 L1024.0,1253.5 L1025.4,1253.5 L1025.9,1253.1 L1027.0,1253.1 L1028.2,1250.6 L1030.1,1250.6 L1031.5,1243.2 L1032.4,1243.2 L1033.7,1256.5 L1033.7,1254.1 L1034.7,1254.1 L1035.5,1256.5 L1035.5,1242.1 L1037.0,1242.1 L1037.7,1233.1 L1038.8,1233.1 L1040.0,1256.5 L1040.0,1248.1 L1041.6,1248.1 L1042.6,1256.5 L1042.6,1254.7 L1044.5,1254.7 L1045.0,1255.4 L1046.9,1255.4 L1048.1,1257.8 L1049.6,1257.8 L1050.2,1258.0 L1050.2,1251.6 L1051.1,1251.6 L1051.8,1252.1 L1053.4,1252.1 L1054.7,1254.3 L1056.8,1254.3 L1057.6,1249.9 L1059.5,1249.9 L1060.8,1247.9 L1062.2,1247.9 L1063.1,1258.0 L1063.1,1256.0 L1064.9,1256.0 L1065.7,1255.7 L1067.5,1255.7 L1068.1,1258.0 L1068.1,1251.4 L1070.2,1251.4 L1071.4,1258.1 L1072.3,1258.1 L1072.9,1245.1 L1074.8,1245.1 L1075.9,1258.0 L1075.9,1252.3 L1077.2,1252.3 L1077.9,1258.0 L1077.9,1258.5 L1079.9,1258.5 L1080.7,1253.3 L1082.1,1253.3 L1083.4,1257.8 L1084.6,1257.8 L1084.9,1248.2 L1087.1,1248.2 L1087.8,1257.4 L1088.7,1257.4 L1089.7,1252.2 L1090.7,1252.2 L1091.3,1255.0 L1092.5,1255.0 L1093.4,1253.2 L1095.6,1253.2 L1096.2,1247.0 L1098.4,1247.0 L1099.0,1252.8 L1100.6,1252.8 L1101.1,1256.1 L1102.6,1256.1 L1103.9,1258.0 L1103.9,1258.2 L1105.8,1258.2 L1106.4,1258.0 L1106.4,1252.2 L1107.5,1252.2 L1108.5,1258.0 L1108.5,1257.0 L1109.8,1257.0 L1110.8,1252.4 L1112.7,1252.4 L1113.5,1249.9 L1115.1,1249.9 L1116.1,1248.9 L1118.0,1248.9 L1118.8,1258.0 L1118.8,1258.1 L1120.4,1258.1 L1121.0,1258.0 L1121.0,1257.3 L1122.4,1257.3 L1122.9,1255.6 L1124.0,1255.6 L1125.2,1259.0 L1125.2,1253.3 L1127.1,1253.3 L1127.7,1259.0 L1127.7,1256.8 L1128.8,1256.8 L1129.8,1259.0 L1129.8,1257.8 L1131.1,1257.8 L1132.2,1254.3 L1134.3,1254.3 L1135.6,1253.4 L1137.6,1253.4 L1138.2,1258.5 L1139.5,1258.5 L1139.9,1259.0 L1139.9,1257.8 L1141.8,1257.8 L1142.4,1258.6 L1143.5,1258.6 L1144.0,1259.0 L1144.0,1253.3 L1145.5,1253.3 L1146.7,1259.0 L1146.7,1255.2 L1148.9,1255.2 L1149.4,1252.4 L1150.6,1252.4 L1151.3,1252.1 L1152.1,1252.1 L1153.5,1255.1 L1155.0,1255.1 L1155.8,1254.8 L1156.7,1254.8 L1157.6,1254.7 L1158.7,1254.7 L1160.0,1253.8 L1162.1,1253.8 L1162.5,1259.0 L1162.5,1254.6 L1164.7,1254.6 L1166.0,1253.2 L1167.6,1253.2 L1168.2,1253.9 L1170.2,1253.9 L1170.7,1259.0 L1170.7,1254.1 L1171.6,1254.1 L1172.1,1258.0 L1173.5,1258.0 L1174.9,1259.0 L1174.9,1255.9 L1176.4,1255.9 L1177.0,1259.0 L1177.0,1259.4 L1178.5,1259.4 L1179.9,1255.4 L1180.8,1255.4 L1181.1,1254.1 L1182.9,1254.1 L1184.1,1254.4 L1185.2,1254.4 L1186.4,1259.0 L1186.4,1259.1 L1187.9,1259.1 L1188.7,1257.3 L1190.5,1257.3 L1190.9,1258.7 L1193.0,1258.7 L1194.0,1259.6 L1195.5,1259.6 L1196.6,1255.2 L1198.2,1255.2 L1198.9,1259.7 L1200.5,1259.7 L1201.2,1253.9 L1202.8,1253.9 L1203.2,1259.2 L1203.2,1254.4 L1204.2,1254.4 L1204.7,1259.2 L1204.7,1252.4 L1206.0,1252.4 L1206.5,1258.9 L1207.3,1258.9 L1208.4,1259.6 L1210.0,1259.6 L1210.7,1259.2 L1210.7,1254.2 L1212.3,1254.2 L1212.9,1259.2 L1212.9,1255.7 L1214.0,1255.7 L1214.4,1256.0 L1216.0,1256.0 L1216.8,1255.1 L1218.2,1255.1 L1218.6,1258.8 L1220.7,1258.8 L1221.6,1259.2 L1221.6,1257.8 L1223.4,1257.8 L1224.9,1256.5 L1225.7,1256.5 L1226.5,1259.2 L1226.5,1254.6 L1227.4,1254.6 L1227.8,1257.5 L1229.8,1257.5 L1230.3,1259.2 L1230.3,1252.9 L1232.5,1252.9 L1233.7,1254.3 L1235.8,1254.3 L1237.1,1258.1 L1238.3,1258.1 L1238.7,1255.7 L1239.5,1255.7 L1240.7,1254.1 L1242.5,1254.1 L1243.6,1258.2 L1245.0,1258.2 L1246.4,1255.5 L1247.6,1255.5 L1248.4,1259.0 L1249.3,1259.0 L1250.3,1258.5 L1252.2,1258.5 L1253.5,1258.7 L1255.0,1258.7 L1256.4,1259.2 L1256.4,1258.1 L1258.3,1258.1 L1258.7,1259.7 L1259.7,1259.7 L1260.6,1259.4 L1261.6,1259.4 L1262.1,1259.2 L1262.1,1252.8 L1263.9,1252.8 L1264.7,1253.2 L1266.3,1253.2 L1266.7,1257.8 L1268.0,1257.8 L1269.1,1259.2 L1269.1,1255.8 L1270.7,1255.8 L1271.6,1259.2 L1271.6,1255.9 L1273.8,1255.9 L1275.0,1259.2 L1275.0,1254.3 L1277.0,1254.3 L1277.5,1259.2 L1277.5,1255.5 L1279.1,1255.5 L1280.4,1259.2 L1280.4,1254.1 L1281.4,1254.1 L1282.5,1255.1 L1284.4,1255.1 L1284.7,1253.1 L1285.6,1253.1 L1287.1,1253.6 L1289.2,1253.6 L1289.8,1257.5 L1291.6,1257.5 L1292.3,1259.5 L1293.7,1259.5 L1295.2,1259.2 L1295.2,1259.2 L1296.7,1259.2 L1297.9,1259.2 L1297.9,1259.3 L1299.5,1259.3 L1300.5,1259.2 L1300.5,1259.3 L1302.1,1259.3 L1302.6,1255.3 L1303.5,1255.3 L1303.9,1259.2 L1303.9,1256.4 L1304.7,1256.4 L1305.7,1259.2 L1305.7,1260.2 Z" fill="#1a1212" stroke="#1a1212" stroke-width="0.8" stroke-linejoin="round"/>
<path d="M927.1,1260.2 V1200.0M929.8,1260.2 V1210.2M934.7,1260.2 V1209.3M939.1,1260.2 V1214.2M943.6,1260.2 V1234.7M946.7,1260.2 V1226.2M951.6,1260.2 V1189.8M956.0,1260.2 V1232.4M960.4,1260.2 V1230.2M964.0,1260.2 V1225.8M968.7,1260.2 V1203.6M973.2,1260.2 V1238.2M980.9,1260.2 V1233.3M985.3,1260.2 V1230.7M990.2,1260.2 V1230.2M995.6,1260.2 V1231.1M997.8,1260.2 V1230.2M1002.7,1260.2 V1243.1M1007.1,1260.2 V1223.1M1010.7,1260.2 V1244.9M1019.6,1260.2 V1241.3M1024.4,1260.2 V1242.2M1027.1,1260.2 V1238.7M1028.9,1260.2 V1234.7M1031.3,1260.2 V1056.2M1032.4,1260.2 V1187.4M1036.4,1260.2 V1240.4M1045.9,1260.2 V1220.7M1050.4,1260.2 V1239.3M1058.5,1260.2 V1236.3M1065.9,1260.2 V1239.3M1074.8,1260.2 V1246.7M1083.0,1260.2 V1245.9M1087.4,1260.2 V1244.4M1094.8,1260.2 V1248.9M1099.3,1260.2 V1245.2M1112.6,1260.2 V1253.3M1118.5,1260.2 V1248.9M1121.4,1260.2 V1248.3M1133.6,1260.2 V1247.5M1154.0,1260.2 V1249.1M1159.7,1260.2 V1247.5M1166.9,1260.2 V1232.8M1169.5,1260.2 V1055.2M1170.6,1260.2 V1201.9M1184.5,1260.2 V1154.3M1185.4,1260.2 V1218.2M1206.2,1260.2 V1251.6M1266.5,1260.2 V1252.7M1290.1,1260.2 V1253.2M1196.0,1260.2 V1251.0M1225.0,1260.2 V1252.0M1240.0,1260.2 V1252.5" stroke="#1a1212" stroke-width="2" fill="none"/>
<text transform="translate(1035.3,1040.2) scale(0.97,1)" font-size="33.5" text-anchor="middle">311.2</text>
<text transform="translate(1174.4,1042.3) scale(0.97,1)" font-size="33.5" text-anchor="middle">458.3</text>
<text transform="translate(1189,999.7) scale(0.97,1)" font-size="33.5">CH<tspan font-size="27.5" dy="4">2</tspan><tspan dy="-4">-THF</tspan></text>
<path d="M1244.3,1010.4 L1233.5,1022" stroke="#1a1010" stroke-width="3.6" fill="none"/>
<path d="M1222.6,1034.3 L1230.2,1015.4 L1241.8,1025.5 Z" fill="#1a1010"/>
<text transform="translate(1.5,1423.8) scale(1.0,1)" font-size="55" font-weight="bold">e</text>
<g stroke="#111" stroke-width="2.1" fill="none">
<path d="M97.9,1473.3 V1770.4 M86.5,1758.3 H414.6"/>
<path d="M86.5,1473.3 H97.9"/>
<path d="M86.5,1568.3 H97.9"/>
<path d="M86.5,1663.3 H97.9"/>
<path d="M203.1,1758.3 V1770.4"/>
<path d="M309.0,1758.3 V1770.4"/>
<path d="M414.0,1758.3 V1770.4"/>
</g>
<text transform="translate(82.7,1486.5) scale(0.97,1)" font-size="33.5" text-anchor="end">30</text>
<text transform="translate(82.7,1581.3) scale(0.97,1)" font-size="33.5" text-anchor="end">20</text>
<text transform="translate(82.7,1673.6) scale(0.97,1)" font-size="33.5" text-anchor="end">10</text>
<text transform="translate(82.7,1768.4) scale(0.97,1)" font-size="33.5" text-anchor="end">0</text>
<text transform="translate(98.8,1801) scale(0.97,1)" font-size="33.5" text-anchor="middle">0</text>
<text transform="translate(202.1,1801) scale(0.97,1)" font-size="33.5" text-anchor="middle">200</text>
<text transform="translate(306,1801) scale(0.97,1)" font-size="33.5" text-anchor="middle">400</text>
<text transform="translate(409.6,1801) scale(0.97,1)" font-size="33.5" text-anchor="middle">600</text>
<text transform="translate(158.3,1839.5) scale(0.987,1)" font-size="33.5">CH<tspan font-size="27.5" dy="4">3</tspan><tspan dy="-4">-THF (µM)</tspan></text>
<text transform="translate(33.2,1672.6) rotate(-90) scale(0.97,1)" font-size="33.5"><tspan font-style="italic">V</tspan><tspan font-size="28" dy="5">0</tspan><tspan dy="-5"> (s</tspan><tspan font-size="26" dy="-8">-1</tspan><tspan dy="8">)</tspan></text>
<path d="M97.9,1758.3 L98.08,1755.28 L98.26,1752.32 L98.44,1749.43 L98.61,1746.6 L98.79,1743.84 L98.97,1741.13 L99.15,1738.48 L99.33,1735.88 L99.51,1733.34 L99.68,1730.85 L99.86,1728.41 L100.04,1726.02 L100.22,1723.68 L100.4,1721.38 L100.58,1719.13 L100.76,1716.92 L100.93,1714.75 L101.11,1712.62 L101.29,1710.54 L101.47,1708.49 L101.65,1706.48 L101.83,1704.5 L102,1702.57 L102.18,1700.66 L102.36,1698.79 L102.54,1696.96 L102.72,1695.15 L102.9,1693.38 L103.08,1691.63 L103.25,1689.92 L103.43,1688.24 L103.61,1686.58 L103.79,1684.95 L103.97,1683.35 L104.15,1681.77 L104.33,1680.22 L104.5,1678.69 L104.68,1677.19 L104.86,1675.71 L105.04,1674.25 L105.22,1672.82 L105.4,1671.41 L105.57,1670.02 L105.75,1668.65 L105.93,1667.31 L106.11,1665.98 L106.29,1664.67 L106.47,1663.38 L106.65,1662.11 L106.82,1660.86 L107,1659.63 L107.18,1658.41 L107.36,1657.21 L107.54,1656.03 L107.72,1654.87 L107.89,1653.72 L108.07,1652.59 L108.25,1651.47 L108.43,1650.37 L108.69,1648.77 L109.96,1641.47 L111.24,1634.82 L112.51,1628.72 L113.78,1623.12 L115.05,1617.95 L116.32,1613.16 L117.59,1608.72 L118.86,1604.59 L120.13,1600.73 L121.41,1597.13 L122.68,1593.75 L123.95,1590.57 L125.22,1587.59 L126.49,1584.77 L127.76,1582.11 L129.03,1579.6 L130.3,1577.22 L131.58,1574.96 L132.85,1572.82 L134.12,1570.78 L135.39,1568.84 L136.66,1566.99 L137.93,1565.22 L139.2,1563.53 L140.48,1561.92 L141.75,1560.37 L143.02,1558.89 L144.29,1557.47 L145.56,1556.11 L146.83,1554.8 L148.1,1553.54 L149.37,1552.33 L150.65,1551.16 L151.92,1550.04 L153.19,1548.95 L154.46,1547.91 L155.73,1546.9 L157,1545.92 L158.27,1544.98 L159.54,1544.07 L160.82,1543.19 L162.09,1542.34 L163.36,1541.51 L164.63,1540.71 L165.9,1539.93 L167.17,1539.18 L168.44,1538.44 L169.71,1537.73 L170.99,1537.04 L172.26,1536.37 L173.53,1535.72 L174.8,1535.09 L176.07,1534.47 L177.34,1533.87 L178.61,1533.29 L179.88,1532.72 L181.16,1532.16 L182.43,1531.62 L183.7,1531.09 L184.97,1530.58 L186.24,1530.08 L187.51,1529.59 L188.78,1529.11 L190.05,1528.64 L191.33,1528.19 L192.6,1527.74 L193.87,1527.31 L195.14,1526.88 L196.41,1526.47 L197.68,1526.06 L198.95,1525.66 L200.22,1525.28 L201.5,1524.89 L202.77,1524.52 L204.04,1524.16 L205.31,1523.8 L206.58,1523.45 L207.85,1523.11 L209.12,1522.77 L210.4,1522.44 L211.67,1522.12 L212.94,1521.8 L214.21,1521.49 L215.48,1521.19 L216.75,1520.89 L218.02,1520.59 L219.29,1520.3 L220.57,1520.02 L221.84,1519.74 L223.11,1519.47 L224.38,1519.2 L225.65,1518.94 L226.92,1518.68 L228.19,1518.43 L229.46,1518.18 L230.74,1517.94 L232.01,1517.69 L233.28,1517.46 L234.55,1517.22 L235.82,1517 L237.09,1516.77 L238.36,1516.55 L239.63,1516.33 L240.91,1516.12 L242.18,1515.9 L243.45,1515.7 L244.72,1515.49 L245.99,1515.29 L247.26,1515.09 L248.53,1514.9 L249.8,1514.71 L251.08,1514.52 L252.35,1514.33 L253.62,1514.15 L254.89,1513.96 L256.16,1513.79 L257.43,1513.61 L258.7,1513.44 L259.97,1513.27 L261.25,1513.1 L262.52,1512.93 L263.79,1512.77 L265.06,1512.61 L266.33,1512.45 L267.6,1512.29 L268.87,1512.13 L270.14,1511.98 L271.42,1511.83 L272.69,1511.68 L273.96,1511.54 L275.23,1511.39 L276.5,1511.25 L277.77,1511.11 L279.04,1510.97 L280.32,1510.83 L281.59,1510.69 L282.86,1510.56 L284.13,1510.43 L285.4,1510.3 L286.67,1510.17 L287.94,1510.04 L289.21,1509.92 L290.49,1509.79 L291.76,1509.67 L293.03,1509.55 L294.3,1509.43 L295.57,1509.31 L296.84,1509.19 L298.11,1509.08 L299.38,1508.96 L300.66,1508.85 L301.93,1508.74 L303.2,1508.63 L304.47,1508.52 L305.74,1508.41 L307.01,1508.3 L308.28,1508.2 L309.55,1508.09 L310.83,1507.99 L312.1,1507.89 L313.37,1507.79 L314.64,1507.69 L315.91,1507.59 L317.18,1507.49 L318.45,1507.39 L319.72,1507.3 L321,1507.2 L322.27,1507.11 L323.54,1507.02 L324.81,1506.93 L326.08,1506.84 L327.35,1506.75 L328.62,1506.66 L329.89,1506.57 L331.17,1506.48 L332.44,1506.4 L333.71,1506.31 L334.98,1506.23 L336.25,1506.14 L337.52,1506.06 L338.79,1505.98 L340.06,1505.9 L341.34,1505.82 L342.61,1505.74 L343.88,1505.66 L345.15,1505.58 L346.42,1505.5 L347.69,1505.43 L348.96,1505.35 L350.24,1505.28 L351.51,1505.2 L352.78,1505.13 L354.05,1505.06 L355.32,1504.98 L356.59,1504.91 L357.86,1504.84 L359.13,1504.77 L360.41,1504.7 L361.68,1504.63 L365,1509" stroke="#111" stroke-width="2.2" fill="none"/>
<circle cx="102.1" cy="1719.4" r="5.8" fill="#bfeacc" stroke="#111" stroke-width="2.7"/>
<circle cx="103.1" cy="1701.9" r="5.8" fill="#bfeacc" stroke="#111" stroke-width="2.7"/>
<circle cx="104.1" cy="1680.4" r="5.8" fill="#bfeacc" stroke="#111" stroke-width="2.7"/>
<circle cx="109.8" cy="1652.6" r="5.8" fill="#bfeacc" stroke="#111" stroke-width="2.7"/>
<circle cx="125.5" cy="1595.9" r="5.8" fill="#bfeacc" stroke="#111" stroke-width="2.7"/>
<circle cx="151.8" cy="1544.7" r="5.8" fill="#bfeacc" stroke="#111" stroke-width="2.7"/>
<circle cx="178.4" cy="1522.4" r="5.8" fill="#bfeacc" stroke="#111" stroke-width="2.7"/>
<circle cx="204.6" cy="1520.2" r="5.8" fill="#bfeacc" stroke="#111" stroke-width="2.7"/>
<circle cx="362.7" cy="1514.3" r="5.8" fill="#bfeacc" stroke="#111" stroke-width="2.7"/>
<path d="M102.1,1716.4 V1722.4" stroke="#111" stroke-width="1.8" fill="none"/>
<path d="M100.3,1718.6 L102.1,1715.6 L103.9,1718.6 Z M100.3,1720.2 L102.1,1723.2 L103.9,1720.2 Z" fill="#111"/>
<path d="M103.1,1698.9 V1704.9" stroke="#111" stroke-width="1.8" fill="none"/>
<path d="M101.3,1701.1 L103.1,1698.1 L104.9,1701.1 Z M101.3,1702.7 L103.1,1705.7 L104.9,1702.7 Z" fill="#111"/>
<path d="M104.1,1676.4 V1684.4" stroke="#111" stroke-width="1.8" fill="none"/>
<path d="M102.3,1678.6 L104.1,1675.6 L105.9,1678.6 Z M102.3,1682.2 L104.1,1685.2 L105.9,1682.2 Z" fill="#111"/>
<path d="M109.8,1642.6 V1661.6" stroke="#111" stroke-width="1.8" fill="none"/>
<path d="M108.0,1644.8 L109.8,1641.8 L111.6,1644.8 Z M108.0,1659.4 L109.8,1662.4 L111.6,1659.4 Z" fill="#111"/>
<path d="M125.5,1589.9 V1604.9" stroke="#111" stroke-width="1.8" fill="none"/>
<path d="M123.7,1592.1 L125.5,1589.1 L127.3,1592.1 Z M123.7,1602.7 L125.5,1605.7 L127.3,1602.7 Z" fill="#111"/>
<path d="M151.8,1541.7 V1547.7" stroke="#111" stroke-width="1.8" fill="none"/>
<path d="M150.0,1543.9 L151.8,1540.9 L153.6,1543.9 Z M150.0,1545.5 L151.8,1548.5 L153.6,1545.5 Z" fill="#111"/>
<path d="M178.4,1518.4 V1526.4" stroke="#111" stroke-width="1.8" fill="none"/>
<path d="M176.6,1520.6 L178.4,1517.6 L180.2,1520.6 Z M176.6,1524.2 L178.4,1527.2 L180.2,1524.2 Z" fill="#111"/>
<path d="M204.6,1516.2 V1524.2" stroke="#111" stroke-width="1.8" fill="none"/>
<path d="M202.8,1518.4 L204.6,1515.4 L206.4,1518.4 Z M202.8,1522.0 L204.6,1525.0 L206.4,1522.0 Z" fill="#111"/>
<path d="M256,1646.5 H261" stroke="#999" stroke-width="1.2"/>
<circle cx="362.7" cy="1498.6" r="1.6" fill="#111"/><circle cx="362.7" cy="1530" r="1.6" fill="#111"/><circle cx="362.7" cy="1512" r="1.7" fill="#111"/>
<text transform="translate(440.6,1423) scale(1.1,1)" font-size="53.5" font-weight="bold">f</text>
<g stroke="#111" stroke-width="2.1" fill="none">
<path d="M570.2,1474.4 V1758.0 M559.6,1758.0 H868.2"/>
<path d="M559.3,1474.4 H570.2"/>
<path d="M559.3,1531.0 H570.2"/>
<path d="M559.3,1587.8 H570.2"/>
<path d="M559.3,1644.6 H570.2"/>
<path d="M559.3,1701.3 H570.2"/>
<path d="M570.5,1758.0 V1771.1"/>
<path d="M669.1,1758.0 V1771.1"/>
<path d="M768.0,1758.0 V1771.1"/>
<path d="M867.6,1758.0 V1771.1"/>
</g>
<text transform="translate(552.6,1486.3) scale(0.97,1)" font-size="33.5" text-anchor="end">100</text>
<text transform="translate(552.6,1542.3) scale(0.97,1)" font-size="33.5" text-anchor="end">80</text>
<text transform="translate(552.6,1598) scale(0.97,1)" font-size="33.5" text-anchor="end">60</text>
<text transform="translate(552.6,1654.3) scale(0.97,1)" font-size="33.5" text-anchor="end">40</text>
<text transform="translate(552.6,1710.6) scale(0.97,1)" font-size="33.5" text-anchor="end">20</text>
<text transform="translate(568,1801.5) scale(0.97,1)" font-size="33.5" text-anchor="middle">4.0</text>
<text transform="translate(668.6,1801.5) scale(0.97,1)" font-size="33.5" text-anchor="middle">6.0</text>
<text transform="translate(768.8,1801.5) scale(0.97,1)" font-size="33.5" text-anchor="middle">8.0</text>
<text transform="translate(870.2,1801.5) scale(0.97,1)" font-size="33.5" text-anchor="middle">10.0</text>
<text transform="translate(734.3,1848.4) scale(0.97,1)" font-size="33.5" text-anchor="middle">pH</text>
<text transform="translate(487.6,1612.8) rotate(-90) scale(0.982,1)" font-size="33.5" text-anchor="middle">Relative activity (%)</text>
<path d="M620.2,1646.7 L670,1608.7 L719.8,1515.1 L743.1,1476.2 L769,1506 L793.5,1571.4 L818.7,1639.5" stroke="#111" stroke-width="2.4" fill="none" stroke-linejoin="round"/>
<circle cx="620.2" cy="1646.7" r="5.8" fill="#bfeacc" stroke="#111" stroke-width="2.7"/>
<path d="M620.2,1639.7 V1653.7" stroke="#111" stroke-width="1.8" fill="none"/>
<path d="M618.4,1641.9 L620.2,1638.9 L622.0,1641.9 Z M618.4,1651.5 L620.2,1654.5 L622.0,1651.5 Z" fill="#111"/>
<circle cx="670" cy="1608.7" r="5.8" fill="#bfeacc" stroke="#111" stroke-width="2.7"/>
<path d="M670.0,1604.7 V1612.7" stroke="#111" stroke-width="1.8" fill="none"/>
<path d="M668.2,1606.9 L670.0,1603.9 L671.8,1606.9 Z M668.2,1610.5 L670.0,1613.5 L671.8,1610.5 Z" fill="#111"/>
<circle cx="719.8" cy="1515.1" r="5.8" fill="#bfeacc" stroke="#111" stroke-width="2.7"/>
<path d="M719.8,1509.1 V1520.1" stroke="#111" stroke-width="1.8" fill="none"/>
<path d="M718.0,1511.3 L719.8,1508.3 L721.6,1511.3 Z M718.0,1517.9 L719.8,1520.9 L721.6,1517.9 Z" fill="#111"/>
<circle cx="743.1" cy="1476.2" r="5.8" fill="#bfeacc" stroke="#111" stroke-width="2.7"/>
<path d="M743.1,1472.2 V1480.2" stroke="#111" stroke-width="1.8" fill="none"/>
<path d="M741.3,1474.4 L743.1,1471.4 L744.9,1474.4 Z M741.3,1478.0 L743.1,1481.0 L744.9,1478.0 Z" fill="#111"/>
<circle cx="769" cy="1506" r="5.8" fill="#bfeacc" stroke="#111" stroke-width="2.7"/>
<path d="M769.0,1502.0 V1510.0" stroke="#111" stroke-width="1.8" fill="none"/>
<path d="M767.2,1504.2 L769.0,1501.2 L770.8,1504.2 Z M767.2,1507.8 L769.0,1510.8 L770.8,1507.8 Z" fill="#111"/>
<circle cx="793.5" cy="1571.4" r="5.8" fill="#bfeacc" stroke="#111" stroke-width="2.7"/>
<path d="M793.5,1561.4 V1581.4" stroke="#111" stroke-width="1.8" fill="none"/>
<path d="M791.7,1563.6 L793.5,1560.6 L795.3,1563.6 Z M791.7,1579.2 L793.5,1582.2 L795.3,1579.2 Z" fill="#111"/>
<circle cx="818.7" cy="1639.5" r="5.8" fill="#bfeacc" stroke="#111" stroke-width="2.7"/>
<path d="M818.7,1634.5 V1644.5" stroke="#111" stroke-width="1.8" fill="none"/>
<path d="M816.9,1636.7 L818.7,1633.7 L820.5,1636.7 Z M816.9,1642.3 L818.7,1645.3 L820.5,1642.3 Z" fill="#111"/>
<text transform="translate(882.6,1421.5) scale(1.0,1)" font-size="53.5" font-weight="bold">g</text>
<g stroke="#111" stroke-width="2.1" fill="none">
<path d="M1018.3,1471.0 V1768.3 M1006.7,1754.3 H1328.3"/>
<path d="M1006.7,1471.0 H1018.3"/>
<path d="M1006.7,1527.6 H1018.3"/>
<path d="M1006.7,1584.3 H1018.3"/>
<path d="M1006.7,1641.0 H1018.3"/>
<path d="M1006.7,1697.7 H1018.3"/>
<path d="M1069.3,1754.3 V1768.3"/>
<path d="M1121.0,1754.3 V1768.3"/>
<path d="M1172.7,1754.3 V1768.3"/>
<path d="M1225.0,1754.3 V1768.3"/>
<path d="M1276.0,1754.3 V1768.3"/>
<path d="M1327.7,1754.3 V1768.3"/>
</g>
<text transform="translate(999.9,1486.5) scale(0.97,1)" font-size="33.5" text-anchor="end">100</text>
<text transform="translate(999.9,1542.5) scale(0.97,1)" font-size="33.5" text-anchor="end">80</text>
<text transform="translate(999.9,1598.4) scale(0.97,1)" font-size="33.5" text-anchor="end">60</text>
<text transform="translate(999.9,1654.3) scale(0.97,1)" font-size="33.5" text-anchor="end">40</text>
<text transform="translate(999.9,1710.6) scale(0.97,1)" font-size="33.5" text-anchor="end">20</text>
<text transform="translate(999.9,1766.8) scale(0.97,1)" font-size="33.5" text-anchor="end">0</text>
<text transform="translate(1017.3,1801.5) scale(0.97,1)" font-size="33.5" text-anchor="middle">10</text>
<text transform="translate(1068,1801.5) scale(0.97,1)" font-size="33.5" text-anchor="middle">20</text>
<text transform="translate(1121,1801.5) scale(0.97,1)" font-size="33.5" text-anchor="middle">30</text>
<text transform="translate(1172.8,1801.5) scale(0.97,1)" font-size="33.5" text-anchor="middle">40</text>
<text transform="translate(1225,1801.5) scale(0.97,1)" font-size="33.5" text-anchor="middle">50</text>
<text transform="translate(1278,1801.5) scale(0.97,1)" font-size="33.5" text-anchor="middle">60</text>
<text transform="translate(1329,1801.5) scale(0.97,1)" font-size="33.5" text-anchor="middle">70</text>
<text transform="translate(1156.7,1846.7) scale(0.995,1)" font-size="33.5" text-anchor="middle">Temperature (°C)</text>
<text transform="translate(929.9,1613.3) rotate(-90) scale(0.985,1)" font-size="33.5" text-anchor="middle">Relative activity (%)</text>
<path d="M1042.3,1676 L1068.3,1646 L1095,1585 L1120,1496.7 L1146,1468.3 L1171.7,1477.3 L1198.3,1533.3 L1224,1602.3 L1275.7,1683.3 L1327.7,1746" stroke="#111" stroke-width="2.4" fill="none" stroke-linejoin="round"/>
<circle cx="1042.3" cy="1676" r="5.8" fill="#bfeacc" stroke="#111" stroke-width="2.7"/>
<path d="M1042.3,1670.0 V1682.0" stroke="#111" stroke-width="1.8" fill="none"/>
<path d="M1040.5,1672.2 L1042.3,1669.2 L1044.1,1672.2 Z M1040.5,1679.8 L1042.3,1682.8 L1044.1,1679.8 Z" fill="#111"/>
<circle cx="1068.3" cy="1646" r="5.8" fill="#bfeacc" stroke="#111" stroke-width="2.7"/>
<path d="M1068.3,1642.0 V1651.0" stroke="#111" stroke-width="1.8" fill="none"/>
<path d="M1066.5,1644.2 L1068.3,1641.2 L1070.1,1644.2 Z M1066.5,1648.8 L1068.3,1651.8 L1070.1,1648.8 Z" fill="#111"/>
<circle cx="1095" cy="1585" r="5.8" fill="#bfeacc" stroke="#111" stroke-width="2.7"/>
<path d="M1095.0,1576.0 V1594.0" stroke="#111" stroke-width="1.8" fill="none"/>
<path d="M1093.2,1578.2 L1095.0,1575.2 L1096.8,1578.2 Z M1093.2,1591.8 L1095.0,1594.8 L1096.8,1591.8 Z" fill="#111"/>
<circle cx="1120" cy="1496.7" r="5.8" fill="#bfeacc" stroke="#111" stroke-width="2.7"/>
<path d="M1120.0,1488.7 V1504.7" stroke="#111" stroke-width="1.8" fill="none"/>
<path d="M1118.2,1490.9 L1120.0,1487.9 L1121.8,1490.9 Z M1118.2,1502.5 L1120.0,1505.5 L1121.8,1502.5 Z" fill="#111"/>
<circle cx="1146" cy="1468.3" r="5.8" fill="#bfeacc" stroke="#111" stroke-width="2.7"/>
<path d="M1146.0,1465.3 V1471.3" stroke="#111" stroke-width="1.8" fill="none"/>
<path d="M1144.2,1467.5 L1146.0,1464.5 L1147.8,1467.5 Z M1144.2,1469.1 L1146.0,1472.1 L1147.8,1469.1 Z" fill="#111"/>
<circle cx="1171.7" cy="1477.3" r="5.8" fill="#bfeacc" stroke="#111" stroke-width="2.7"/>
<path d="M1171.7,1465.3 V1489.3" stroke="#111" stroke-width="1.8" fill="none"/>
<path d="M1169.9,1467.5 L1171.7,1464.5 L1173.5,1467.5 Z M1169.9,1487.1 L1171.7,1490.1 L1173.5,1487.1 Z" fill="#111"/>
<circle cx="1198.3" cy="1533.3" r="5.8" fill="#bfeacc" stroke="#111" stroke-width="2.7"/>
<path d="M1198.3,1529.3 V1537.3" stroke="#111" stroke-width="1.8" fill="none"/>
<path d="M1196.5,1531.5 L1198.3,1528.5 L1200.1,1531.5 Z M1196.5,1535.1 L1198.3,1538.1 L1200.1,1535.1 Z" fill="#111"/>
<circle cx="1224" cy="1602.3" r="5.8" fill="#bfeacc" stroke="#111" stroke-width="2.7"/>
<path d="M1224.0,1598.3 V1606.3" stroke="#111" stroke-width="1.8" fill="none"/>
<path d="M1222.2,1600.5 L1224.0,1597.5 L1225.8,1600.5 Z M1222.2,1604.1 L1224.0,1607.1 L1225.8,1604.1 Z" fill="#111"/>
<circle cx="1275.7" cy="1683.3" r="5.8" fill="#bfeacc" stroke="#111" stroke-width="2.7"/>
<path d="M1275.7,1679.3 V1687.3" stroke="#111" stroke-width="1.8" fill="none"/>
<path d="M1273.9,1681.5 L1275.7,1678.5 L1277.5,1681.5 Z M1273.9,1685.1 L1275.7,1688.1 L1277.5,1685.1 Z" fill="#111"/>
<circle cx="1327.7" cy="1746" r="5.8" fill="#bfeacc" stroke="#111" stroke-width="2.7"/>
<path d="M1327.7,1743.0 V1749.0" stroke="#111" stroke-width="1.8" fill="none"/>
<path d="M1325.9,1745.2 L1327.7,1742.2 L1329.5,1745.2 Z M1325.9,1746.8 L1327.7,1749.8 L1329.5,1746.8 Z" fill="#111"/>
</svg></body></html>
